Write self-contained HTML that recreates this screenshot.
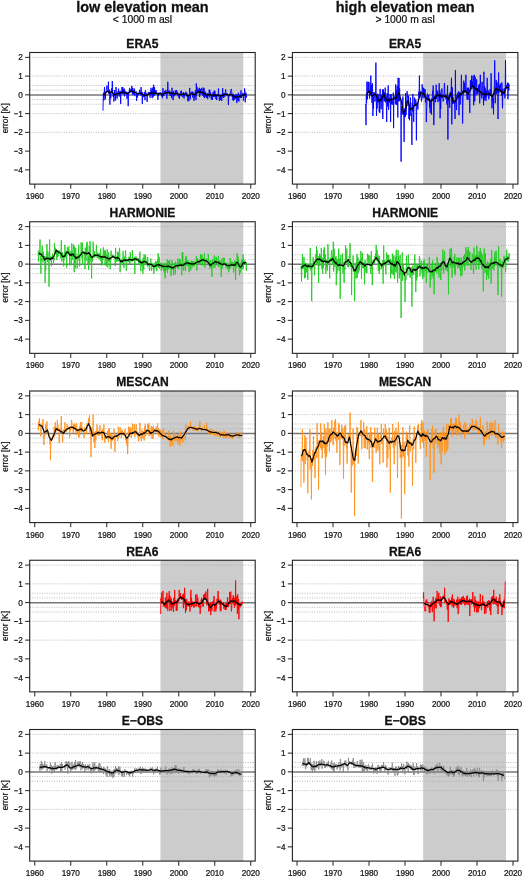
<!DOCTYPE html>
<html><head><meta charset="utf-8"><style>html,body{margin:0;padding:0;background:#fff;overflow:hidden;}svg{display:block;filter:blur(0.35px);}</style></head>
<body><svg width="525" height="881" viewBox="0 0 525 881" font-family='"Liberation Sans", sans-serif'>
<rect width="525" height="881" fill="#fff"/>
<style>text{fill:#111;stroke:#111;stroke-width:0.22px;}text.b{stroke-width:0.28px;}</style>
<text x="142.45" y="12.2" font-size="14.45" font-weight="bold" class="b" text-anchor="middle">low elevation mean</text>
<text x="142.45" y="23.3" font-size="10.3" text-anchor="middle">&lt; 1000 m asl</text>
<text x="405.15" y="12.2" font-size="14.45" font-weight="bold" class="b" text-anchor="middle">high elevation mean</text>
<text x="405.15" y="23.3" font-size="10.3" text-anchor="middle">&gt; 1000 m asl</text>
<rect x="160.45" y="52.50" width="82.80" height="131.60" fill="#cccccc"/>
<line x1="29.70" x2="255.20" y1="57.37" y2="57.37" stroke="#aaa" stroke-width="0.8" stroke-dasharray="1,1.45"/>
<line x1="29.70" x2="255.20" y1="76.12" y2="76.12" stroke="#aaa" stroke-width="0.8" stroke-dasharray="1,1.45"/>
<line x1="29.70" x2="255.20" y1="85.49" y2="85.49" stroke="#aaa" stroke-width="0.8" stroke-dasharray="1,1.45"/>
<line x1="29.70" x2="255.20" y1="90.18" y2="90.18" stroke="#aaa" stroke-width="0.8" stroke-dasharray="1,1.45"/>
<line x1="29.70" x2="255.20" y1="99.55" y2="99.55" stroke="#aaa" stroke-width="0.8" stroke-dasharray="1,1.45"/>
<line x1="29.70" x2="255.20" y1="104.24" y2="104.24" stroke="#aaa" stroke-width="0.8" stroke-dasharray="1,1.45"/>
<line x1="29.70" x2="255.20" y1="113.61" y2="113.61" stroke="#aaa" stroke-width="0.8" stroke-dasharray="1,1.45"/>
<line x1="29.70" x2="255.20" y1="132.36" y2="132.36" stroke="#aaa" stroke-width="0.8" stroke-dasharray="1,1.45"/>
<line x1="29.70" x2="255.20" y1="95.07" y2="95.07" stroke="#777" stroke-width="1.4"/>
<polyline points="103.00,110.71 103.30,94.17 103.60,92.65 103.90,100.48 104.20,95.95 104.50,87.10 104.80,95.47 105.10,94.25 105.40,99.36 105.70,91.26 106.00,91.20 106.30,92.04 106.60,90.56 106.90,85.67 107.20,91.27 107.50,91.90 107.80,91.87 108.10,91.63 108.40,81.76 108.70,93.30 109.00,92.38 109.30,93.88 109.60,89.67 109.90,104.62 110.20,92.93 110.50,92.35 110.80,98.27 111.10,91.35 111.40,91.83 111.70,88.42 112.00,92.62 112.30,81.00 112.60,93.93 112.90,93.97 113.20,96.68 113.50,93.82 113.80,101.57 114.10,100.20 114.40,90.00 114.70,95.65 115.00,92.80 115.30,94.82 115.60,100.53 115.90,87.10 116.20,87.70 116.50,94.15 116.80,94.66 117.10,98.56 117.40,94.39 117.70,94.53 118.00,91.33 118.30,93.60 118.60,88.63 118.90,94.30 119.20,96.52 119.50,91.94 119.80,94.44 120.10,90.81 120.40,95.04 120.70,103.86 121.00,92.74 121.30,93.80 121.60,93.72 121.90,87.17 122.20,89.22 122.50,93.60 122.80,87.13 123.10,94.22 123.40,89.55 123.70,93.18 124.00,94.52 124.30,88.62 124.60,96.40 124.90,91.92 125.20,93.15 125.50,91.43 125.80,90.94 126.10,92.85 126.40,93.80 126.70,92.41 127.00,98.95 127.30,95.04 127.60,92.30 127.90,92.25 128.20,106.14 128.50,93.90 128.80,92.24 129.10,93.33 129.40,89.89 129.70,87.86 130.00,92.85 130.30,91.27 130.60,89.92 130.90,89.93 131.20,89.11 131.50,91.34 131.80,85.90 132.10,92.32 132.40,94.02 132.70,87.86 133.00,94.82 133.30,90.11 133.60,91.36 133.90,93.82 134.20,88.48 134.50,90.06 134.80,96.14 135.10,92.03 135.40,92.61 135.70,92.14 136.00,91.27 136.30,92.00 136.60,100.81 136.90,94.25 137.20,93.86 137.50,97.37 137.80,94.28 138.10,93.15 138.40,93.86 138.70,95.05 139.00,92.08 139.30,92.25 139.60,89.79 139.90,94.10 140.20,91.73 140.50,94.24 140.80,95.52 141.10,87.10 141.40,94.68 141.70,93.89 142.00,91.89 142.30,103.86 142.60,92.52 142.90,96.83 143.20,97.21 143.50,94.80 143.80,96.63 144.10,96.74 144.40,92.04 144.70,94.33 145.00,100.14 145.30,90.49 145.60,90.14 145.90,95.51 146.20,94.46 146.50,93.58 146.80,93.19 147.10,101.80 147.40,95.26 147.70,94.56 148.00,94.34 148.30,91.96 148.60,93.73 148.90,92.90 149.20,94.14 149.50,92.73 149.80,92.11 150.10,97.81 150.40,91.78 150.70,93.53 151.00,87.82 151.30,92.82 151.60,95.06 151.90,89.62 152.20,98.14 152.50,90.35 152.80,87.49 153.10,97.21 153.40,94.83 153.70,84.81 154.00,95.28 154.30,95.60 154.60,87.17 154.90,95.21 155.20,93.22 155.50,90.66 155.80,93.77 156.10,90.27 156.40,93.02 156.70,93.62 157.00,92.62 157.30,93.21 157.60,94.82 157.90,99.79 158.20,94.38 158.50,96.00 158.80,92.82 159.10,92.51 159.40,92.61 159.70,93.58 160.00,93.55 160.30,92.87 160.60,92.40 160.90,93.58 161.20,94.23 161.50,96.43 161.80,93.46 162.10,95.02 162.40,98.21 162.70,93.18 163.00,88.19 163.30,96.24 163.60,93.21 163.90,95.75 164.20,93.84 164.50,93.29 164.80,90.83 165.10,93.72 165.40,93.14 165.70,91.38 166.00,89.93 166.30,92.52 166.60,95.28 166.90,98.78 167.20,92.94 167.50,93.55 167.80,81.76 168.10,91.98 168.40,91.43 168.70,91.02 169.00,92.95 169.30,90.54 169.60,93.83 169.90,91.31 170.20,96.06 170.50,93.60 170.80,93.95 171.10,91.93 171.40,93.03 171.70,98.15 172.00,87.84 172.30,94.11 172.60,92.94 172.90,97.90 173.20,100.05 173.50,91.14 173.80,95.76 174.10,93.73 174.40,94.88 174.70,96.17 175.00,93.44 175.30,90.34 175.60,93.42 175.90,94.64 176.20,94.02 176.50,90.06 176.80,90.86 177.10,94.39 177.40,91.83 177.70,92.76 178.00,96.13 178.30,95.58 178.60,94.39 178.90,97.76 179.20,94.02 179.50,98.74 179.80,94.56 180.10,95.29 180.40,92.77 180.70,91.47 181.00,92.66 181.30,90.65 181.60,95.53 181.90,95.12 182.20,96.97 182.50,97.05 182.80,96.03 183.10,92.66 183.40,95.13 183.70,92.05 184.00,98.52 184.30,94.04 184.60,95.64 184.90,95.17 185.20,94.45 185.50,94.31 185.80,91.79 186.10,92.04 186.40,95.38 186.70,96.40 187.00,93.11 187.30,95.66 187.60,95.37 187.90,101.22 188.20,96.22 188.50,97.33 188.80,101.11 189.10,98.62 189.40,93.65 189.70,87.90 190.00,93.99 190.30,99.29 190.60,94.89 190.90,94.65 191.20,91.77 191.50,92.59 191.80,93.04 192.10,93.09 192.40,91.48 192.70,97.50 193.00,94.45 193.30,93.91 193.60,92.42 193.90,100.81 194.20,99.55 194.50,94.94 194.80,96.75 195.10,92.58 195.40,90.30 195.70,94.75 196.00,100.08 196.30,83.29 196.60,95.30 196.90,86.72 197.20,93.02 197.50,90.56 197.80,92.91 198.10,88.68 198.40,92.70 198.70,91.52 199.00,92.98 199.30,87.79 199.60,97.04 199.90,93.70 200.20,91.19 200.50,89.09 200.80,94.47 201.10,93.70 201.40,88.39 201.70,87.93 202.00,93.20 202.30,91.64 202.60,95.37 202.90,94.14 203.20,87.55 203.50,96.62 203.80,95.39 204.10,88.28 204.40,97.99 204.70,92.43 205.00,93.81 205.30,91.74 205.60,96.24 205.90,93.98 206.20,97.72 206.50,94.12 206.80,97.69 207.10,92.88 207.40,94.68 207.70,99.15 208.00,95.54 208.30,94.67 208.60,95.18 208.90,95.88 209.20,89.58 209.50,97.31 209.80,90.10 210.10,94.48 210.40,92.89 210.70,92.76 211.00,97.22 211.30,99.61 211.60,94.69 211.90,94.50 212.20,95.96 212.50,99.85 212.80,94.60 213.10,92.15 213.40,96.94 213.70,94.74 214.00,92.16 214.30,90.68 214.60,96.85 214.90,90.84 215.20,96.26 215.50,94.35 215.80,98.89 216.10,94.89 216.40,94.41 216.70,100.05 217.00,95.97 217.30,94.68 217.60,95.00 217.90,94.47 218.20,93.90 218.50,88.51 218.80,96.92 219.10,97.22 219.40,100.90 219.70,96.37 220.00,94.61 220.30,95.06 220.60,100.05 220.90,96.18 221.20,94.74 221.50,99.67 221.80,100.97 222.10,96.61 222.40,93.04 222.70,88.20 223.00,97.05 223.30,94.78 223.60,97.83 223.90,93.09 224.20,93.86 224.50,96.50 224.80,97.07 225.10,93.03 225.40,91.67 225.70,89.39 226.00,94.02 226.30,95.22 226.60,95.14 226.90,94.02 227.20,93.01 227.50,94.89 227.80,94.94 228.10,96.59 228.40,104.92 228.70,95.91 229.00,95.24 229.30,96.13 229.60,96.29 229.90,94.80 230.20,95.76 230.50,90.90 230.80,90.39 231.10,89.23 231.40,89.07 231.70,91.50 232.00,96.85 232.30,97.01 232.60,96.07 232.90,100.19 233.20,93.71 233.50,100.92 233.80,95.12 234.10,100.02 234.40,95.16 234.70,98.43 235.00,96.90 235.30,94.66 235.60,97.44 235.90,99.14 236.20,94.57 236.50,96.84 236.80,103.03 237.10,94.14 237.40,95.67 237.70,98.24 238.00,100.76 238.30,92.68 238.60,96.04 238.90,101.57 239.20,97.26 239.50,97.05 239.80,94.44 240.10,95.67 240.40,98.06 240.70,95.50 241.00,90.44 241.30,97.94 241.60,95.08 241.90,95.49 242.20,95.90 242.50,93.29 242.80,95.97 243.10,93.18 243.40,100.58 243.70,98.46 244.00,94.72 244.30,95.01 244.60,88.40 244.90,92.19 245.20,102.33 245.50,97.70 245.80,92.43 246.10,93.95 246.40,97.63 246.70,96.20" fill="none" stroke="#0000ff" stroke-width="0.9" stroke-linejoin="miter" stroke-miterlimit="2"/><polyline points="103.90,95.08 104.20,94.67 104.50,94.35 104.80,93.98 105.10,93.57 105.40,93.31 105.70,93.18 106.00,92.56 106.30,92.19 106.60,91.84 106.90,91.61 107.20,91.57 107.50,91.31 107.80,91.26 108.10,91.59 108.40,91.67 108.70,91.79 109.00,92.57 109.30,92.57 109.60,92.57 109.90,92.35 110.20,92.41 110.50,92.19 110.80,92.18 111.10,92.19 111.40,92.23 111.70,92.33 112.00,91.89 112.30,92.38 112.60,92.65 112.90,92.91 113.20,93.43 113.50,94.04 113.80,95.03 114.10,94.86 114.40,94.67 114.70,94.53 115.00,94.45 115.30,94.49 115.60,94.49 115.90,94.64 116.20,94.09 116.50,94.30 116.80,93.85 117.10,93.93 117.40,94.02 117.70,93.47 118.00,93.52 118.30,93.69 118.60,93.76 118.90,93.52 119.20,93.16 119.50,93.13 119.80,93.08 120.10,92.83 120.40,92.55 120.70,92.86 121.00,92.41 121.30,92.27 121.60,92.12 121.90,92.04 122.20,92.26 122.50,91.83 122.80,92.18 123.10,92.13 123.40,92.10 123.70,91.96 124.00,92.20 124.30,92.44 124.60,92.44 124.90,92.73 125.20,93.00 125.50,93.32 125.80,93.25 126.10,93.09 126.40,93.60 126.70,93.43 127.00,93.44 127.30,93.44 127.60,93.33 127.90,93.17 128.20,93.16 128.50,92.99 128.80,92.83 129.10,92.25 129.40,91.86 129.70,91.78 130.00,91.35 130.30,91.06 130.60,91.06 130.90,91.05 131.20,91.16 131.50,91.20 131.80,91.38 132.10,91.45 132.40,91.29 132.70,91.30 133.00,91.68 133.30,91.87 133.60,91.95 133.90,92.33 134.20,92.27 134.50,92.15 134.80,92.27 135.10,92.24 135.40,92.46 135.70,92.82 136.00,92.83 136.30,93.09 136.60,93.30 136.90,93.29 137.20,93.33 137.50,93.35 137.80,93.24 138.10,93.45 138.40,93.46 138.70,93.52 139.00,93.62 139.30,93.58 139.60,93.43 139.90,93.43 140.20,93.38 140.50,93.43 140.80,93.30 141.10,93.62 141.40,93.93 141.70,94.25 142.00,94.42 142.30,94.74 142.60,94.62 142.90,94.56 143.20,95.02 143.50,94.78 143.80,94.94 144.10,95.18 144.40,95.22 144.70,95.33 145.00,95.15 145.30,95.49 145.60,95.58 145.90,95.44 146.20,95.24 146.50,95.18 146.80,95.10 147.10,94.63 147.40,94.83 147.70,94.60 148.00,94.37 148.30,94.57 148.60,94.45 148.90,94.45 149.20,93.58 149.50,93.42 149.80,93.44 150.10,93.14 150.40,93.50 150.70,93.28 151.00,92.94 151.30,93.11 151.60,93.23 151.90,93.38 152.20,93.21 152.50,93.44 152.80,93.04 153.10,93.49 153.40,93.50 153.70,93.22 154.00,93.46 154.30,92.97 154.60,93.12 154.90,93.49 155.20,93.20 155.50,93.09 155.80,93.08 156.10,93.35 156.40,93.25 156.70,93.78 157.00,93.60 157.30,93.52 157.60,93.60 157.90,93.54 158.20,93.79 158.50,93.82 158.80,93.78 159.10,93.87 159.40,93.95 159.70,94.07 160.00,93.69 160.30,93.74 160.60,93.88 160.90,93.92 161.20,93.68 161.50,93.95 161.80,93.97 162.10,94.17 162.40,94.30 162.70,94.31 163.00,94.06 163.30,93.96 163.60,93.70 163.90,93.52 164.20,93.17 164.50,92.80 164.80,92.90 165.10,93.53 165.40,93.30 165.70,93.27 166.00,93.01 166.30,92.82 166.60,92.62 166.90,92.53 167.20,92.49 167.50,92.42 167.80,92.65 168.10,92.80 168.40,93.08 168.70,93.01 169.00,92.74 169.30,92.70 169.60,92.69 169.90,93.06 170.20,92.83 170.50,93.01 170.80,93.15 171.10,93.47 171.40,93.31 171.70,93.16 172.00,93.46 172.30,93.34 172.60,93.44 172.90,93.60 173.20,93.72 173.50,93.60 173.80,93.35 174.10,93.82 174.40,93.88 174.70,93.76 175.00,93.28 175.30,93.65 175.60,93.65 175.90,93.44 176.20,93.56 176.50,93.59 176.80,93.48 177.10,93.44 177.40,93.66 177.70,93.98 178.00,93.96 178.30,94.01 178.60,94.14 178.90,94.15 179.20,94.00 179.50,93.97 179.80,94.19 180.10,94.18 180.40,94.32 180.70,94.53 181.00,94.77 181.30,94.68 181.60,94.43 181.90,94.26 182.20,94.01 182.50,94.08 182.80,94.33 183.10,94.48 183.40,94.71 183.70,94.64 184.00,94.44 184.30,94.13 184.60,94.03 184.90,94.05 185.20,94.08 185.50,94.11 185.80,94.32 186.10,94.93 186.40,95.07 186.70,95.18 187.00,95.56 187.30,95.82 187.60,95.76 187.90,95.50 188.20,95.60 188.50,95.62 188.80,95.52 189.10,95.60 189.40,95.36 189.70,95.18 190.00,94.67 190.30,94.47 190.60,94.10 190.90,93.87 191.20,93.60 191.50,93.61 191.80,93.88 192.10,93.84 192.40,94.07 192.70,94.07 193.00,94.19 193.30,94.24 193.60,94.08 193.90,94.17 194.20,94.59 194.50,94.87 194.80,94.72 195.10,94.23 195.40,94.17 195.70,94.04 196.00,94.00 196.30,93.32 196.60,93.17 196.90,92.84 197.20,92.85 197.50,92.69 197.80,92.82 198.10,92.40 198.40,92.06 198.70,91.65 199.00,92.08 199.30,92.08 199.60,91.96 199.90,91.70 200.20,92.02 200.50,91.99 200.80,92.25 201.10,92.34 201.40,92.33 201.70,92.32 202.00,92.43 202.30,92.27 202.60,92.82 202.90,92.71 203.20,92.73 203.50,92.94 203.80,93.41 204.10,93.46 204.40,93.84 204.70,93.77 205.00,94.00 205.30,94.33 205.60,94.22 205.90,94.47 206.20,94.94 206.50,94.76 206.80,94.94 207.10,95.09 207.40,94.97 207.70,95.11 208.00,94.89 208.30,94.70 208.60,94.64 208.90,94.35 209.20,94.63 209.50,94.95 209.80,94.69 210.10,94.65 210.40,94.76 210.70,95.08 211.00,95.03 211.30,95.24 211.60,95.25 211.90,95.50 212.20,95.33 212.50,95.17 212.80,95.40 213.10,95.00 213.40,94.78 213.70,94.76 214.00,95.03 214.30,94.96 214.60,94.62 214.90,94.95 215.20,95.18 215.50,95.04 215.80,95.06 216.10,95.20 216.40,95.39 216.70,94.88 217.00,95.25 217.30,95.31 217.60,95.71 217.90,95.55 218.20,95.52 218.50,95.56 218.80,95.23 219.10,95.24 219.40,95.24 219.70,95.52 220.00,95.92 220.30,96.08 220.60,96.35 220.90,95.81 221.20,95.80 221.50,95.42 221.80,95.50 222.10,95.40 222.40,95.32 222.70,95.41 223.00,95.44 223.30,95.32 223.60,95.04 223.90,94.33 224.20,94.20 224.50,94.35 224.80,94.80 225.10,94.63 225.40,94.54 225.70,94.37 226.00,94.49 226.30,94.66 226.60,94.56 226.90,94.50 227.20,94.64 227.50,94.68 227.80,95.11 228.10,95.17 228.40,95.21 228.70,95.26 229.00,95.04 229.30,94.82 229.60,94.47 229.90,94.26 230.20,94.29 230.50,94.43 230.80,94.45 231.10,94.76 231.40,94.62 231.70,94.92 232.00,94.94 232.30,95.21 232.60,95.18 232.90,95.68 233.20,96.16 233.50,96.51 233.80,96.88 234.10,97.03 234.40,96.89 234.70,96.94 235.00,97.12 235.30,97.14 235.60,96.82 235.90,97.01 236.20,97.07 236.50,96.94 236.80,96.82 237.10,96.78 237.40,96.96 237.70,96.95 238.00,96.68 238.30,96.76 238.60,96.85 238.90,96.41 239.20,96.22 239.50,96.41 239.80,96.28 240.10,96.04 240.40,96.33 240.70,96.14 241.00,96.02 241.30,95.67 241.60,95.80 241.90,95.98 242.20,95.87 242.50,95.64 242.80,95.17 243.10,95.24 243.40,94.97 243.70,95.08 244.00,94.92 244.30,94.74 244.60,94.92 244.90,94.85 245.20,94.92 245.50,94.58 245.80,94.33" fill="none" stroke="#000" stroke-width="1.15" stroke-linejoin="round" stroke-linecap="round"/>
<rect x="29.70" y="52.50" width="225.50" height="131.60" fill="none" stroke="#222" stroke-width="1.1"/>
<line x1="25.10" x2="29.70" y1="57.37" y2="57.37" stroke="#222" stroke-width="1"/>
<text x="22.80" y="60.27" font-size="8.2" text-anchor="end">2</text>
<line x1="25.10" x2="29.70" y1="76.12" y2="76.12" stroke="#222" stroke-width="1"/>
<text x="22.80" y="79.02" font-size="8.2" text-anchor="end">1</text>
<line x1="25.10" x2="29.70" y1="94.87" y2="94.87" stroke="#222" stroke-width="1"/>
<text x="22.80" y="97.77" font-size="8.2" text-anchor="end">0</text>
<line x1="25.10" x2="29.70" y1="113.61" y2="113.61" stroke="#222" stroke-width="1"/>
<text x="22.80" y="116.51" font-size="8.2" text-anchor="end">1</text>
<line x1="14.10" x2="17.90" y1="113.81" y2="113.81" stroke="#111" stroke-width="1"/>
<line x1="25.10" x2="29.70" y1="132.36" y2="132.36" stroke="#222" stroke-width="1"/>
<text x="22.80" y="135.26" font-size="8.2" text-anchor="end">2</text>
<line x1="14.10" x2="17.90" y1="132.56" y2="132.56" stroke="#111" stroke-width="1"/>
<line x1="25.10" x2="29.70" y1="151.11" y2="151.11" stroke="#222" stroke-width="1"/>
<text x="22.80" y="154.01" font-size="8.2" text-anchor="end">3</text>
<line x1="14.10" x2="17.90" y1="151.31" y2="151.31" stroke="#111" stroke-width="1"/>
<line x1="25.10" x2="29.70" y1="169.85" y2="169.85" stroke="#222" stroke-width="1"/>
<text x="22.80" y="172.75" font-size="8.2" text-anchor="end">4</text>
<line x1="14.10" x2="17.90" y1="170.05" y2="170.05" stroke="#111" stroke-width="1"/>
<line x1="34.75" x2="34.75" y1="184.10" y2="188.70" stroke="#222" stroke-width="1"/>
<text x="34.75" y="199.10" font-size="8.2" text-anchor="middle">1960</text>
<line x1="70.75" x2="70.75" y1="184.10" y2="188.70" stroke="#222" stroke-width="1"/>
<text x="70.75" y="199.10" font-size="8.2" text-anchor="middle">1970</text>
<line x1="106.75" x2="106.75" y1="184.10" y2="188.70" stroke="#222" stroke-width="1"/>
<text x="106.75" y="199.10" font-size="8.2" text-anchor="middle">1980</text>
<line x1="142.75" x2="142.75" y1="184.10" y2="188.70" stroke="#222" stroke-width="1"/>
<text x="142.75" y="199.10" font-size="8.2" text-anchor="middle">1990</text>
<line x1="178.75" x2="178.75" y1="184.10" y2="188.70" stroke="#222" stroke-width="1"/>
<text x="178.75" y="199.10" font-size="8.2" text-anchor="middle">2000</text>
<line x1="214.75" x2="214.75" y1="184.10" y2="188.70" stroke="#222" stroke-width="1"/>
<text x="214.75" y="199.10" font-size="8.2" text-anchor="middle">2010</text>
<line x1="250.75" x2="250.75" y1="184.10" y2="188.70" stroke="#222" stroke-width="1"/>
<text x="250.75" y="199.10" font-size="8.2" text-anchor="middle">2020</text>
<text transform="translate(8.20,118.30) rotate(-90)" font-size="8.3" text-anchor="middle">error [K]</text>
<text x="142.45" y="47.90" font-size="12.1" font-weight="bold" class="b" text-anchor="middle">ERA5</text>
<rect x="423.15" y="52.50" width="82.80" height="131.60" fill="#cccccc"/>
<line x1="292.40" x2="517.90" y1="57.37" y2="57.37" stroke="#aaa" stroke-width="0.8" stroke-dasharray="1,1.45"/>
<line x1="292.40" x2="517.90" y1="76.12" y2="76.12" stroke="#aaa" stroke-width="0.8" stroke-dasharray="1,1.45"/>
<line x1="292.40" x2="517.90" y1="85.49" y2="85.49" stroke="#aaa" stroke-width="0.8" stroke-dasharray="1,1.45"/>
<line x1="292.40" x2="517.90" y1="90.18" y2="90.18" stroke="#aaa" stroke-width="0.8" stroke-dasharray="1,1.45"/>
<line x1="292.40" x2="517.90" y1="99.55" y2="99.55" stroke="#aaa" stroke-width="0.8" stroke-dasharray="1,1.45"/>
<line x1="292.40" x2="517.90" y1="104.24" y2="104.24" stroke="#aaa" stroke-width="0.8" stroke-dasharray="1,1.45"/>
<line x1="292.40" x2="517.90" y1="113.61" y2="113.61" stroke="#aaa" stroke-width="0.8" stroke-dasharray="1,1.45"/>
<line x1="292.40" x2="517.90" y1="132.36" y2="132.36" stroke="#aaa" stroke-width="0.8" stroke-dasharray="1,1.45"/>
<line x1="292.40" x2="517.90" y1="95.07" y2="95.07" stroke="#777" stroke-width="1.4"/>
<polyline points="365.70,103.90 366.00,125.10 366.30,95.47 366.60,103.15 366.90,81.67 367.20,92.54 367.50,99.30 367.80,87.93 368.10,81.70 368.40,88.64 368.70,92.53 369.00,82.26 369.30,93.16 369.60,98.48 369.90,93.18 370.20,92.73 370.50,94.07 370.80,75.57 371.10,95.94 371.40,85.28 371.70,95.63 372.00,103.04 372.30,83.10 372.60,91.86 372.90,115.95 373.20,97.13 373.50,108.74 373.80,92.01 374.10,93.96 374.40,96.95 374.70,92.90 375.00,101.61 375.30,93.18 375.60,90.19 375.90,62.62 376.20,94.49 376.50,115.95 376.80,95.53 377.10,108.46 377.40,93.68 377.70,95.96 378.00,98.52 378.30,102.66 378.60,97.08 378.90,94.28 379.20,111.69 379.50,98.81 379.80,112.90 380.10,88.90 380.40,99.44 380.70,98.41 381.00,108.59 381.30,109.22 381.60,95.01 381.90,101.85 382.20,96.97 382.50,89.45 382.80,119.00 383.10,96.39 383.40,89.51 383.70,98.39 384.00,96.46 384.30,101.42 384.60,92.46 384.90,101.17 385.20,87.65 385.50,96.08 385.80,102.54 386.10,96.23 386.40,105.40 386.70,122.05 387.00,94.36 387.30,93.03 387.60,106.30 387.90,99.85 388.20,85.48 388.50,109.90 388.80,107.59 389.10,97.78 389.40,102.15 389.70,102.73 390.00,94.15 390.30,94.67 390.60,122.05 390.90,102.34 391.20,94.18 391.50,104.30 391.80,98.36 392.10,100.39 392.40,100.58 392.70,104.78 393.00,103.54 393.30,92.63 393.60,128.14 393.90,95.91 394.20,95.88 394.50,99.40 394.80,99.09 395.10,97.45 395.40,104.39 395.70,84.29 396.00,99.69 396.30,90.46 396.60,104.74 396.90,95.57 397.20,85.86 397.50,99.83 397.80,117.48 398.10,77.86 398.40,94.27 398.70,101.49 399.00,77.97 399.30,101.09 399.60,88.35 399.90,99.88 400.20,97.18 400.50,98.19 400.80,99.14 401.10,161.67 401.40,106.39 401.70,108.41 402.00,114.56 402.30,106.82 402.60,103.30 402.90,96.53 403.20,114.55 403.50,111.26 403.80,116.32 404.10,141.86 404.40,108.49 404.70,117.36 405.00,110.25 405.30,116.89 405.60,93.10 405.90,114.29 406.20,114.99 406.50,100.47 406.80,100.05 407.10,91.19 407.40,97.24 407.70,96.45 408.00,106.03 408.30,104.44 408.60,95.59 408.90,119.00 409.20,108.30 409.50,120.31 409.80,108.83 410.10,116.03 410.40,97.47 410.70,109.97 411.00,108.73 411.30,114.23 411.60,113.42 411.90,144.90 412.20,102.83 412.50,111.42 412.80,93.98 413.10,105.48 413.40,107.53 413.70,121.91 414.00,108.13 414.30,105.88 414.60,97.54 414.90,105.67 415.20,105.02 415.50,105.23 415.80,99.26 416.10,105.47 416.40,140.33 416.70,108.02 417.00,102.84 417.30,106.67 417.60,104.73 417.90,109.44 418.20,102.16 418.50,97.66 418.80,91.78 419.10,95.71 419.40,75.57 419.70,97.58 420.00,92.86 420.30,95.44 420.60,91.24 420.90,96.76 421.20,96.79 421.50,101.60 421.80,97.38 422.10,84.36 422.40,87.76 422.70,90.94 423.00,98.34 423.30,87.70 423.60,91.68 423.90,96.42 424.20,88.68 424.50,97.65 424.80,94.48 425.10,89.34 425.40,102.44 425.70,97.16 426.00,95.72 426.30,122.05 426.60,111.94 426.90,103.00 427.20,95.39 427.50,93.61 427.80,97.84 428.10,99.17 428.40,99.50 428.70,94.86 429.00,99.42 429.30,98.20 429.60,107.44 429.90,103.63 430.20,112.90 430.50,101.20 430.80,99.57 431.10,102.58 431.40,114.56 431.70,98.53 432.00,99.22 432.30,99.13 432.60,91.15 432.90,92.68 433.20,85.48 433.50,98.27 433.80,125.10 434.10,112.77 434.40,98.91 434.70,96.01 435.00,98.79 435.30,95.26 435.60,102.19 435.90,96.31 436.20,84.77 436.50,98.61 436.80,96.49 437.10,90.53 437.40,95.06 437.70,91.63 438.00,102.15 438.30,96.29 438.60,95.14 438.90,95.35 439.20,83.27 439.50,100.90 439.80,90.25 440.10,118.24 440.40,93.04 440.70,108.98 441.00,98.98 441.30,95.51 441.60,96.51 441.90,88.50 442.20,97.92 442.50,95.23 442.80,97.18 443.10,101.40 443.40,101.01 443.70,98.72 444.00,95.90 444.30,83.25 444.60,83.19 444.90,96.95 445.20,95.81 445.50,95.13 445.80,98.91 446.10,96.02 446.40,98.93 446.70,102.32 447.00,104.60 447.30,90.80 447.60,85.37 447.90,139.57 448.20,97.72 448.50,100.79 448.80,95.61 449.10,96.74 449.40,94.53 449.70,107.80 450.00,92.77 450.30,92.13 450.60,97.14 450.90,93.81 451.20,87.02 451.50,77.86 451.80,124.33 452.10,94.75 452.40,87.40 452.70,103.91 453.00,96.84 453.30,100.23 453.60,101.30 453.90,103.55 454.20,103.00 454.50,100.38 454.80,108.32 455.10,119.00 455.40,70.24 455.70,100.02 456.00,99.21 456.30,104.16 456.60,110.13 456.90,94.88 457.20,98.29 457.50,92.81 457.80,94.37 458.10,94.61 458.40,91.42 458.70,93.04 459.00,115.19 459.30,94.07 459.60,98.53 459.90,91.98 460.20,104.51 460.50,97.48 460.80,94.03 461.10,92.83 461.40,74.81 461.70,88.31 462.00,94.78 462.30,96.59 462.60,123.57 462.90,106.01 463.20,90.42 463.50,94.12 463.80,80.66 464.10,90.99 464.40,83.05 464.70,88.44 465.00,92.52 465.30,91.59 465.60,89.24 465.90,74.81 466.20,87.52 466.50,91.08 466.80,96.38 467.10,99.65 467.40,87.72 467.70,94.42 468.00,99.85 468.30,92.51 468.60,87.68 468.90,94.23 469.20,94.21 469.50,103.80 469.80,112.90 470.10,94.03 470.40,80.07 470.70,90.32 471.00,81.82 471.30,86.65 471.60,75.60 471.90,89.08 472.20,81.41 472.50,87.05 472.80,86.69 473.10,75.49 473.40,88.75 473.70,105.29 474.00,96.27 474.30,74.86 474.60,101.32 474.90,101.38 475.20,76.72 475.50,85.86 475.80,86.97 476.10,95.17 476.40,82.97 476.70,79.38 477.00,93.63 477.30,92.99 477.60,88.18 477.90,94.36 478.20,90.70 478.50,91.68 478.80,84.93 479.10,91.40 479.40,83.90 479.70,103.33 480.00,95.62 480.30,74.81 480.60,84.91 480.90,85.89 481.20,93.67 481.50,96.48 481.80,98.41 482.10,81.82 482.40,92.75 482.70,93.72 483.00,95.45 483.30,98.76 483.60,105.29 483.90,71.76 484.20,100.44 484.50,86.20 484.80,86.95 485.10,98.74 485.40,88.58 485.70,95.74 486.00,100.97 486.30,91.10 486.60,96.75 486.90,91.92 487.20,77.86 487.50,92.89 487.80,93.37 488.10,93.12 488.40,90.56 488.70,99.29 489.00,96.29 489.30,96.34 489.60,93.75 489.90,90.63 490.20,88.91 490.50,94.77 490.80,94.83 491.10,73.29 491.40,91.14 491.70,95.22 492.00,108.27 492.30,95.27 492.60,98.75 492.90,102.57 493.20,98.08 493.50,114.43 493.80,92.97 494.10,94.19 494.40,83.04 494.70,60.33 495.00,81.34 495.30,103.22 495.60,88.97 495.90,89.58 496.20,79.96 496.50,93.82 496.80,94.08 497.10,82.41 497.40,87.88 497.70,93.66 498.00,119.00 498.30,92.06 498.60,72.52 498.90,93.00 499.20,91.50 499.50,85.49 499.80,90.92 500.10,89.76 500.40,83.55 500.70,88.29 501.00,91.88 501.30,90.37 501.60,95.75 501.90,82.43 502.20,92.94 502.50,108.33 502.80,88.82 503.10,94.22 503.40,93.00 503.70,91.11 504.00,90.35 504.30,88.10 504.60,88.49 504.90,98.35 505.20,90.37 505.50,60.33 505.80,88.65 506.10,85.11 506.40,88.52 506.70,88.57 507.00,84.92 507.30,85.25 507.60,82.59 507.90,99.19 508.20,91.58 508.50,83.19 508.80,90.42 509.10,86.31 509.40,84.56" fill="none" stroke="#0000ff" stroke-width="0.9" stroke-linejoin="miter" stroke-miterlimit="2"/><polyline points="366.60,94.32 366.90,94.06 367.20,93.14 367.50,92.98 367.80,92.50 368.10,92.59 368.40,92.23 368.70,91.44 369.00,91.43 369.30,91.66 369.60,91.06 369.90,91.76 370.20,93.26 370.50,93.08 370.80,93.21 371.10,94.26 371.40,94.71 371.70,95.58 372.00,95.79 372.30,95.94 372.60,95.81 372.90,95.28 373.20,95.40 373.50,95.69 373.80,95.12 374.10,94.22 374.40,94.61 374.70,94.54 375.00,94.03 375.30,94.44 375.60,94.11 375.90,94.87 376.20,95.59 376.50,96.32 376.80,96.94 377.10,96.85 377.40,98.35 377.70,99.30 378.00,100.68 378.30,100.84 378.60,100.56 378.90,100.37 379.20,100.08 379.50,100.80 379.80,100.58 380.10,100.70 380.40,100.34 380.70,99.86 381.00,99.68 381.30,98.76 381.60,98.06 381.90,97.38 382.20,97.64 382.50,97.51 382.80,96.84 383.10,96.02 383.40,94.29 383.70,94.16 384.00,94.68 384.30,95.07 384.60,96.48 384.90,97.37 385.20,97.64 385.50,98.24 385.80,99.11 386.10,99.25 386.40,99.05 386.70,99.89 387.00,100.10 387.30,100.59 387.60,100.86 387.90,100.82 388.20,100.64 388.50,99.93 388.80,99.99 389.10,100.46 389.40,100.54 389.70,100.42 390.00,100.33 390.30,100.19 390.60,99.58 390.90,99.36 391.20,99.65 391.50,98.98 391.80,98.80 392.10,98.88 392.40,99.08 392.70,99.10 393.00,98.99 393.30,99.27 393.60,99.34 393.90,98.52 394.20,98.55 394.50,98.05 394.80,98.22 395.10,97.95 395.40,97.82 395.70,98.05 396.00,98.11 396.30,97.72 396.60,97.04 396.90,96.88 397.20,95.37 397.50,94.81 397.80,94.65 398.10,94.16 398.40,93.98 398.70,92.88 399.00,93.10 399.30,94.51 399.60,95.55 399.90,96.59 400.20,98.07 400.50,99.06 400.80,99.24 401.10,100.37 401.40,101.66 401.70,103.60 402.00,105.23 402.30,106.82 402.60,108.21 402.90,110.16 403.20,111.92 403.50,113.15 403.80,111.70 404.10,111.16 404.40,111.33 404.70,111.00 405.00,111.25 405.30,110.03 405.60,109.54 405.90,108.02 406.20,106.98 406.50,105.99 406.80,103.85 407.10,102.71 407.40,101.26 407.70,101.78 408.00,100.35 408.30,101.39 408.60,102.05 408.90,103.42 409.20,105.15 409.50,106.75 409.80,108.25 410.10,108.82 410.40,108.89 410.70,109.69 411.00,108.87 411.30,108.67 411.60,107.93 411.90,108.85 412.20,108.56 412.50,109.33 412.80,108.39 413.10,107.93 413.40,107.11 413.70,106.37 414.00,105.54 414.30,105.51 414.60,104.74 414.90,105.46 415.20,105.36 415.50,105.35 415.80,104.32 416.10,104.42 416.40,104.24 416.70,104.34 417.00,103.62 417.30,103.24 417.60,102.72 417.90,102.91 418.20,101.61 418.50,100.75 418.80,99.28 419.10,98.53 419.40,97.53 419.70,96.92 420.00,95.73 420.30,94.11 420.60,92.94 420.90,92.19 421.20,92.69 421.50,92.87 421.80,92.92 422.10,93.46 422.40,93.28 422.70,93.84 423.00,93.77 423.30,93.37 423.60,93.48 423.90,93.53 424.20,94.29 424.50,94.81 424.80,96.16 425.10,96.51 425.40,97.05 425.70,97.24 426.00,97.41 426.30,98.15 426.60,98.37 426.90,98.50 427.20,99.16 427.50,98.88 427.80,99.50 428.10,99.99 428.40,100.19 428.70,99.55 429.00,99.36 429.30,99.84 429.60,101.16 429.90,101.23 430.20,101.30 430.50,101.36 430.80,101.24 431.10,100.95 431.40,100.89 431.70,100.40 432.00,99.88 432.30,100.56 432.60,100.28 432.90,99.95 433.20,99.64 433.50,98.38 433.80,98.56 434.10,98.34 434.40,97.41 434.70,97.82 435.00,98.01 435.30,97.69 435.60,97.43 435.90,96.97 436.20,96.24 436.50,96.00 436.80,95.92 437.10,95.72 437.40,94.97 437.70,94.89 438.00,94.50 438.30,95.25 438.60,94.88 438.90,95.62 439.20,96.11 439.50,96.11 439.80,96.39 440.10,95.51 440.40,95.55 440.70,95.50 441.00,95.53 441.30,96.56 441.60,96.49 441.90,97.09 442.20,97.07 442.50,96.52 442.80,95.73 443.10,95.63 443.40,95.67 443.70,95.60 444.00,96.25 444.30,96.14 444.60,96.35 444.90,96.63 445.20,96.76 445.50,96.03 445.80,95.09 446.10,95.29 446.40,96.38 446.70,96.98 447.00,97.21 447.30,97.64 447.60,98.02 447.90,99.04 448.20,99.36 448.50,99.23 448.80,98.29 449.10,97.01 449.40,96.12 449.70,96.11 450.00,95.52 450.30,94.55 450.60,92.87 450.90,93.64 451.20,94.55 451.50,95.78 451.80,96.22 452.10,97.71 452.40,99.17 452.70,100.14 453.00,101.85 453.30,102.01 453.60,101.80 453.90,101.08 454.20,101.00 454.50,101.76 454.80,101.98 455.10,101.79 455.40,101.60 455.70,101.00 456.00,100.37 456.30,99.79 456.60,99.17 456.90,98.16 457.20,97.84 457.50,97.26 457.80,97.09 458.10,96.56 458.40,96.49 458.70,95.60 459.00,95.43 459.30,94.95 459.60,94.06 459.90,93.55 460.20,93.63 460.50,94.00 460.80,94.25 461.10,94.87 461.40,94.65 461.70,94.37 462.00,93.65 462.30,92.79 462.60,91.87 462.90,91.49 463.20,91.43 463.50,92.05 463.80,92.08 464.10,92.10 464.40,91.55 464.70,91.22 465.00,90.62 465.30,91.18 465.60,90.78 465.90,91.62 466.20,92.18 466.50,92.78 466.80,92.77 467.10,92.92 467.40,93.14 467.70,93.96 468.00,93.62 468.30,93.92 468.60,93.15 468.90,92.70 469.20,91.53 469.50,91.41 469.80,90.20 470.10,89.49 470.40,88.75 470.70,88.66 471.00,88.15 471.30,86.93 471.60,85.91 471.90,85.65 472.20,85.66 472.50,85.19 472.80,85.70 473.10,87.02 473.40,86.52 473.70,87.24 474.00,87.18 474.30,88.08 474.60,87.86 474.90,87.97 475.20,89.08 475.50,89.30 475.80,89.20 476.10,89.00 476.40,89.88 476.70,89.26 477.00,88.45 477.30,89.53 477.60,89.56 477.90,90.71 478.20,90.85 478.50,91.22 478.80,91.09 479.10,90.69 479.40,90.81 479.70,91.43 480.00,91.82 480.30,91.44 480.60,91.69 480.90,92.45 481.20,92.94 481.50,93.68 481.80,93.61 482.10,93.07 482.40,93.78 482.70,93.79 483.00,93.82 483.30,94.12 483.60,93.63 483.90,93.45 484.20,94.62 484.50,94.50 484.80,94.67 485.10,94.43 485.40,94.24 485.70,93.50 486.00,93.78 486.30,93.35 486.60,93.63 486.90,94.40 487.20,94.26 487.50,94.74 487.80,94.62 488.10,93.97 488.40,93.81 488.70,93.66 489.00,93.81 489.30,93.73 489.60,93.58 489.90,93.78 490.20,94.79 490.50,95.14 490.80,95.17 491.10,95.65 491.40,95.88 491.70,95.77 492.00,96.13 492.30,96.71 492.60,96.29 492.90,95.25 493.20,94.02 493.50,94.45 493.80,93.81 494.10,92.41 494.40,91.22 494.70,90.67 495.00,89.86 495.30,88.56 495.60,88.10 495.90,88.28 496.20,88.22 496.50,88.99 496.80,89.57 497.10,90.41 497.40,89.77 497.70,89.59 498.00,89.70 498.30,90.32 498.60,89.71 498.90,89.37 499.20,89.96 499.50,90.13 499.80,90.30 500.10,90.41 500.40,90.51 500.70,91.41 501.00,91.19 501.30,91.39 501.60,91.88 501.90,91.92 502.20,91.99 502.50,92.34 502.80,92.48 503.10,93.06 503.40,93.29 503.70,93.32 504.00,93.55 504.30,92.75 504.60,91.34 504.90,90.91 505.20,89.94 505.50,89.07 505.80,88.16 506.10,87.65 506.40,87.61 506.70,87.98 507.00,87.70 507.30,87.61 507.60,87.29 507.90,87.28 508.20,87.47 508.50,87.38" fill="none" stroke="#000" stroke-width="1.15" stroke-linejoin="round" stroke-linecap="round"/>
<rect x="292.40" y="52.50" width="225.50" height="131.60" fill="none" stroke="#222" stroke-width="1.1"/>
<line x1="287.80" x2="292.40" y1="57.37" y2="57.37" stroke="#222" stroke-width="1"/>
<text x="285.50" y="60.27" font-size="8.2" text-anchor="end">2</text>
<line x1="287.80" x2="292.40" y1="76.12" y2="76.12" stroke="#222" stroke-width="1"/>
<text x="285.50" y="79.02" font-size="8.2" text-anchor="end">1</text>
<line x1="287.80" x2="292.40" y1="94.87" y2="94.87" stroke="#222" stroke-width="1"/>
<text x="285.50" y="97.77" font-size="8.2" text-anchor="end">0</text>
<line x1="287.80" x2="292.40" y1="113.61" y2="113.61" stroke="#222" stroke-width="1"/>
<text x="285.50" y="116.51" font-size="8.2" text-anchor="end">1</text>
<line x1="276.80" x2="280.60" y1="113.81" y2="113.81" stroke="#111" stroke-width="1"/>
<line x1="287.80" x2="292.40" y1="132.36" y2="132.36" stroke="#222" stroke-width="1"/>
<text x="285.50" y="135.26" font-size="8.2" text-anchor="end">2</text>
<line x1="276.80" x2="280.60" y1="132.56" y2="132.56" stroke="#111" stroke-width="1"/>
<line x1="287.80" x2="292.40" y1="151.11" y2="151.11" stroke="#222" stroke-width="1"/>
<text x="285.50" y="154.01" font-size="8.2" text-anchor="end">3</text>
<line x1="276.80" x2="280.60" y1="151.31" y2="151.31" stroke="#111" stroke-width="1"/>
<line x1="287.80" x2="292.40" y1="169.85" y2="169.85" stroke="#222" stroke-width="1"/>
<text x="285.50" y="172.75" font-size="8.2" text-anchor="end">4</text>
<line x1="276.80" x2="280.60" y1="170.05" y2="170.05" stroke="#111" stroke-width="1"/>
<line x1="297.00" x2="297.00" y1="184.10" y2="188.70" stroke="#222" stroke-width="1"/>
<text x="297.00" y="199.10" font-size="8.2" text-anchor="middle">1960</text>
<line x1="333.00" x2="333.00" y1="184.10" y2="188.70" stroke="#222" stroke-width="1"/>
<text x="333.00" y="199.10" font-size="8.2" text-anchor="middle">1970</text>
<line x1="369.00" x2="369.00" y1="184.10" y2="188.70" stroke="#222" stroke-width="1"/>
<text x="369.00" y="199.10" font-size="8.2" text-anchor="middle">1980</text>
<line x1="405.00" x2="405.00" y1="184.10" y2="188.70" stroke="#222" stroke-width="1"/>
<text x="405.00" y="199.10" font-size="8.2" text-anchor="middle">1990</text>
<line x1="441.00" x2="441.00" y1="184.10" y2="188.70" stroke="#222" stroke-width="1"/>
<text x="441.00" y="199.10" font-size="8.2" text-anchor="middle">2000</text>
<line x1="477.00" x2="477.00" y1="184.10" y2="188.70" stroke="#222" stroke-width="1"/>
<text x="477.00" y="199.10" font-size="8.2" text-anchor="middle">2010</text>
<line x1="513.00" x2="513.00" y1="184.10" y2="188.70" stroke="#222" stroke-width="1"/>
<text x="513.00" y="199.10" font-size="8.2" text-anchor="middle">2020</text>
<text transform="translate(270.90,118.30) rotate(-90)" font-size="8.3" text-anchor="middle">error [K]</text>
<text x="405.15" y="47.90" font-size="12.1" font-weight="bold" class="b" text-anchor="middle">ERA5</text>
<rect x="160.45" y="221.75" width="82.80" height="131.60" fill="#cccccc"/>
<line x1="29.70" x2="255.20" y1="226.62" y2="226.62" stroke="#aaa" stroke-width="0.8" stroke-dasharray="1,1.45"/>
<line x1="29.70" x2="255.20" y1="245.37" y2="245.37" stroke="#aaa" stroke-width="0.8" stroke-dasharray="1,1.45"/>
<line x1="29.70" x2="255.20" y1="254.74" y2="254.74" stroke="#aaa" stroke-width="0.8" stroke-dasharray="1,1.45"/>
<line x1="29.70" x2="255.20" y1="259.43" y2="259.43" stroke="#aaa" stroke-width="0.8" stroke-dasharray="1,1.45"/>
<line x1="29.70" x2="255.20" y1="268.80" y2="268.80" stroke="#aaa" stroke-width="0.8" stroke-dasharray="1,1.45"/>
<line x1="29.70" x2="255.20" y1="273.49" y2="273.49" stroke="#aaa" stroke-width="0.8" stroke-dasharray="1,1.45"/>
<line x1="29.70" x2="255.20" y1="282.86" y2="282.86" stroke="#aaa" stroke-width="0.8" stroke-dasharray="1,1.45"/>
<line x1="29.70" x2="255.20" y1="301.61" y2="301.61" stroke="#aaa" stroke-width="0.8" stroke-dasharray="1,1.45"/>
<line x1="29.70" x2="255.20" y1="264.32" y2="264.32" stroke="#777" stroke-width="1.4"/>
<polyline points="38.20,249.99 38.50,261.57 38.80,255.98 39.10,251.91 39.40,253.40 39.70,251.97 40.00,239.48 40.30,255.67 40.60,260.65 40.90,273.76 41.20,258.87 41.50,260.70 41.80,254.20 42.10,245.68 42.40,246.06 42.70,258.58 43.00,262.49 43.30,251.63 43.60,258.85 43.90,256.03 44.20,259.51 44.50,260.96 44.80,255.83 45.10,282.90 45.40,260.40 45.70,270.35 46.00,256.95 46.30,259.28 46.60,255.49 46.90,244.05 47.20,258.78 47.50,262.00 47.80,251.43 48.10,252.34 48.40,258.56 48.70,261.18 49.00,286.71 49.30,263.62 49.60,239.48 49.90,258.79 50.20,256.41 50.50,259.34 50.80,259.14 51.10,257.90 51.40,266.14 51.70,256.79 52.00,258.96 52.30,257.61 52.60,253.72 52.90,258.91 53.20,257.11 53.50,263.58 53.80,257.87 54.10,259.94 54.40,243.29 54.70,248.07 55.00,249.72 55.30,247.76 55.60,253.79 55.90,248.88 56.20,254.23 56.50,249.78 56.80,260.05 57.10,250.02 57.40,256.75 57.70,250.57 58.00,256.55 58.30,251.50 58.60,253.26 58.90,250.34 59.20,250.71 59.50,250.39 59.80,251.83 60.10,253.92 60.40,254.03 60.70,258.40 61.00,251.63 61.30,240.24 61.60,250.21 61.90,261.57 62.20,254.64 62.50,252.51 62.80,257.88 63.10,254.46 63.40,257.91 63.70,266.31 64.00,258.11 64.30,258.54 64.60,254.41 64.90,244.81 65.20,252.66 65.50,257.59 65.80,254.18 66.10,254.57 66.40,252.70 66.70,267.67 67.00,253.37 67.30,247.32 67.60,247.86 67.90,252.63 68.20,254.19 68.50,254.43 68.80,246.33 69.10,253.44 69.40,254.66 69.70,265.39 70.00,253.19 70.30,250.85 70.60,255.15 70.90,253.54 71.20,265.25 71.50,258.73 71.80,243.29 72.10,252.53 72.40,257.50 72.70,259.71 73.00,251.39 73.30,249.91 73.60,244.55 73.90,254.21 74.20,272.24 74.50,246.73 74.80,262.93 75.10,249.72 75.40,268.24 75.70,247.86 76.00,257.28 76.30,257.81 76.60,256.12 76.90,259.51 77.20,268.43 77.50,260.58 77.80,258.56 78.10,253.67 78.40,257.46 78.70,244.81 79.00,260.72 79.30,257.15 79.60,266.54 79.90,261.39 80.20,256.16 80.50,253.24 80.80,254.80 81.10,242.52 81.40,248.60 81.70,252.41 82.00,258.29 82.30,242.66 82.60,264.62 82.90,256.31 83.20,251.17 83.50,253.84 83.80,251.94 84.10,252.74 84.40,252.61 84.70,256.27 85.00,269.19 85.30,247.70 85.60,256.06 85.90,258.60 86.20,260.83 86.50,243.29 86.80,254.22 87.10,241.80 87.40,250.55 87.70,251.69 88.00,264.02 88.30,256.51 88.60,269.95 88.90,254.60 89.20,245.87 89.50,251.50 89.80,263.81 90.10,241.00 90.40,254.69 90.70,260.43 91.00,259.73 91.30,256.94 91.60,278.33 91.90,255.69 92.20,257.95 92.50,261.27 92.80,258.79 93.10,241.76 93.40,247.12 93.70,256.39 94.00,253.70 94.30,250.91 94.60,257.62 94.90,255.65 95.20,255.45 95.50,256.72 95.80,255.96 96.10,253.83 96.40,244.81 96.70,251.66 97.00,255.96 97.30,258.18 97.60,252.45 97.90,256.24 98.20,257.99 98.50,253.85 98.80,256.79 99.10,259.04 99.40,253.19 99.70,254.30 100.00,256.78 100.30,260.62 100.60,248.62 100.90,254.99 101.20,259.62 101.50,265.38 101.80,256.89 102.10,265.24 102.40,256.55 102.70,260.09 103.00,259.36 103.30,247.37 103.60,257.67 103.90,255.92 104.20,251.99 104.50,257.73 104.80,250.14 105.10,265.25 105.40,250.67 105.70,257.46 106.00,254.40 106.30,266.14 106.60,260.91 106.90,258.39 107.20,249.30 107.50,258.61 107.80,267.34 108.10,257.95 108.40,254.00 108.70,252.43 109.00,262.01 109.30,256.65 109.60,261.47 109.90,258.14 110.20,269.19 110.50,262.44 110.80,259.79 111.10,250.65 111.40,254.47 111.70,256.40 112.00,254.59 112.30,257.72 112.60,257.87 112.90,257.09 113.20,255.54 113.50,257.16 113.80,255.57 114.10,257.54 114.40,257.79 114.70,256.44 115.00,259.43 115.30,266.14 115.60,247.86 115.90,259.08 116.20,258.15 116.50,261.66 116.80,256.65 117.10,255.96 117.40,261.35 117.70,251.68 118.00,254.47 118.30,252.73 118.60,257.30 118.90,261.47 119.20,252.68 119.50,247.86 119.80,252.78 120.10,272.24 120.40,260.03 120.70,263.22 121.00,264.47 121.30,264.68 121.60,262.76 121.90,258.78 122.20,261.88 122.50,263.23 122.80,259.60 123.10,250.95 123.40,260.89 123.70,266.78 124.00,267.75 124.30,259.27 124.60,256.69 124.90,258.93 125.20,260.42 125.50,250.14 125.80,255.78 126.10,265.79 126.40,270.71 126.70,267.47 127.00,259.34 127.30,258.85 127.60,259.87 127.90,260.73 128.20,262.08 128.50,260.76 128.80,258.84 129.10,256.58 129.40,264.55 129.70,257.07 130.00,263.51 130.30,252.26 130.60,257.38 130.90,260.55 131.20,259.80 131.50,260.60 131.80,258.62 132.10,261.80 132.40,250.14 132.70,259.84 133.00,259.40 133.30,259.24 133.60,257.94 133.90,259.69 134.20,260.37 134.50,256.75 134.80,273.76 135.10,258.16 135.40,258.96 135.70,260.30 136.00,256.37 136.30,260.56 136.60,260.88 136.90,258.85 137.20,259.25 137.50,258.50 137.80,259.79 138.10,258.24 138.40,262.56 138.70,259.11 139.00,265.11 139.30,258.41 139.60,259.61 139.90,251.67 140.20,261.15 140.50,259.96 140.80,271.20 141.10,263.70 141.40,262.72 141.70,265.19 142.00,260.48 142.30,260.14 142.60,268.70 142.90,273.76 143.20,257.61 143.50,264.24 143.80,269.54 144.10,254.46 144.40,258.05 144.70,263.73 145.00,263.13 145.30,262.45 145.60,254.76 145.90,260.47 146.20,263.35 146.50,263.93 146.80,262.16 147.10,260.21 147.40,266.71 147.70,257.00 148.00,262.92 148.30,263.83 148.60,265.79 148.90,264.65 149.20,266.20 149.50,270.81 149.80,264.55 150.10,265.24 150.40,261.67 150.70,260.09 151.00,258.60 151.30,270.71 151.60,270.87 151.90,264.56 152.20,263.85 152.50,263.70 152.80,264.81 153.10,267.06 153.40,267.20 153.70,272.90 154.00,273.67 154.30,263.33 154.60,268.34 154.90,266.79 155.20,267.12 155.50,262.13 155.80,260.90 156.10,266.71 156.40,261.89 156.70,271.12 157.00,266.01 157.30,265.14 157.60,259.23 157.90,266.78 158.20,253.19 158.50,265.37 158.80,267.87 159.10,256.75 159.40,262.16 159.70,268.65 160.00,263.75 160.30,266.60 160.60,266.21 160.90,262.52 161.20,270.71 161.50,269.63 161.80,265.26 162.10,266.20 162.40,268.13 162.70,267.41 163.00,264.86 163.30,264.16 163.60,271.07 163.90,265.24 164.20,262.97 164.50,272.75 164.80,266.14 165.10,278.33 165.40,265.99 165.70,270.86 166.00,266.66 166.30,269.51 166.60,264.43 166.90,267.90 167.20,259.23 167.50,272.94 167.80,263.50 168.10,266.08 168.40,269.19 168.70,260.71 169.00,265.79 169.30,267.73 169.60,260.25 169.90,268.63 170.20,265.58 170.50,266.91 170.80,270.49 171.10,276.05 171.40,265.76 171.70,267.78 172.00,260.05 172.30,264.56 172.60,266.41 172.90,269.68 173.20,266.11 173.50,275.15 173.80,270.68 174.10,266.75 174.40,263.10 174.70,266.00 175.00,267.06 175.30,274.43 175.60,261.36 175.90,264.05 176.20,264.14 176.50,264.04 176.80,265.29 177.10,265.68 177.40,267.59 177.70,265.85 178.00,258.52 178.30,269.23 178.60,265.55 178.90,265.45 179.20,265.43 179.50,259.22 179.80,266.45 180.10,259.44 180.40,266.06 180.70,264.18 181.00,265.11 181.30,263.50 181.60,273.77 181.90,275.29 182.20,252.43 182.50,262.09 182.80,252.43 183.10,264.89 183.40,265.05 183.70,270.53 184.00,265.75 184.30,264.14 184.60,262.88 184.90,266.20 185.20,260.79 185.50,271.06 185.80,256.53 186.10,263.90 186.40,256.36 186.70,265.63 187.00,262.01 187.30,263.64 187.60,262.52 187.90,260.17 188.20,266.33 188.50,261.63 188.80,262.84 189.10,272.24 189.40,264.83 189.70,262.79 190.00,264.22 190.30,261.43 190.60,262.16 190.90,270.41 191.20,261.66 191.50,260.68 191.80,264.82 192.10,267.61 192.40,261.27 192.70,265.04 193.00,266.13 193.30,260.82 193.60,265.25 193.90,261.64 194.20,266.34 194.50,265.03 194.80,262.39 195.10,264.65 195.40,265.09 195.70,262.87 196.00,261.65 196.30,256.39 196.60,259.15 196.90,270.71 197.20,262.17 197.50,258.05 197.80,263.24 198.10,263.65 198.40,261.05 198.70,260.88 199.00,259.49 199.30,259.38 199.60,264.73 199.90,262.04 200.20,263.80 200.50,253.95 200.80,261.73 201.10,262.98 201.40,260.73 201.70,254.79 202.00,255.30 202.30,255.42 202.60,266.01 202.90,259.21 203.20,259.86 203.50,259.84 203.80,257.98 204.10,261.35 204.40,253.19 204.70,261.57 205.00,267.55 205.30,258.84 205.60,259.89 205.90,262.57 206.20,260.50 206.50,260.83 206.80,258.55 207.10,261.59 207.40,261.34 207.70,262.39 208.00,263.21 208.30,253.95 208.60,262.61 208.90,263.30 209.20,265.20 209.50,260.88 209.80,268.72 210.10,265.25 210.40,265.37 210.70,260.01 211.00,266.84 211.30,263.96 211.60,264.92 211.90,276.81 212.20,264.71 212.50,259.25 212.80,259.45 213.10,267.51 213.40,265.37 213.70,262.07 214.00,261.42 214.30,255.48 214.60,262.62 214.90,267.95 215.20,263.11 215.50,263.66 215.80,262.14 216.10,256.76 216.40,263.91 216.70,257.53 217.00,260.24 217.30,262.57 217.60,263.64 217.90,266.08 218.20,265.70 218.50,255.80 218.80,267.23 219.10,261.50 219.40,260.47 219.70,262.30 220.00,263.24 220.30,260.77 220.60,266.45 220.90,266.13 221.20,276.81 221.50,269.81 221.80,258.40 222.10,268.66 222.40,265.15 222.70,265.04 223.00,264.46 223.30,257.72 223.60,265.81 223.90,264.13 224.20,257.76 224.50,261.59 224.80,263.75 225.10,263.67 225.40,264.12 225.70,267.37 226.00,265.27 226.30,264.17 226.60,265.00 226.90,262.30 227.20,269.23 227.50,267.81 227.80,266.00 228.10,264.65 228.40,266.52 228.70,272.24 229.00,264.57 229.30,264.74 229.60,269.32 229.90,267.44 230.20,257.87 230.50,266.64 230.80,268.01 231.10,266.21 231.40,264.81 231.70,261.53 232.00,262.30 232.30,263.43 232.60,265.28 232.90,261.90 233.20,263.43 233.50,272.49 233.80,270.48 234.10,263.81 234.40,265.70 234.70,260.59 235.00,260.31 235.30,268.99 235.60,279.86 235.90,264.76 236.20,262.83 236.50,262.61 236.80,267.27 237.10,253.19 237.40,262.30 237.70,259.02 238.00,256.45 238.30,266.87 238.60,259.16 238.90,264.06 239.20,268.86 239.50,275.29 239.80,271.14 240.10,272.27 240.40,269.84 240.70,272.54 241.00,262.47 241.30,269.45 241.60,259.99 241.90,263.78 242.20,259.08 242.50,262.85 242.80,269.05 243.10,254.71 243.40,267.81 243.70,263.98 244.00,260.60 244.30,263.60 244.60,261.11 244.90,260.31 245.20,263.68 245.50,263.06 245.80,262.59 246.10,263.79 246.40,270.71 246.70,262.26" fill="none" stroke="#22cc22" stroke-width="0.9" stroke-linejoin="miter" stroke-miterlimit="2"/><polyline points="39.10,252.98 39.40,253.53 39.70,254.18 40.00,254.35 40.30,254.19 40.60,253.73 40.90,253.95 41.20,254.64 41.50,254.58 41.80,255.11 42.10,255.98 42.40,256.31 42.70,256.42 43.00,256.56 43.30,256.70 43.60,256.86 43.90,258.06 44.20,258.99 44.50,260.03 44.80,259.62 45.10,258.79 45.40,259.07 45.70,259.14 46.00,258.75 46.30,258.23 46.60,258.01 46.90,258.25 47.20,258.69 47.50,258.78 47.80,258.17 48.10,258.36 48.40,258.26 48.70,258.55 49.00,259.05 49.30,259.07 49.60,258.58 49.90,259.02 50.20,259.55 50.50,259.64 50.80,259.06 51.10,258.36 51.40,257.83 51.70,258.03 52.00,257.95 52.30,258.20 52.60,258.55 52.90,257.92 53.20,257.10 53.50,256.50 53.80,256.06 54.10,255.21 54.40,254.74 54.70,254.21 55.00,253.23 55.30,252.40 55.60,251.53 55.90,250.57 56.20,250.76 56.50,250.34 56.80,250.95 57.10,251.21 57.40,251.56 57.70,251.44 58.00,251.66 58.30,251.67 58.60,251.95 58.90,252.59 59.20,252.76 59.50,252.83 59.80,252.89 60.10,252.80 60.40,253.07 60.70,253.09 61.00,253.62 61.30,253.94 61.60,254.53 61.90,255.57 62.20,256.01 62.50,256.50 62.80,256.43 63.10,256.72 63.40,256.31 63.70,256.61 64.00,256.50 64.30,256.41 64.60,256.36 64.90,255.33 65.20,255.20 65.50,254.48 65.80,253.25 66.10,252.81 66.40,252.42 66.70,252.39 67.00,251.90 67.30,252.03 67.60,251.92 67.90,252.67 68.20,252.62 68.50,252.52 68.80,253.34 69.10,253.34 69.40,254.43 69.70,255.11 70.00,254.61 70.30,254.56 70.60,254.80 70.90,255.44 71.20,255.35 71.50,255.09 71.80,253.84 72.10,253.93 72.40,254.74 72.70,254.25 73.00,254.86 73.30,253.93 73.60,254.55 73.90,255.94 74.20,256.28 74.50,256.37 74.80,256.23 75.10,256.83 75.40,257.19 75.70,258.32 76.00,258.46 76.30,257.73 76.60,258.28 76.90,257.28 77.20,257.88 77.50,257.15 77.80,257.16 78.10,257.37 78.40,257.23 78.70,257.02 79.00,256.71 79.30,256.58 79.60,255.82 79.90,255.43 80.20,255.69 80.50,254.76 80.80,254.72 81.10,254.42 81.40,254.02 81.70,253.20 82.00,252.57 82.30,252.32 82.60,252.24 82.90,252.34 83.20,252.06 83.50,252.01 83.80,252.24 84.10,252.26 84.40,253.37 84.70,253.74 85.00,253.60 85.30,253.02 85.60,252.81 85.90,252.80 86.20,253.52 86.50,253.78 86.80,253.35 87.10,253.86 87.40,253.67 87.70,253.29 88.00,253.47 88.30,252.75 88.60,252.58 88.90,252.70 89.20,253.51 89.50,253.75 89.80,254.52 90.10,254.36 90.40,254.76 90.70,255.79 91.00,256.30 91.30,257.00 91.60,257.00 91.90,256.85 92.20,257.30 92.50,257.41 92.80,256.93 93.10,256.42 93.40,256.12 93.70,255.89 94.00,255.79 94.30,255.47 94.60,255.15 94.90,254.69 95.20,254.85 95.50,255.52 95.80,255.22 96.10,255.31 96.40,255.66 96.70,255.30 97.00,255.23 97.30,255.27 97.60,255.01 97.90,254.83 98.20,255.25 98.50,255.72 98.80,255.73 99.10,255.85 99.40,256.11 99.70,256.22 100.00,256.40 100.30,256.84 100.60,256.95 100.90,257.11 101.20,257.10 101.50,256.56 101.80,256.77 102.10,256.73 102.40,256.22 102.70,256.81 103.00,257.15 103.30,257.50 103.60,257.42 103.90,257.46 104.20,256.80 104.50,256.79 104.80,256.85 105.10,256.80 105.40,256.94 105.70,257.01 106.00,257.73 106.30,258.10 106.60,257.87 106.90,257.77 107.20,257.57 107.50,257.94 107.80,258.19 108.10,258.42 108.40,258.80 108.70,258.91 109.00,259.02 109.30,259.14 109.60,258.94 109.90,258.33 110.20,258.20 110.50,258.37 110.80,258.23 111.10,257.83 111.40,257.69 111.70,257.36 112.00,257.15 112.30,256.81 112.60,256.46 112.90,256.17 113.20,256.59 113.50,257.18 113.80,257.00 114.10,257.10 114.40,257.32 114.70,257.72 115.00,257.84 115.30,257.98 115.60,258.34 115.90,258.17 116.20,258.04 116.50,257.78 116.80,257.89 117.10,258.08 117.40,257.28 117.70,258.09 118.00,257.72 118.30,258.12 118.60,258.05 118.90,258.49 119.20,259.05 119.50,259.32 119.80,260.07 120.10,260.43 120.40,261.11 120.70,261.60 121.00,261.59 121.30,261.35 121.60,260.74 121.90,261.51 122.20,261.65 122.50,261.55 122.80,261.11 123.10,260.74 123.40,260.44 123.70,260.20 124.00,259.97 124.30,260.15 124.60,259.75 124.90,260.22 125.20,260.78 125.50,260.69 125.80,260.29 126.10,259.87 126.40,260.06 126.70,260.31 127.00,260.30 127.30,260.05 127.60,260.34 127.90,260.39 128.20,260.21 128.50,259.83 128.80,259.25 129.10,259.39 129.40,259.50 129.70,259.59 130.00,259.50 130.30,259.52 130.60,259.70 130.90,259.80 131.20,260.03 131.50,259.78 131.80,259.92 132.10,259.80 132.40,260.40 132.70,260.24 133.00,259.97 133.30,259.78 133.60,259.60 133.90,259.62 134.20,259.21 134.50,258.96 134.80,258.92 135.10,258.77 135.40,258.63 135.70,258.78 136.00,258.91 136.30,258.88 136.60,259.33 136.90,259.46 137.20,259.93 137.50,259.93 137.80,259.91 138.10,260.13 138.40,260.19 138.70,260.17 139.00,260.98 139.30,261.29 139.60,261.60 139.90,261.97 140.20,262.14 140.50,262.03 140.80,262.66 141.10,262.05 141.40,262.06 141.70,262.41 142.00,263.09 142.30,262.75 142.60,262.60 142.90,262.12 143.20,262.07 143.50,262.04 143.80,261.39 144.10,261.40 144.40,261.61 144.70,261.33 145.00,261.84 145.30,262.03 145.60,262.21 145.90,261.86 146.20,262.40 146.50,262.74 146.80,262.85 147.10,262.93 147.40,263.15 147.70,264.13 148.00,264.38 148.30,264.49 148.60,264.34 148.90,264.21 149.20,264.10 149.50,263.89 149.80,264.32 150.10,264.44 150.40,264.47 150.70,264.37 151.00,264.40 151.30,264.48 151.60,264.27 151.90,264.80 152.20,265.33 152.50,265.45 152.80,265.97 153.10,266.48 153.40,266.71 153.70,266.18 154.00,265.97 154.30,266.16 154.60,266.06 154.90,266.46 155.20,266.41 155.50,266.29 155.80,265.46 156.10,265.06 156.40,265.16 156.70,265.01 157.00,265.12 157.30,264.52 157.60,264.55 157.90,264.98 158.20,264.77 158.50,265.03 158.80,264.70 159.10,264.47 159.40,264.66 159.70,265.29 160.00,265.17 160.30,265.24 160.60,265.37 160.90,265.30 161.20,265.75 161.50,265.88 161.80,266.10 162.10,266.24 162.40,266.07 162.70,266.51 163.00,266.76 163.30,266.22 163.60,266.01 163.90,266.37 164.20,266.42 164.50,266.51 164.80,266.34 165.10,266.54 165.40,266.27 165.70,266.41 166.00,266.34 166.30,266.56 166.60,266.36 166.90,266.06 167.20,266.49 167.50,266.63 167.80,266.03 168.10,266.21 168.40,266.05 168.70,266.29 169.00,266.51 169.30,266.96 169.60,266.44 169.90,266.65 170.20,266.85 170.50,266.53 170.80,266.87 171.10,267.10 171.40,267.01 171.70,267.93 172.00,268.07 172.30,268.09 172.60,267.80 172.90,267.47 173.20,267.38 173.50,267.86 173.80,267.41 174.10,266.97 174.40,266.86 174.70,266.62 175.00,266.25 175.30,266.28 175.60,265.89 175.90,265.66 176.20,265.67 176.50,266.08 176.80,266.08 177.10,266.00 177.40,265.47 177.70,265.38 178.00,265.58 178.30,265.36 178.60,265.56 178.90,265.55 179.20,265.41 179.50,265.07 179.80,265.47 180.10,265.60 180.40,265.21 180.70,264.95 181.00,264.75 181.30,264.68 181.60,265.00 181.90,265.21 182.20,265.58 182.50,265.43 182.80,265.32 183.10,265.34 183.40,265.12 183.70,264.89 184.00,264.12 184.30,264.17 184.60,263.85 184.90,264.05 185.20,263.89 185.50,263.81 185.80,263.32 186.10,262.98 186.40,263.11 186.70,263.03 187.00,262.83 187.30,262.99 187.60,262.61 187.90,262.99 188.20,263.01 188.50,263.33 188.80,263.11 189.10,263.63 189.40,263.51 189.70,263.40 190.00,263.68 190.30,263.76 190.60,263.74 190.90,263.87 191.20,264.04 191.50,263.79 191.80,263.94 192.10,263.78 192.40,264.08 192.70,264.26 193.00,263.77 193.30,263.95 193.60,264.23 193.90,264.13 194.20,263.79 194.50,263.53 194.80,263.21 195.10,263.32 195.40,263.38 195.70,262.84 196.00,262.85 196.30,262.61 196.60,262.30 196.90,262.16 197.20,261.80 197.50,261.41 197.80,261.48 198.10,261.46 198.40,261.86 198.70,262.00 199.00,261.63 199.30,261.66 199.60,261.82 199.90,261.30 200.20,260.77 200.50,260.41 200.80,260.70 201.10,260.66 201.40,260.66 201.70,260.32 202.00,260.02 202.30,259.82 202.60,259.61 202.90,259.55 203.20,259.88 203.50,259.80 203.80,260.14 204.10,260.61 204.40,260.92 204.70,260.57 205.00,260.47 205.30,260.50 205.60,260.50 205.90,260.67 206.20,260.94 206.50,261.35 206.80,261.53 207.10,261.36 207.40,261.81 207.70,261.89 208.00,262.26 208.30,262.61 208.60,263.06 208.90,263.34 209.20,263.90 209.50,264.32 209.80,264.78 210.10,265.14 210.40,265.55 210.70,265.18 211.00,264.63 211.30,264.50 211.60,264.56 211.90,263.98 212.20,263.62 212.50,263.11 212.80,263.21 213.10,263.22 213.40,263.09 213.70,262.91 214.00,262.71 214.30,262.06 214.60,262.16 214.90,261.83 215.20,261.37 215.50,261.38 215.80,261.63 216.10,262.05 216.40,262.61 216.70,262.26 217.00,262.26 217.30,262.19 217.60,262.02 217.90,262.06 218.20,262.49 218.50,262.33 218.80,262.91 219.10,263.30 219.40,263.21 219.70,263.62 220.00,263.18 220.30,263.39 220.60,264.00 220.90,263.90 221.20,264.12 221.50,264.01 221.80,264.30 222.10,264.44 222.40,264.59 222.70,264.38 223.00,264.13 223.30,264.23 223.60,263.81 223.90,264.31 224.20,264.05 224.50,263.95 224.80,263.91 225.10,263.73 225.40,264.39 225.70,264.45 226.00,264.61 226.30,264.86 226.60,265.20 226.90,265.40 227.20,265.48 227.50,265.54 227.80,265.67 228.10,265.81 228.40,265.44 228.70,265.55 229.00,265.92 229.30,265.76 229.60,265.60 229.90,265.36 230.20,265.26 230.50,265.05 230.80,264.95 231.10,264.75 231.40,264.65 231.70,264.83 232.00,265.00 232.30,265.36 232.60,265.30 232.90,264.85 233.20,264.51 233.50,264.80 233.80,265.23 234.10,265.42 234.40,265.30 234.70,265.05 235.00,265.31 235.30,264.82 235.60,264.11 235.90,263.31 236.20,262.73 236.50,262.66 236.80,262.39 237.10,262.41 237.40,262.57 237.70,262.65 238.00,263.23 238.30,263.96 238.60,264.56 238.90,265.05 239.20,265.59 239.50,266.25 239.80,266.56 240.10,267.31 240.40,266.70 240.70,266.63 241.00,266.68 241.30,266.16 241.60,266.11 241.90,265.50 242.20,264.64 242.50,264.10 242.80,263.21 243.10,262.88 243.40,262.50 243.70,262.81 244.00,262.84 244.30,263.21 244.60,263.24 244.90,262.85 245.20,262.81 245.50,262.45 245.80,262.33" fill="none" stroke="#000" stroke-width="1.15" stroke-linejoin="round" stroke-linecap="round"/>
<rect x="29.70" y="221.75" width="225.50" height="131.60" fill="none" stroke="#222" stroke-width="1.1"/>
<line x1="25.10" x2="29.70" y1="226.62" y2="226.62" stroke="#222" stroke-width="1"/>
<text x="22.80" y="229.52" font-size="8.2" text-anchor="end">2</text>
<line x1="25.10" x2="29.70" y1="245.37" y2="245.37" stroke="#222" stroke-width="1"/>
<text x="22.80" y="248.27" font-size="8.2" text-anchor="end">1</text>
<line x1="25.10" x2="29.70" y1="264.12" y2="264.12" stroke="#222" stroke-width="1"/>
<text x="22.80" y="267.02" font-size="8.2" text-anchor="end">0</text>
<line x1="25.10" x2="29.70" y1="282.86" y2="282.86" stroke="#222" stroke-width="1"/>
<text x="22.80" y="285.76" font-size="8.2" text-anchor="end">1</text>
<line x1="14.10" x2="17.90" y1="283.06" y2="283.06" stroke="#111" stroke-width="1"/>
<line x1="25.10" x2="29.70" y1="301.61" y2="301.61" stroke="#222" stroke-width="1"/>
<text x="22.80" y="304.51" font-size="8.2" text-anchor="end">2</text>
<line x1="14.10" x2="17.90" y1="301.81" y2="301.81" stroke="#111" stroke-width="1"/>
<line x1="25.10" x2="29.70" y1="320.36" y2="320.36" stroke="#222" stroke-width="1"/>
<text x="22.80" y="323.26" font-size="8.2" text-anchor="end">3</text>
<line x1="14.10" x2="17.90" y1="320.56" y2="320.56" stroke="#111" stroke-width="1"/>
<line x1="25.10" x2="29.70" y1="339.10" y2="339.10" stroke="#222" stroke-width="1"/>
<text x="22.80" y="342.00" font-size="8.2" text-anchor="end">4</text>
<line x1="14.10" x2="17.90" y1="339.30" y2="339.30" stroke="#111" stroke-width="1"/>
<line x1="34.75" x2="34.75" y1="353.35" y2="357.95" stroke="#222" stroke-width="1"/>
<text x="34.75" y="368.35" font-size="8.2" text-anchor="middle">1960</text>
<line x1="70.75" x2="70.75" y1="353.35" y2="357.95" stroke="#222" stroke-width="1"/>
<text x="70.75" y="368.35" font-size="8.2" text-anchor="middle">1970</text>
<line x1="106.75" x2="106.75" y1="353.35" y2="357.95" stroke="#222" stroke-width="1"/>
<text x="106.75" y="368.35" font-size="8.2" text-anchor="middle">1980</text>
<line x1="142.75" x2="142.75" y1="353.35" y2="357.95" stroke="#222" stroke-width="1"/>
<text x="142.75" y="368.35" font-size="8.2" text-anchor="middle">1990</text>
<line x1="178.75" x2="178.75" y1="353.35" y2="357.95" stroke="#222" stroke-width="1"/>
<text x="178.75" y="368.35" font-size="8.2" text-anchor="middle">2000</text>
<line x1="214.75" x2="214.75" y1="353.35" y2="357.95" stroke="#222" stroke-width="1"/>
<text x="214.75" y="368.35" font-size="8.2" text-anchor="middle">2010</text>
<line x1="250.75" x2="250.75" y1="353.35" y2="357.95" stroke="#222" stroke-width="1"/>
<text x="250.75" y="368.35" font-size="8.2" text-anchor="middle">2020</text>
<text transform="translate(8.20,287.55) rotate(-90)" font-size="8.3" text-anchor="middle">error [K]</text>
<text x="142.45" y="217.15" font-size="12.1" font-weight="bold" class="b" text-anchor="middle">HARMONIE</text>
<rect x="423.15" y="221.75" width="82.80" height="131.60" fill="#cccccc"/>
<line x1="292.40" x2="517.90" y1="226.62" y2="226.62" stroke="#aaa" stroke-width="0.8" stroke-dasharray="1,1.45"/>
<line x1="292.40" x2="517.90" y1="245.37" y2="245.37" stroke="#aaa" stroke-width="0.8" stroke-dasharray="1,1.45"/>
<line x1="292.40" x2="517.90" y1="254.74" y2="254.74" stroke="#aaa" stroke-width="0.8" stroke-dasharray="1,1.45"/>
<line x1="292.40" x2="517.90" y1="259.43" y2="259.43" stroke="#aaa" stroke-width="0.8" stroke-dasharray="1,1.45"/>
<line x1="292.40" x2="517.90" y1="268.80" y2="268.80" stroke="#aaa" stroke-width="0.8" stroke-dasharray="1,1.45"/>
<line x1="292.40" x2="517.90" y1="273.49" y2="273.49" stroke="#aaa" stroke-width="0.8" stroke-dasharray="1,1.45"/>
<line x1="292.40" x2="517.90" y1="282.86" y2="282.86" stroke="#aaa" stroke-width="0.8" stroke-dasharray="1,1.45"/>
<line x1="292.40" x2="517.90" y1="301.61" y2="301.61" stroke="#aaa" stroke-width="0.8" stroke-dasharray="1,1.45"/>
<line x1="292.40" x2="517.90" y1="264.32" y2="264.32" stroke="#777" stroke-width="1.4"/>
<polyline points="300.90,267.31 301.20,266.20 301.50,281.38 301.80,268.35 302.10,268.02 302.40,253.95 302.70,269.15 303.00,265.96 303.30,268.35 303.60,264.57 303.90,257.08 304.20,259.49 304.50,278.33 304.80,263.62 305.10,262.78 305.40,277.43 305.70,269.28 306.00,266.37 306.30,263.37 306.60,272.45 306.90,264.70 307.20,265.16 307.50,265.36 307.80,279.86 308.10,263.99 308.40,265.17 308.70,265.46 309.00,266.88 309.30,268.28 309.60,267.15 309.90,267.51 310.20,247.86 310.50,252.60 310.80,270.45 311.10,267.12 311.40,266.40 311.70,301.19 312.00,263.72 312.30,267.57 312.60,267.54 312.90,266.05 313.20,257.23 313.50,267.13 313.80,263.14 314.10,261.68 314.40,275.29 314.70,274.99 315.00,261.25 315.30,259.34 315.60,262.89 315.90,254.29 316.20,259.43 316.50,246.33 316.80,263.61 317.10,250.09 317.40,265.45 317.70,258.79 318.00,257.87 318.30,258.11 318.60,282.90 318.90,255.89 319.20,265.34 319.50,253.65 319.80,265.96 320.10,256.46 320.40,255.56 320.70,261.71 321.00,258.37 321.30,247.86 321.60,261.91 321.90,268.75 322.20,257.63 322.50,269.44 322.80,273.76 323.10,262.56 323.40,267.81 323.70,249.79 324.00,260.80 324.30,247.10 324.60,260.62 324.90,259.70 325.20,262.49 325.50,254.16 325.80,273.76 326.10,262.15 326.40,266.66 326.70,267.42 327.00,259.53 327.30,270.59 327.60,262.97 327.90,244.05 328.20,253.08 328.50,262.94 328.80,261.22 329.10,262.15 329.40,262.81 329.70,278.33 330.00,261.70 330.30,259.25 330.60,257.78 330.90,261.91 331.20,260.49 331.50,250.58 331.80,250.14 332.10,261.43 332.40,264.75 332.70,256.33 333.00,262.53 333.30,241.76 333.60,271.61 333.90,264.19 334.20,248.81 334.50,260.46 334.80,261.37 335.10,267.08 335.40,257.30 335.70,261.47 336.00,256.23 336.30,285.19 336.60,258.85 336.90,273.64 337.20,272.55 337.50,261.02 337.80,259.48 338.10,264.56 338.40,260.46 338.70,248.62 339.00,270.48 339.30,266.84 339.60,261.63 339.90,258.60 340.20,298.90 340.50,266.56 340.80,254.89 341.10,265.18 341.40,265.32 341.70,265.42 342.00,266.38 342.30,263.42 342.60,253.19 342.90,273.44 343.20,270.03 343.50,263.41 343.80,262.10 344.10,282.90 344.40,267.04 344.70,266.85 345.00,269.55 345.30,259.15 345.60,245.57 345.90,263.59 346.20,256.14 346.50,262.43 346.80,248.64 347.10,262.01 347.40,259.28 347.70,266.86 348.00,263.79 348.30,262.52 348.60,267.25 348.90,266.61 349.20,256.04 349.50,257.47 349.80,254.44 350.10,243.29 350.40,266.69 350.70,262.20 351.00,265.23 351.30,265.40 351.60,295.10 351.90,264.04 352.20,266.30 352.50,267.81 352.80,266.93 353.10,255.48 353.40,271.76 353.70,262.60 354.00,269.62 354.30,269.52 354.60,301.19 354.90,273.09 355.20,271.17 355.50,263.12 355.80,273.90 356.10,278.49 356.40,261.96 356.70,265.85 357.00,253.95 357.30,277.98 357.60,257.18 357.90,256.85 358.20,258.74 358.50,273.05 358.80,265.75 359.10,264.78 359.40,270.17 359.70,261.50 360.00,259.87 360.30,264.08 360.60,264.10 360.90,250.90 361.20,264.41 361.50,279.10 361.80,258.24 362.10,260.07 362.40,252.94 362.70,268.04 363.00,267.00 363.30,265.13 363.60,268.19 363.90,266.48 364.20,261.66 364.50,284.43 364.80,263.38 365.10,259.91 365.40,265.04 365.70,267.13 366.00,272.76 366.30,267.22 366.60,266.36 366.90,273.07 367.20,259.17 367.50,253.81 367.80,253.95 368.10,261.55 368.40,255.41 368.70,263.63 369.00,264.14 369.30,264.98 369.60,264.70 369.90,255.48 370.20,264.76 370.50,271.88 370.80,273.70 371.10,259.58 371.40,251.08 371.70,269.09 372.00,267.17 372.30,285.19 372.60,268.11 372.90,261.08 373.20,259.88 373.50,265.01 373.80,262.07 374.10,259.75 374.40,262.61 374.70,263.35 375.00,256.23 375.30,259.36 375.60,253.62 375.90,256.81 376.20,244.81 376.50,258.48 376.80,260.58 377.10,249.98 377.40,261.32 377.70,257.51 378.00,260.84 378.30,270.65 378.60,264.28 378.90,255.55 379.20,273.76 379.50,256.47 379.80,270.51 380.10,262.64 380.40,263.31 380.70,264.56 381.00,263.04 381.30,263.65 381.60,268.97 381.90,266.13 382.20,263.52 382.50,267.14 382.80,259.94 383.10,283.67 383.40,265.78 383.70,245.57 384.00,265.99 384.30,260.45 384.60,262.39 384.90,260.13 385.20,263.43 385.50,262.92 385.80,274.54 386.10,263.44 386.40,262.10 386.70,252.43 387.00,261.34 387.30,263.14 387.60,262.26 387.90,254.76 388.20,262.92 388.50,256.98 388.80,255.13 389.10,260.39 389.40,260.52 389.70,264.79 390.00,264.59 390.30,258.82 390.60,278.33 390.90,264.65 391.20,260.45 391.50,273.08 391.80,269.46 392.10,274.03 392.40,253.73 392.70,263.36 393.00,260.72 393.30,275.05 393.60,260.28 393.90,255.35 394.20,275.17 394.50,279.10 394.80,261.01 395.10,272.12 395.40,256.71 395.70,266.57 396.00,262.97 396.30,249.73 396.60,270.83 396.90,272.43 397.20,261.16 397.50,282.90 397.80,258.28 398.10,250.14 398.40,264.48 398.70,256.22 399.00,261.09 399.30,278.48 399.60,260.25 399.90,259.75 400.20,254.89 400.50,274.50 400.80,272.89 401.10,317.95 401.40,273.15 401.70,270.38 402.00,264.69 402.30,252.43 402.60,280.96 402.90,276.24 403.20,264.98 403.50,269.86 403.80,268.10 404.10,271.80 404.40,271.78 404.70,275.95 405.00,301.95 405.30,283.17 405.60,275.39 405.90,279.78 406.20,273.82 406.50,255.84 406.80,271.41 407.10,271.85 407.40,267.78 407.70,272.74 408.00,275.29 408.30,254.60 408.60,263.86 408.90,265.47 409.20,266.10 409.50,268.27 409.80,272.07 410.10,277.84 410.40,268.79 410.70,275.56 411.00,270.67 411.30,267.04 411.60,268.29 411.90,306.52 412.20,276.40 412.50,272.92 412.80,265.55 413.10,267.30 413.40,270.40 413.70,274.98 414.00,272.06 414.30,263.89 414.60,256.90 414.90,254.71 415.20,269.59 415.50,271.45 415.80,292.05 416.10,264.28 416.40,277.21 416.70,280.46 417.00,266.40 417.30,277.38 417.60,263.80 417.90,265.57 418.20,265.66 418.50,267.51 418.80,265.39 419.10,267.80 419.40,256.24 419.70,258.12 420.00,276.38 420.30,272.24 420.60,263.35 420.90,266.85 421.20,260.36 421.50,270.10 421.80,266.72 422.10,273.54 422.40,266.96 422.70,279.10 423.00,273.65 423.30,261.01 423.60,262.49 423.90,276.73 424.20,259.51 424.50,269.86 424.80,271.14 425.10,267.18 425.40,266.60 425.70,270.52 426.00,266.77 426.30,282.90 426.60,264.24 426.90,268.55 427.20,264.72 427.50,267.81 427.80,267.01 428.10,272.63 428.40,271.15 428.70,270.55 429.00,267.75 429.30,257.00 429.60,271.07 429.90,265.88 430.20,287.48 430.50,271.10 430.80,280.05 431.10,273.23 431.40,270.37 431.70,272.87 432.00,263.97 432.30,275.77 432.60,260.45 432.90,274.60 433.20,278.39 433.50,272.51 433.80,271.40 434.10,294.33 434.40,269.70 434.70,268.25 435.00,263.46 435.30,271.83 435.60,271.02 435.90,267.61 436.20,269.41 436.50,271.03 436.80,273.45 437.10,257.00 437.40,266.19 437.70,269.57 438.00,264.08 438.30,271.09 438.60,262.57 438.90,277.60 439.20,265.31 439.50,264.83 439.80,264.88 440.10,265.01 440.40,274.32 440.70,279.86 441.00,279.86 441.30,262.05 441.60,267.99 441.90,270.16 442.20,260.17 442.50,260.97 442.80,249.48 443.10,255.01 443.40,264.88 443.70,273.43 444.00,260.76 444.30,258.08 444.60,250.90 444.90,261.05 445.20,262.58 445.50,267.62 445.80,270.27 446.10,264.48 446.40,268.07 446.70,265.50 447.00,264.85 447.30,271.44 447.60,263.28 447.90,265.06 448.20,263.43 448.50,294.33 448.80,259.32 449.10,259.30 449.40,257.62 449.70,259.35 450.00,248.69 450.30,267.35 450.60,255.37 450.90,264.20 451.20,257.85 451.50,247.86 451.80,261.96 452.10,277.57 452.40,261.11 452.70,263.40 453.00,261.09 453.30,261.09 453.60,262.47 453.90,267.55 454.20,256.52 454.50,272.78 454.80,253.87 455.10,275.29 455.40,269.18 455.70,263.08 456.00,263.35 456.30,262.59 456.60,264.12 456.90,257.39 457.20,265.86 457.50,267.08 457.80,268.12 458.10,263.89 458.40,263.99 458.70,257.46 459.00,261.67 459.30,268.37 459.60,260.54 459.90,258.41 460.20,270.28 460.50,267.94 460.80,276.46 461.10,257.31 461.40,267.35 461.70,261.01 462.00,275.29 462.30,264.68 462.60,263.00 462.90,265.10 463.20,262.91 463.50,256.28 463.80,261.26 464.10,267.01 464.40,254.26 464.70,270.59 465.00,266.39 465.30,257.57 465.60,257.11 465.90,247.10 466.20,260.65 466.50,261.18 466.80,265.31 467.10,254.53 467.40,249.76 467.70,260.85 468.00,266.11 468.30,246.99 468.60,255.91 468.90,254.22 469.20,252.36 469.50,259.58 469.80,251.67 470.10,261.40 470.40,262.32 470.70,262.56 471.00,269.78 471.30,260.71 471.60,264.32 471.90,264.22 472.20,253.63 472.50,254.64 472.80,259.60 473.10,261.98 473.40,273.76 473.70,272.75 474.00,247.66 474.30,262.46 474.60,257.14 474.90,259.82 475.20,261.01 475.50,255.54 475.80,256.85 476.10,269.67 476.40,258.37 476.70,245.57 477.00,247.74 477.30,253.19 477.60,261.52 477.90,257.19 478.20,255.10 478.50,260.12 478.80,269.28 479.10,251.26 479.40,259.63 479.70,260.05 480.00,262.96 480.30,247.86 480.60,259.63 480.90,264.82 481.20,252.03 481.50,264.67 481.80,269.11 482.10,261.00 482.40,262.05 482.70,254.50 483.00,266.69 483.30,291.29 483.60,273.37 483.90,266.20 484.20,248.62 484.50,267.23 484.80,262.57 485.10,272.79 485.40,253.47 485.70,268.56 486.00,264.73 486.30,265.27 486.60,279.72 486.90,270.54 487.20,275.29 487.50,261.16 487.80,264.20 488.10,268.28 488.40,268.18 488.70,278.75 489.00,262.31 489.30,263.53 489.60,268.65 489.90,270.15 490.20,265.40 490.50,258.94 490.80,264.67 491.10,283.67 491.40,262.00 491.70,250.14 492.00,262.94 492.30,262.09 492.60,268.76 492.90,262.12 493.20,266.27 493.50,261.07 493.80,270.51 494.10,262.13 494.40,256.97 494.70,266.50 495.00,251.67 495.30,262.73 495.60,262.37 495.90,262.57 496.20,250.71 496.50,262.67 496.80,262.66 497.10,266.32 497.40,266.06 497.70,264.98 498.00,295.10 498.30,264.35 498.60,246.33 498.90,262.06 499.20,262.82 499.50,266.86 499.80,265.30 500.10,258.96 500.40,266.10 500.70,267.66 501.00,266.80 501.30,264.57 501.60,296.62 501.90,270.29 502.20,260.76 502.50,265.74 502.80,265.35 503.10,267.75 503.40,264.59 503.70,262.99 504.00,255.82 504.30,263.86 504.60,265.10 504.90,256.86 505.20,259.19 505.50,272.24 505.80,268.75 506.10,259.43 506.40,258.71 506.70,249.74 507.00,253.43 507.30,260.35 507.60,261.20 507.90,256.10 508.20,261.18 508.50,261.30 508.80,261.45 509.10,253.22 509.40,258.52" fill="none" stroke="#22cc22" stroke-width="0.9" stroke-linejoin="miter" stroke-miterlimit="2"/><polyline points="301.80,267.79 302.10,267.03 302.40,266.44 302.70,266.15 303.00,265.85 303.30,265.58 303.60,265.87 303.90,265.86 304.20,265.68 304.50,265.06 304.80,265.16 305.10,264.97 305.40,264.82 305.70,264.97 306.00,265.73 306.30,266.07 306.60,266.24 306.90,266.39 307.20,266.66 307.50,266.10 307.80,265.98 308.10,266.05 308.40,266.61 308.70,265.44 309.00,265.84 309.30,266.00 309.60,266.11 309.90,266.29 310.20,266.30 310.50,266.52 310.80,266.75 311.10,266.85 311.40,266.36 311.70,266.60 312.00,266.60 312.30,265.71 312.60,266.09 312.90,266.09 313.20,265.49 313.50,264.84 313.80,264.20 314.10,263.45 314.40,262.77 314.70,262.14 315.00,261.76 315.30,261.31 315.60,261.28 315.90,261.07 316.20,260.87 316.50,260.52 316.80,259.63 317.10,259.24 317.40,259.54 317.70,258.88 318.00,259.50 318.30,259.31 318.60,259.06 318.90,258.99 319.20,259.54 319.50,258.93 319.80,259.11 320.10,259.75 320.40,259.67 320.70,260.12 321.00,260.39 321.30,260.22 321.60,261.23 321.90,260.36 322.20,260.73 322.50,261.27 322.80,261.30 323.10,261.49 323.40,262.06 323.70,261.72 324.00,261.13 324.30,261.51 324.60,261.21 324.90,261.45 325.20,261.17 325.50,261.27 325.80,262.03 326.10,262.07 326.40,261.46 326.70,261.59 327.00,261.67 327.30,261.63 327.60,262.15 327.90,262.62 328.20,262.58 328.50,262.11 328.80,261.51 329.10,261.66 329.40,261.06 329.70,260.33 330.00,260.13 330.30,260.69 330.60,260.70 330.90,260.28 331.20,260.13 331.50,259.52 331.80,259.69 332.10,259.54 332.40,258.55 332.70,258.55 333.00,258.98 333.30,259.80 333.60,260.60 333.90,261.17 334.20,261.19 334.50,261.41 334.80,261.86 335.10,262.56 335.40,263.44 335.70,262.72 336.00,262.40 336.30,263.38 336.60,263.43 336.90,264.14 337.20,264.46 337.50,264.97 337.80,264.92 338.10,265.02 338.40,265.42 338.70,265.87 339.00,264.72 339.30,264.28 339.60,264.57 339.90,264.97 340.20,265.12 340.50,265.25 340.80,265.00 341.10,265.14 341.40,265.29 341.70,265.37 342.00,265.57 342.30,265.15 342.60,265.18 342.90,265.92 343.20,266.20 343.50,265.77 343.80,265.11 344.10,264.87 344.40,264.37 344.70,263.97 345.00,262.41 345.30,261.90 345.60,261.64 345.90,261.93 346.20,261.94 346.50,261.60 346.80,261.51 347.10,261.17 347.40,260.77 347.70,260.64 348.00,259.78 348.30,259.94 348.60,259.81 348.90,261.03 349.20,261.61 349.50,262.30 349.80,262.29 350.10,262.50 350.40,262.86 350.70,262.96 351.00,263.08 351.30,264.11 351.60,265.17 351.90,265.83 352.20,266.33 352.50,266.71 352.80,267.30 353.10,268.08 353.40,268.78 353.70,269.22 354.00,270.19 354.30,270.71 354.60,270.21 354.90,270.11 355.20,270.41 355.50,270.89 355.80,270.06 356.10,268.85 356.40,267.77 356.70,267.70 357.00,266.85 357.30,266.07 357.60,266.12 357.90,265.22 358.20,264.22 358.50,264.41 358.80,264.28 359.10,263.44 359.40,262.41 359.70,262.49 360.00,262.22 360.30,262.59 360.60,261.72 360.90,262.18 361.20,262.58 361.50,262.51 361.80,263.14 362.10,263.74 362.40,263.82 362.70,263.91 363.00,264.29 363.30,263.97 363.60,263.91 363.90,264.32 364.20,265.00 364.50,265.80 364.80,265.67 365.10,266.04 365.40,265.70 365.70,264.84 366.00,264.64 366.30,264.62 366.60,264.20 366.90,264.17 367.20,264.40 367.50,264.36 367.80,264.18 368.10,264.52 368.40,264.35 368.70,264.67 369.00,264.69 369.30,264.70 369.60,264.51 369.90,264.88 370.20,265.21 370.50,265.18 370.80,265.46 371.10,265.29 371.40,265.02 371.70,265.10 372.00,264.16 372.30,263.94 372.60,263.17 372.90,262.36 373.20,262.00 373.50,262.38 373.80,261.31 374.10,260.58 374.40,260.55 374.70,259.82 375.00,259.61 375.30,258.77 375.60,258.28 375.90,257.69 376.20,257.65 376.50,258.45 376.80,258.77 377.10,258.94 377.40,259.08 377.70,259.38 378.00,260.30 378.30,260.73 378.60,261.06 378.90,261.34 379.20,262.18 379.50,262.44 379.80,263.28 380.10,263.77 380.40,263.53 380.70,263.94 381.00,264.47 381.30,265.46 381.60,266.00 381.90,264.88 382.20,264.86 382.50,264.50 382.80,264.23 383.10,263.94 383.40,263.87 383.70,263.44 384.00,263.88 384.30,263.80 384.60,263.40 384.90,263.41 385.20,262.76 385.50,262.63 385.80,263.03 386.10,262.38 386.40,262.55 386.70,262.23 387.00,261.92 387.30,261.72 387.60,261.56 387.90,260.95 388.20,261.01 388.50,260.80 388.80,261.06 389.10,261.25 389.40,261.07 389.70,261.73 390.00,262.62 390.30,263.29 390.60,263.08 390.90,263.57 391.20,263.56 391.50,264.40 391.80,264.02 392.10,263.32 392.40,264.16 392.70,264.52 393.00,264.33 393.30,265.34 393.60,264.63 393.90,264.78 394.20,264.43 394.50,264.54 394.80,265.38 395.10,266.51 395.40,265.38 395.70,264.86 396.00,264.68 396.30,264.05 396.60,263.01 396.90,262.34 397.20,261.28 397.50,262.42 397.80,262.47 398.10,262.63 398.40,263.21 398.70,263.60 399.00,263.69 399.30,263.99 399.60,264.87 399.90,265.96 400.20,266.20 400.50,266.63 400.80,268.82 401.10,270.44 401.40,269.76 401.70,270.04 402.00,270.30 402.30,271.15 402.60,270.87 402.90,271.06 403.20,271.74 403.50,272.54 403.80,273.08 404.10,274.29 404.40,275.11 404.70,273.19 405.00,272.54 405.30,272.64 405.60,272.22 405.90,272.25 406.20,272.46 406.50,271.18 406.80,270.42 407.10,269.82 407.40,268.72 407.70,268.15 408.00,267.47 408.30,267.43 408.60,267.86 408.90,267.83 409.20,268.24 409.50,268.62 409.80,268.72 410.10,268.00 410.40,269.65 410.70,270.53 411.00,270.86 411.30,271.32 411.60,271.91 411.90,272.61 412.20,271.81 412.50,271.11 412.80,269.63 413.10,269.45 413.40,269.40 413.70,269.46 414.00,270.05 414.30,269.23 414.60,269.42 414.90,270.26 415.20,270.13 415.50,270.49 415.80,269.72 416.10,269.25 416.40,269.27 416.70,269.81 417.00,269.26 417.30,268.99 417.60,268.54 417.90,267.39 418.20,268.15 418.50,267.97 418.80,267.01 419.10,267.11 419.40,266.10 419.70,266.50 420.00,266.55 420.30,267.02 420.60,267.02 420.90,267.70 421.20,268.10 421.50,267.74 421.80,268.03 422.10,268.07 422.40,267.29 422.70,267.70 423.00,267.96 423.30,268.38 423.60,268.20 423.90,268.47 424.20,268.09 424.50,268.05 424.80,267.37 425.10,267.08 425.40,267.33 425.70,267.68 426.00,267.10 426.30,267.91 426.60,268.00 426.90,267.97 427.20,268.02 427.50,268.59 427.80,268.68 428.10,268.67 428.40,269.30 428.70,269.76 429.00,270.51 429.30,271.08 429.60,271.31 429.90,271.76 430.20,271.34 430.50,271.76 430.80,271.30 431.10,271.72 431.40,271.78 431.70,271.73 432.00,271.96 432.30,271.65 432.60,271.50 432.90,270.73 433.20,270.09 433.50,270.16 433.80,270.03 434.10,270.25 434.40,269.86 434.70,270.51 435.00,270.36 435.30,269.44 435.60,268.96 435.90,268.77 436.20,268.21 436.50,268.19 436.80,267.73 437.10,268.48 437.40,267.93 437.70,267.38 438.00,267.22 438.30,267.05 438.60,267.35 438.90,266.57 439.20,266.29 439.50,266.09 439.80,266.05 440.10,266.45 440.40,265.73 440.70,265.61 441.00,263.89 441.30,263.29 441.60,263.35 441.90,263.70 442.20,263.24 442.50,262.00 442.80,262.47 443.10,262.27 443.40,261.95 443.70,261.54 444.00,261.66 444.30,262.31 444.60,263.07 444.90,264.32 445.20,265.18 445.50,265.85 445.80,265.52 446.10,266.13 446.40,266.88 446.70,266.90 447.00,266.79 447.30,266.03 447.60,264.93 447.90,263.85 448.20,262.52 448.50,262.10 448.80,261.09 449.10,260.63 449.40,259.28 449.70,258.67 450.00,258.23 450.30,258.47 450.60,258.84 450.90,259.58 451.20,260.13 451.50,260.74 451.80,261.28 452.10,262.77 452.40,262.06 452.70,262.93 453.00,262.14 453.30,261.98 453.60,262.28 453.90,262.31 454.20,262.65 454.50,262.76 454.80,262.82 455.10,262.62 455.40,262.91 455.70,263.15 456.00,263.15 456.30,263.57 456.60,263.00 456.90,263.19 457.20,263.42 457.50,263.33 457.80,263.12 458.10,262.75 458.40,263.20 458.70,263.51 459.00,264.74 459.30,264.26 459.60,264.32 459.90,263.93 460.20,263.53 460.50,263.63 460.80,264.05 461.10,264.35 461.40,264.06 461.70,263.69 462.00,263.77 462.30,263.49 462.60,262.58 462.90,262.16 463.20,262.68 463.50,262.05 463.80,261.78 464.10,261.78 464.40,261.50 464.70,261.36 465.00,261.34 465.30,260.80 465.60,260.37 465.90,260.29 466.20,260.17 466.50,259.64 466.80,258.64 467.10,257.77 467.40,257.31 467.70,257.57 468.00,258.78 468.30,258.93 468.60,259.08 468.90,258.99 469.20,260.00 469.50,260.73 469.80,261.01 470.10,260.96 470.40,261.45 470.70,261.36 471.00,261.64 471.30,262.19 471.60,262.28 471.90,262.15 472.20,261.31 472.50,261.36 472.80,261.09 473.10,260.55 473.40,260.66 473.70,260.07 474.00,259.47 474.30,260.34 474.60,260.46 474.90,260.49 475.20,259.54 475.50,258.97 475.80,258.20 476.10,258.67 476.40,258.08 476.70,258.09 477.00,258.47 477.30,257.63 477.60,258.06 477.90,258.46 478.20,258.19 478.50,258.22 478.80,258.12 479.10,259.13 479.40,258.96 479.70,259.15 480.00,260.19 480.30,260.84 480.60,261.24 480.90,260.62 481.20,261.85 481.50,262.35 481.80,263.44 482.10,263.69 482.40,264.20 482.70,264.65 483.00,264.55 483.30,265.92 483.60,265.38 483.90,265.54 484.20,266.00 484.50,265.98 484.80,267.35 485.10,267.44 485.40,267.64 485.70,266.80 486.00,266.60 486.30,266.63 486.60,266.63 486.90,267.57 487.20,266.87 487.50,267.48 487.80,267.48 488.10,267.81 488.40,267.80 488.70,266.51 489.00,266.13 489.30,265.83 489.60,265.87 489.90,265.23 490.20,264.89 490.50,264.48 490.80,263.83 491.10,263.78 491.40,263.91 491.70,263.41 492.00,263.39 492.30,263.15 492.60,262.98 492.90,263.04 493.20,262.88 493.50,262.91 493.80,263.43 494.10,263.41 494.40,262.71 494.70,262.33 495.00,262.33 495.30,262.29 495.60,262.53 495.90,262.12 496.20,262.14 496.50,262.58 496.80,262.64 497.10,262.71 497.40,262.79 497.70,263.13 498.00,263.34 498.30,263.87 498.60,264.08 498.90,264.38 499.20,264.39 499.50,264.30 499.80,264.36 500.10,264.85 500.40,264.73 500.70,264.82 501.00,265.17 501.30,265.67 501.60,265.78 501.90,265.94 502.20,266.12 502.50,266.35 502.80,265.68 503.10,264.61 503.40,263.85 503.70,262.92 504.00,262.45 504.30,262.02 504.60,261.27 504.90,260.20 505.20,259.47 505.50,259.32 505.80,259.27 506.10,259.30 506.40,259.10 506.70,258.79 507.00,258.96 507.30,258.65 507.60,258.67 507.90,258.07 508.20,258.01 508.50,257.97" fill="none" stroke="#000" stroke-width="1.15" stroke-linejoin="round" stroke-linecap="round"/>
<rect x="292.40" y="221.75" width="225.50" height="131.60" fill="none" stroke="#222" stroke-width="1.1"/>
<line x1="287.80" x2="292.40" y1="226.62" y2="226.62" stroke="#222" stroke-width="1"/>
<text x="285.50" y="229.52" font-size="8.2" text-anchor="end">2</text>
<line x1="287.80" x2="292.40" y1="245.37" y2="245.37" stroke="#222" stroke-width="1"/>
<text x="285.50" y="248.27" font-size="8.2" text-anchor="end">1</text>
<line x1="287.80" x2="292.40" y1="264.12" y2="264.12" stroke="#222" stroke-width="1"/>
<text x="285.50" y="267.02" font-size="8.2" text-anchor="end">0</text>
<line x1="287.80" x2="292.40" y1="282.86" y2="282.86" stroke="#222" stroke-width="1"/>
<text x="285.50" y="285.76" font-size="8.2" text-anchor="end">1</text>
<line x1="276.80" x2="280.60" y1="283.06" y2="283.06" stroke="#111" stroke-width="1"/>
<line x1="287.80" x2="292.40" y1="301.61" y2="301.61" stroke="#222" stroke-width="1"/>
<text x="285.50" y="304.51" font-size="8.2" text-anchor="end">2</text>
<line x1="276.80" x2="280.60" y1="301.81" y2="301.81" stroke="#111" stroke-width="1"/>
<line x1="287.80" x2="292.40" y1="320.36" y2="320.36" stroke="#222" stroke-width="1"/>
<text x="285.50" y="323.26" font-size="8.2" text-anchor="end">3</text>
<line x1="276.80" x2="280.60" y1="320.56" y2="320.56" stroke="#111" stroke-width="1"/>
<line x1="287.80" x2="292.40" y1="339.10" y2="339.10" stroke="#222" stroke-width="1"/>
<text x="285.50" y="342.00" font-size="8.2" text-anchor="end">4</text>
<line x1="276.80" x2="280.60" y1="339.30" y2="339.30" stroke="#111" stroke-width="1"/>
<line x1="297.00" x2="297.00" y1="353.35" y2="357.95" stroke="#222" stroke-width="1"/>
<text x="297.00" y="368.35" font-size="8.2" text-anchor="middle">1960</text>
<line x1="333.00" x2="333.00" y1="353.35" y2="357.95" stroke="#222" stroke-width="1"/>
<text x="333.00" y="368.35" font-size="8.2" text-anchor="middle">1970</text>
<line x1="369.00" x2="369.00" y1="353.35" y2="357.95" stroke="#222" stroke-width="1"/>
<text x="369.00" y="368.35" font-size="8.2" text-anchor="middle">1980</text>
<line x1="405.00" x2="405.00" y1="353.35" y2="357.95" stroke="#222" stroke-width="1"/>
<text x="405.00" y="368.35" font-size="8.2" text-anchor="middle">1990</text>
<line x1="441.00" x2="441.00" y1="353.35" y2="357.95" stroke="#222" stroke-width="1"/>
<text x="441.00" y="368.35" font-size="8.2" text-anchor="middle">2000</text>
<line x1="477.00" x2="477.00" y1="353.35" y2="357.95" stroke="#222" stroke-width="1"/>
<text x="477.00" y="368.35" font-size="8.2" text-anchor="middle">2010</text>
<line x1="513.00" x2="513.00" y1="353.35" y2="357.95" stroke="#222" stroke-width="1"/>
<text x="513.00" y="368.35" font-size="8.2" text-anchor="middle">2020</text>
<text transform="translate(270.90,287.55) rotate(-90)" font-size="8.3" text-anchor="middle">error [K]</text>
<text x="405.15" y="217.15" font-size="12.1" font-weight="bold" class="b" text-anchor="middle">HARMONIE</text>
<rect x="160.45" y="391.00" width="82.80" height="131.60" fill="#cccccc"/>
<line x1="29.70" x2="255.20" y1="395.87" y2="395.87" stroke="#aaa" stroke-width="0.8" stroke-dasharray="1,1.45"/>
<line x1="29.70" x2="255.20" y1="414.62" y2="414.62" stroke="#aaa" stroke-width="0.8" stroke-dasharray="1,1.45"/>
<line x1="29.70" x2="255.20" y1="423.99" y2="423.99" stroke="#aaa" stroke-width="0.8" stroke-dasharray="1,1.45"/>
<line x1="29.70" x2="255.20" y1="428.68" y2="428.68" stroke="#aaa" stroke-width="0.8" stroke-dasharray="1,1.45"/>
<line x1="29.70" x2="255.20" y1="438.05" y2="438.05" stroke="#aaa" stroke-width="0.8" stroke-dasharray="1,1.45"/>
<line x1="29.70" x2="255.20" y1="442.74" y2="442.74" stroke="#aaa" stroke-width="0.8" stroke-dasharray="1,1.45"/>
<line x1="29.70" x2="255.20" y1="452.11" y2="452.11" stroke="#aaa" stroke-width="0.8" stroke-dasharray="1,1.45"/>
<line x1="29.70" x2="255.20" y1="470.86" y2="470.86" stroke="#aaa" stroke-width="0.8" stroke-dasharray="1,1.45"/>
<line x1="29.70" x2="255.20" y1="433.57" y2="433.57" stroke="#777" stroke-width="1.4"/>
<polyline points="38.20,425.46 38.50,430.48 38.80,421.17 39.10,423.95 39.40,418.29 39.70,426.53 40.00,425.12 40.30,425.01 40.60,426.19 40.90,436.57 41.20,429.03 41.50,428.07 41.80,426.73 42.10,422.98 42.40,428.68 42.70,423.37 43.00,419.05 43.30,428.46 43.60,430.67 43.90,444.95 44.20,433.61 44.50,437.35 44.80,434.21 45.10,434.20 45.40,433.14 45.70,424.21 46.00,432.85 46.30,429.67 46.60,428.34 46.90,421.33 47.20,429.56 47.50,429.64 47.80,434.06 48.10,431.46 48.40,435.05 48.70,436.55 49.00,436.83 49.30,435.63 49.60,436.83 49.90,443.88 50.20,440.50 50.50,460.19 50.80,440.32 51.10,440.12 51.40,439.41 51.70,438.92 52.00,437.40 52.30,439.87 52.60,435.60 52.90,437.46 53.20,437.91 53.50,433.87 53.80,436.97 54.10,426.67 54.40,429.27 54.70,435.61 55.00,435.66 55.30,422.16 55.60,430.70 55.90,432.24 56.20,428.40 56.50,430.41 56.80,430.69 57.10,426.52 57.40,419.81 57.70,430.93 58.00,425.05 58.30,428.86 58.60,430.61 58.90,429.31 59.20,443.43 59.50,430.78 59.80,430.75 60.10,429.53 60.40,431.72 60.70,430.58 61.00,423.85 61.30,416.00 61.60,432.21 61.90,430.37 62.20,435.43 62.50,440.14 62.80,442.67 63.10,432.07 63.40,429.82 63.70,434.26 64.00,429.23 64.30,431.46 64.60,428.53 64.90,422.10 65.20,428.80 65.50,431.81 65.80,429.65 66.10,431.59 66.40,428.50 66.70,431.51 67.00,424.09 67.30,424.38 67.60,427.54 67.90,429.85 68.20,426.63 68.50,428.08 68.80,428.08 69.10,429.35 69.40,429.04 69.70,437.33 70.00,428.52 70.30,427.47 70.60,431.20 70.90,426.68 71.20,426.12 71.50,419.82 71.80,421.33 72.10,425.41 72.40,428.32 72.70,427.81 73.00,430.83 73.30,432.68 73.60,424.47 73.90,426.24 74.20,423.62 74.50,427.82 74.80,429.60 75.10,424.50 75.40,430.29 75.70,428.27 76.00,435.27 76.30,424.34 76.60,423.10 76.90,428.72 77.20,432.76 77.50,428.84 77.80,429.36 78.10,430.37 78.40,431.72 78.70,437.41 79.00,432.39 79.30,427.52 79.60,436.51 79.90,425.82 80.20,431.63 80.50,422.14 80.80,431.57 81.10,428.63 81.40,431.88 81.70,422.10 82.00,430.72 82.30,429.56 82.60,427.83 82.90,431.10 83.20,430.62 83.50,431.14 83.80,431.77 84.10,438.10 84.40,431.22 84.70,427.34 85.00,430.55 85.30,427.97 85.60,430.32 85.90,429.19 86.20,430.26 86.50,433.89 86.80,426.75 87.10,423.62 87.40,428.86 87.70,422.89 88.00,423.03 88.30,422.61 88.60,418.27 88.90,425.19 89.20,422.77 89.50,415.24 89.80,432.43 90.10,425.84 90.40,429.85 90.70,433.22 91.00,457.14 91.30,431.77 91.60,427.36 91.90,435.02 92.20,434.75 92.50,430.41 92.80,435.81 93.10,414.48 93.40,432.33 93.70,432.02 94.00,442.29 94.30,433.10 94.60,432.13 94.90,448.00 95.20,433.47 95.50,431.21 95.80,440.52 96.10,430.97 96.40,430.63 96.70,433.81 97.00,424.38 97.30,433.93 97.60,435.15 97.90,432.35 98.20,432.10 98.50,435.78 98.80,430.25 99.10,431.66 99.40,435.87 99.70,429.45 100.00,425.14 100.30,433.60 100.60,432.58 100.90,432.38 101.20,435.02 101.50,434.30 101.80,438.08 102.10,430.17 102.40,440.38 102.70,428.92 103.00,429.17 103.30,431.21 103.60,432.44 103.90,424.38 104.20,432.95 104.50,436.39 104.80,442.95 105.10,435.10 105.40,439.09 105.70,436.60 106.00,436.98 106.30,437.03 106.60,437.18 106.90,436.67 107.20,435.22 107.50,430.89 107.80,438.10 108.10,438.02 108.40,441.96 108.70,429.38 109.00,436.81 109.30,428.19 109.60,433.67 109.90,437.76 110.20,438.88 110.50,433.06 110.80,442.21 111.10,448.76 111.40,440.22 111.70,434.62 112.00,441.10 112.30,435.59 112.60,438.53 112.90,440.11 113.20,436.41 113.50,438.59 113.80,439.55 114.10,428.95 114.40,437.19 114.70,438.98 115.00,451.81 115.30,436.56 115.60,436.81 115.90,435.97 116.20,435.75 116.50,436.05 116.80,436.84 117.10,438.14 117.40,435.70 117.70,441.12 118.00,436.89 118.30,426.72 118.60,427.43 118.90,437.11 119.20,435.35 119.50,433.63 119.80,431.09 120.10,427.19 120.40,433.76 120.70,432.38 121.00,431.33 121.30,438.08 121.60,429.71 121.90,433.99 122.20,434.11 122.50,430.35 122.80,435.33 123.10,434.36 123.40,435.65 123.70,432.47 124.00,434.62 124.30,433.32 124.60,434.84 124.90,428.95 125.20,431.40 125.50,440.06 125.80,432.90 126.10,437.28 126.40,442.67 126.70,438.37 127.00,445.68 127.30,438.19 127.60,454.10 127.90,444.88 128.20,434.78 128.50,426.67 128.80,429.36 129.10,435.13 129.40,428.07 129.70,436.90 130.00,426.98 130.30,434.69 130.60,433.42 130.90,428.27 131.20,436.08 131.50,437.97 131.80,433.10 132.10,431.71 132.40,423.62 132.70,431.68 133.00,433.40 133.30,432.00 133.60,432.66 133.90,432.04 134.20,424.10 134.50,432.63 134.80,437.15 135.10,431.85 135.40,430.24 135.70,432.25 136.00,427.32 136.30,424.38 136.60,434.77 136.90,430.76 137.20,431.56 137.50,433.24 137.80,436.79 138.10,433.01 138.40,439.62 138.70,441.40 139.00,432.79 139.30,434.09 139.60,437.31 139.90,422.86 140.20,435.48 140.50,433.86 140.80,434.51 141.10,439.76 141.40,441.14 141.70,430.32 142.00,429.51 142.30,432.42 142.60,434.90 142.90,438.30 143.20,431.07 143.50,431.56 143.80,432.75 144.10,440.60 144.40,435.18 144.70,426.67 145.00,431.80 145.30,423.62 145.60,436.25 145.90,433.09 146.20,432.65 146.50,431.34 146.80,429.85 147.10,430.40 147.40,430.10 147.70,423.93 148.00,430.29 148.30,425.14 148.60,434.10 148.90,423.25 149.20,436.14 149.50,431.83 149.80,432.13 150.10,432.21 150.40,429.71 150.70,434.94 151.00,434.84 151.30,425.90 151.60,435.53 151.90,438.36 152.20,438.97 152.50,427.11 152.80,430.42 153.10,438.86 153.40,425.60 153.70,432.43 154.00,431.98 154.30,429.53 154.60,430.37 154.90,429.04 155.20,432.06 155.50,429.49 155.80,429.13 156.10,426.57 156.40,429.30 156.70,431.94 157.00,430.82 157.30,433.42 157.60,423.08 157.90,434.58 158.20,428.19 158.50,431.93 158.80,436.76 159.10,432.89 159.40,429.38 159.70,432.04 160.00,435.69 160.30,429.90 160.60,431.80 160.90,435.91 161.20,437.33 161.50,435.37 161.80,436.99 162.10,430.05 162.40,438.18 162.70,433.88 163.00,439.32 163.30,436.71 163.60,428.19 163.90,436.77 164.20,435.72 164.50,433.70 164.80,432.94 165.10,432.43 165.40,437.26 165.70,438.28 166.00,438.78 166.30,438.35 166.60,438.10 166.90,436.36 167.20,439.29 167.50,438.84 167.80,439.09 168.10,436.35 168.40,440.49 168.70,439.35 169.00,430.48 169.30,440.74 169.60,437.13 169.90,440.23 170.20,446.84 170.50,435.12 170.80,438.43 171.10,444.95 171.40,437.55 171.70,437.94 172.00,440.33 172.30,438.43 172.60,443.89 172.90,445.94 173.20,437.08 173.50,430.48 173.80,437.87 174.10,436.76 174.40,439.91 174.70,437.59 175.00,441.36 175.30,433.09 175.60,438.01 175.90,437.05 176.20,437.17 176.50,440.76 176.80,435.95 177.10,437.58 177.40,437.10 177.70,434.91 178.00,444.19 178.30,435.03 178.60,438.20 178.90,437.72 179.20,441.21 179.50,432.89 179.80,441.68 180.10,445.73 180.40,431.24 180.70,437.95 181.00,436.84 181.30,436.82 181.60,435.80 181.90,440.38 182.20,437.47 182.50,438.82 182.80,442.67 183.10,436.82 183.40,438.10 183.70,432.27 184.00,434.31 184.30,431.90 184.60,432.93 184.90,435.55 185.20,440.38 185.50,433.35 185.80,424.38 186.10,432.41 186.40,429.47 186.70,431.65 187.00,430.06 187.30,428.31 187.60,430.28 187.90,426.21 188.20,429.72 188.50,425.77 188.80,427.77 189.10,427.22 189.40,430.08 189.70,426.32 190.00,426.51 190.30,428.20 190.60,421.33 190.90,426.61 191.20,426.92 191.50,428.69 191.80,427.39 192.10,427.67 192.40,426.97 192.70,428.75 193.00,426.75 193.30,431.10 193.60,427.55 193.90,429.82 194.20,426.03 194.50,428.51 194.80,428.33 195.10,430.48 195.40,428.13 195.70,429.67 196.00,427.05 196.30,430.52 196.60,429.14 196.90,429.34 197.20,431.33 197.50,429.29 197.80,430.22 198.10,427.57 198.40,430.63 198.70,428.94 199.00,428.60 199.30,424.72 199.60,428.40 199.90,421.33 200.20,427.57 200.50,429.40 200.80,428.54 201.10,428.22 201.40,432.08 201.70,431.49 202.00,427.55 202.30,427.25 202.60,429.59 202.90,429.93 203.20,430.44 203.50,428.60 203.80,428.90 204.10,429.77 204.40,425.14 204.70,429.54 205.00,429.27 205.30,430.24 205.60,431.24 205.90,428.21 206.20,430.16 206.50,427.76 206.80,422.86 207.10,429.04 207.40,431.66 207.70,429.38 208.00,430.70 208.30,430.48 208.60,430.86 208.90,433.50 209.20,431.79 209.50,430.00 209.80,432.25 210.10,431.89 210.40,435.05 210.70,432.03 211.00,428.50 211.30,432.17 211.60,433.05 211.90,433.97 212.20,431.45 212.50,434.02 212.80,434.71 213.10,429.62 213.40,434.59 213.70,432.04 214.00,432.43 214.30,431.54 214.60,432.93 214.90,436.57 215.20,433.11 215.50,431.71 215.80,434.17 216.10,432.08 216.40,432.47 216.70,431.20 217.00,433.22 217.30,436.34 217.60,431.01 217.90,432.73 218.20,434.26 218.50,433.51 218.80,433.67 219.10,436.88 219.40,431.62 219.70,433.98 220.00,431.07 220.30,433.58 220.60,437.47 220.90,433.14 221.20,435.09 221.50,434.95 221.80,434.53 222.10,435.71 222.40,435.86 222.70,432.38 223.00,435.42 223.30,435.76 223.60,438.39 223.90,433.97 224.20,430.48 224.50,436.56 224.80,434.00 225.10,435.66 225.40,432.79 225.70,438.44 226.00,434.78 226.30,437.71 226.60,433.74 226.90,434.70 227.20,437.33 227.50,433.59 227.80,434.93 228.10,434.55 228.40,435.09 228.70,433.77 229.00,438.07 229.30,434.02 229.60,434.66 229.90,435.06 230.20,433.81 230.50,435.34 230.80,437.26 231.10,438.27 231.40,435.89 231.70,434.28 232.00,437.26 232.30,439.12 232.60,435.60 232.90,434.95 233.20,437.33 233.50,435.09 233.80,434.10 234.10,436.36 234.40,435.11 234.70,435.91 235.00,435.63 235.30,436.11 235.60,435.94 235.90,434.85 236.20,434.47 236.50,434.74 236.80,433.48 237.10,435.46 237.40,434.73 237.70,437.55 238.00,432.11 238.30,436.25 238.60,434.13 238.90,434.91 239.20,434.20 239.50,438.10 239.80,435.82 240.10,435.86 240.40,435.71 240.70,435.75 241.00,432.76 241.30,432.22 241.60,436.37 241.90,434.75 242.20,435.45 242.50,434.84" fill="none" stroke="#ff9420" stroke-width="0.9" stroke-linejoin="miter" stroke-miterlimit="2"/><polyline points="39.10,424.70 39.40,424.93 39.70,425.03 40.00,425.12 40.30,425.13 40.60,425.39 40.90,425.60 41.20,426.01 41.50,426.14 41.80,426.32 42.10,426.15 42.40,426.88 42.70,427.90 43.00,429.00 43.30,429.71 43.60,430.45 43.90,430.75 44.20,431.85 44.50,432.37 44.80,432.25 45.10,431.88 45.40,431.66 45.70,431.37 46.00,431.74 46.30,431.35 46.60,430.60 46.90,430.39 47.20,430.12 47.50,429.79 47.80,431.22 48.10,432.61 48.40,433.93 48.70,434.98 49.00,436.19 49.30,436.90 49.60,437.45 49.90,437.80 50.20,438.33 50.50,439.22 50.80,439.54 51.10,440.06 51.40,440.49 51.70,439.74 52.00,438.82 52.30,438.34 52.60,437.64 52.90,437.10 53.20,436.65 53.50,435.49 53.80,434.82 54.10,434.31 54.40,433.36 54.70,432.74 55.00,431.98 55.30,430.87 55.60,430.05 55.90,429.16 56.20,428.66 56.50,428.96 56.80,428.91 57.10,428.73 57.40,429.78 57.70,429.88 58.00,429.83 58.30,429.95 58.60,430.08 58.90,430.13 59.20,429.97 59.50,430.47 59.80,430.55 60.10,430.88 60.40,431.28 60.70,431.85 61.00,432.16 61.30,431.83 61.60,431.73 61.90,431.90 62.20,432.01 62.50,432.23 62.80,432.35 63.10,433.39 63.40,433.24 63.70,433.18 64.00,432.88 64.30,432.42 64.60,431.52 64.90,431.17 65.20,430.55 65.50,430.60 65.80,430.09 66.10,430.03 66.40,429.62 66.70,429.54 67.00,429.06 67.30,429.10 67.60,428.94 67.90,428.67 68.20,428.47 68.50,428.38 68.80,428.33 69.10,428.46 69.40,428.06 69.70,427.54 70.00,427.35 70.30,427.20 70.60,427.12 70.90,426.99 71.20,427.01 71.50,427.34 71.80,427.36 72.10,427.28 72.40,427.37 72.70,427.17 73.00,427.33 73.30,427.18 73.60,427.88 73.90,428.02 74.20,428.75 74.50,428.60 74.80,428.42 75.10,428.42 75.40,428.47 75.70,428.92 76.00,429.34 76.30,429.72 76.60,430.00 76.90,430.22 77.20,430.47 77.50,430.11 77.80,430.46 78.10,429.76 78.40,430.13 78.70,429.98 79.00,430.03 79.30,429.71 79.60,429.68 79.90,429.44 80.20,429.16 80.50,429.18 80.80,428.88 81.10,429.06 81.40,429.46 81.70,429.32 82.00,429.87 82.30,430.01 82.60,430.77 82.90,430.75 83.20,431.14 83.50,430.88 83.80,430.69 84.10,430.42 84.40,430.34 84.70,430.65 85.00,430.37 85.30,429.99 85.60,429.93 85.90,429.18 86.20,428.48 86.50,427.76 86.80,427.04 87.10,426.50 87.40,425.91 87.70,425.45 88.00,425.23 88.30,424.47 88.60,423.64 88.90,424.42 89.20,425.14 89.50,425.79 89.80,426.41 90.10,427.38 90.40,428.25 90.70,429.01 91.00,429.82 91.30,431.44 91.60,432.46 91.90,433.27 92.20,435.20 92.50,436.24 92.80,435.49 93.10,435.36 93.40,434.95 93.70,434.77 94.00,434.78 94.30,434.32 94.60,434.20 94.90,434.00 95.20,433.79 95.50,433.89 95.80,434.08 96.10,433.44 96.40,433.33 96.70,433.47 97.00,433.12 97.30,432.88 97.60,433.03 97.90,432.27 98.20,432.53 98.50,432.82 98.80,432.82 99.10,432.78 99.40,432.90 99.70,432.88 100.00,433.26 100.30,433.18 100.60,432.73 100.90,432.68 101.20,432.50 101.50,432.19 101.80,432.36 102.10,432.15 102.40,432.07 102.70,432.22 103.00,432.77 103.30,432.62 103.60,432.73 103.90,432.42 104.20,433.17 104.50,434.05 104.80,434.88 105.10,435.65 105.40,436.20 105.70,436.41 106.00,437.37 106.30,437.81 106.60,437.98 106.90,437.00 107.20,436.98 107.50,436.86 107.80,436.61 108.10,436.62 108.40,436.71 108.70,436.42 109.00,436.82 109.30,436.96 109.60,437.61 109.90,437.29 110.20,437.56 110.50,437.27 110.80,437.96 111.10,438.32 111.40,438.38 111.70,438.92 112.00,438.94 112.30,438.57 112.60,438.60 112.90,438.21 113.20,437.59 113.50,437.21 113.80,437.21 114.10,436.76 114.40,436.60 114.70,436.27 115.00,436.02 115.30,436.22 115.60,436.12 115.90,436.27 116.20,436.30 116.50,435.67 116.80,435.46 117.10,435.95 117.40,435.87 117.70,435.67 118.00,435.36 118.30,434.84 118.60,434.70 118.90,434.40 119.20,433.95 119.50,434.06 119.80,433.69 120.10,433.48 120.40,433.91 120.70,433.57 121.00,433.44 121.30,433.36 121.60,433.45 121.90,433.48 122.20,433.85 122.50,433.72 122.80,433.74 123.10,433.68 123.40,433.31 123.70,433.78 124.00,433.89 124.30,434.23 124.60,434.69 124.90,434.97 125.20,435.74 125.50,435.98 125.80,436.64 126.10,437.44 126.40,437.73 126.70,438.03 127.00,438.08 127.30,438.12 127.60,437.13 127.90,437.17 128.20,436.36 128.50,436.14 128.80,435.72 129.10,434.55 129.40,434.33 129.70,434.03 130.00,433.20 130.30,432.99 130.60,433.16 130.90,433.32 131.20,433.21 131.50,433.44 131.80,433.16 132.10,433.43 132.40,432.73 132.70,432.63 133.00,433.12 133.30,432.84 133.60,432.38 133.90,432.33 134.20,432.06 134.50,431.85 134.80,432.01 135.10,431.81 135.40,431.73 135.70,431.70 136.00,431.91 136.30,432.44 136.60,432.76 136.90,433.10 137.20,433.23 137.50,433.52 137.80,433.88 138.10,434.55 138.40,434.62 138.70,434.61 139.00,434.89 139.30,435.44 139.60,435.37 139.90,434.95 140.20,434.72 140.50,434.47 140.80,434.07 141.10,434.44 141.40,434.29 141.70,433.99 142.00,433.76 142.30,434.14 142.60,434.13 142.90,433.97 143.20,433.40 143.50,432.79 143.80,433.10 144.10,433.28 144.40,433.27 144.70,433.02 145.00,432.47 145.30,432.39 145.60,432.24 145.90,431.63 146.20,430.92 146.50,430.66 146.80,430.60 147.10,430.13 147.40,430.98 147.70,430.77 148.00,430.76 148.30,430.78 148.60,430.70 148.90,431.03 149.20,431.32 149.50,431.64 149.80,432.37 150.10,432.89 150.40,433.32 150.70,432.91 151.00,433.34 151.30,433.04 151.60,432.65 151.90,432.67 152.20,432.65 152.50,432.64 152.80,432.37 153.10,432.01 153.40,431.84 153.70,431.48 154.00,430.93 154.30,430.19 154.60,430.36 154.90,430.49 155.20,430.51 155.50,430.94 155.80,430.30 156.10,430.41 156.40,430.65 156.70,430.69 157.00,431.09 157.30,431.05 157.60,430.93 157.90,430.97 158.20,431.37 158.50,431.51 158.80,431.69 159.10,432.17 159.40,432.30 159.70,433.18 160.00,433.43 160.30,433.27 160.60,433.75 160.90,433.67 161.20,434.18 161.50,434.67 161.80,435.11 162.10,435.16 162.40,435.52 162.70,435.64 163.00,435.47 163.30,435.45 163.60,435.58 163.90,435.68 164.20,436.23 164.50,436.27 164.80,436.41 165.10,436.28 165.40,436.49 165.70,436.50 166.00,436.69 166.30,436.77 166.60,437.22 166.90,437.66 167.20,437.78 167.50,438.05 167.80,438.06 168.10,438.25 168.40,438.89 168.70,439.02 169.00,439.25 169.30,439.38 169.60,439.19 169.90,439.03 170.20,439.20 170.50,439.02 170.80,439.26 171.10,440.00 171.40,439.75 171.70,439.39 172.00,439.22 172.30,438.57 172.60,438.82 172.90,438.73 173.20,438.55 173.50,438.22 173.80,438.26 174.10,438.08 174.40,438.03 174.70,437.86 175.00,437.26 175.30,437.30 175.60,437.63 175.90,437.45 176.20,437.26 176.50,436.96 176.80,436.99 177.10,436.77 177.40,437.27 177.70,436.95 178.00,437.24 178.30,437.76 178.60,437.50 178.90,437.62 179.20,437.58 179.50,437.56 179.80,437.62 180.10,437.63 180.40,437.78 180.70,437.82 181.00,437.84 181.30,437.63 181.60,438.05 181.90,437.60 182.20,437.06 182.50,436.93 182.80,436.33 183.10,435.99 183.40,435.56 183.70,435.21 184.00,434.90 184.30,434.44 184.60,433.75 184.90,433.27 185.20,432.74 185.50,432.07 185.80,431.87 186.10,431.27 186.40,431.02 186.70,430.43 187.00,429.79 187.30,429.22 187.60,428.81 187.90,428.56 188.20,428.26 188.50,428.23 188.80,428.02 189.10,427.80 189.40,427.68 189.70,427.52 190.00,427.51 190.30,427.29 190.60,427.25 190.90,427.36 191.20,427.42 191.50,427.56 191.80,427.69 192.10,427.94 192.40,427.84 192.70,427.91 193.00,428.03 193.30,428.13 193.60,428.11 193.90,428.26 194.20,428.24 194.50,428.47 194.80,428.51 195.10,428.69 195.40,428.73 195.70,428.88 196.00,428.95 196.30,429.10 196.60,429.30 196.90,429.34 197.20,429.30 197.50,429.03 197.80,428.90 198.10,428.99 198.40,428.77 198.70,428.75 199.00,428.65 199.30,428.41 199.60,428.51 199.90,428.56 200.20,428.63 200.50,428.48 200.80,428.57 201.10,428.69 201.40,429.08 201.70,429.11 202.00,429.11 202.30,429.27 202.60,429.42 202.90,429.50 203.20,429.57 203.50,429.46 203.80,429.46 204.10,429.51 204.40,429.70 204.70,429.60 205.00,429.68 205.30,429.59 205.60,429.77 205.90,429.78 206.20,429.80 206.50,429.69 206.80,429.79 207.10,430.15 207.40,430.34 207.70,430.34 208.00,430.67 208.30,430.85 208.60,431.17 208.90,431.31 209.20,431.38 209.50,431.53 209.80,431.82 210.10,431.94 210.40,431.94 210.70,432.08 211.00,432.12 211.30,431.96 211.60,432.23 211.90,432.22 212.20,432.25 212.50,432.25 212.80,432.31 213.10,432.51 213.40,432.56 213.70,432.48 214.00,432.49 214.30,432.52 214.60,432.41 214.90,432.17 215.20,432.35 215.50,432.41 215.80,432.30 216.10,432.39 216.40,432.64 216.70,432.74 217.00,432.92 217.30,433.19 217.60,433.21 217.90,433.20 218.20,433.14 218.50,433.19 218.80,433.57 219.10,433.68 219.40,433.77 219.70,434.18 220.00,434.48 220.30,434.76 220.60,434.88 220.90,434.69 221.20,434.51 221.50,434.70 221.80,434.92 222.10,435.07 222.40,435.00 222.70,434.93 223.00,434.98 223.30,435.00 223.60,434.85 223.90,435.07 224.20,434.99 224.50,435.13 224.80,435.23 225.10,435.20 225.40,434.94 225.70,434.65 226.00,434.72 226.30,434.84 226.60,434.75 226.90,434.74 227.20,434.89 227.50,434.97 227.80,434.74 228.10,434.75 228.40,434.51 228.70,434.60 229.00,434.77 229.30,435.22 229.60,435.38 229.90,435.35 230.20,435.53 230.50,435.79 230.80,435.92 231.10,435.74 231.40,435.96 231.70,436.00 232.00,435.96 232.30,436.15 232.60,436.17 232.90,436.14 233.20,436.03 233.50,436.03 233.80,436.08 234.10,435.87 234.40,435.54 234.70,435.45 235.00,435.33 235.30,435.19 235.60,435.15 235.90,435.33 236.20,435.02 236.50,435.05 236.80,434.88 237.10,434.77 237.40,434.69 237.70,434.76 238.00,434.86 238.30,434.98 238.60,435.07 238.90,435.23 239.20,435.43 239.50,435.30 239.80,435.26 240.10,435.46 240.40,435.47 240.70,435.57 241.00,435.63 241.30,435.60 241.60,435.43" fill="none" stroke="#000" stroke-width="1.15" stroke-linejoin="round" stroke-linecap="round"/>
<rect x="29.70" y="391.00" width="225.50" height="131.60" fill="none" stroke="#222" stroke-width="1.1"/>
<line x1="25.10" x2="29.70" y1="395.87" y2="395.87" stroke="#222" stroke-width="1"/>
<text x="22.80" y="398.77" font-size="8.2" text-anchor="end">2</text>
<line x1="25.10" x2="29.70" y1="414.62" y2="414.62" stroke="#222" stroke-width="1"/>
<text x="22.80" y="417.52" font-size="8.2" text-anchor="end">1</text>
<line x1="25.10" x2="29.70" y1="433.37" y2="433.37" stroke="#222" stroke-width="1"/>
<text x="22.80" y="436.27" font-size="8.2" text-anchor="end">0</text>
<line x1="25.10" x2="29.70" y1="452.11" y2="452.11" stroke="#222" stroke-width="1"/>
<text x="22.80" y="455.01" font-size="8.2" text-anchor="end">1</text>
<line x1="14.10" x2="17.90" y1="452.31" y2="452.31" stroke="#111" stroke-width="1"/>
<line x1="25.10" x2="29.70" y1="470.86" y2="470.86" stroke="#222" stroke-width="1"/>
<text x="22.80" y="473.76" font-size="8.2" text-anchor="end">2</text>
<line x1="14.10" x2="17.90" y1="471.06" y2="471.06" stroke="#111" stroke-width="1"/>
<line x1="25.10" x2="29.70" y1="489.61" y2="489.61" stroke="#222" stroke-width="1"/>
<text x="22.80" y="492.51" font-size="8.2" text-anchor="end">3</text>
<line x1="14.10" x2="17.90" y1="489.81" y2="489.81" stroke="#111" stroke-width="1"/>
<line x1="25.10" x2="29.70" y1="508.35" y2="508.35" stroke="#222" stroke-width="1"/>
<text x="22.80" y="511.25" font-size="8.2" text-anchor="end">4</text>
<line x1="14.10" x2="17.90" y1="508.55" y2="508.55" stroke="#111" stroke-width="1"/>
<line x1="34.75" x2="34.75" y1="522.60" y2="527.20" stroke="#222" stroke-width="1"/>
<text x="34.75" y="537.60" font-size="8.2" text-anchor="middle">1960</text>
<line x1="70.75" x2="70.75" y1="522.60" y2="527.20" stroke="#222" stroke-width="1"/>
<text x="70.75" y="537.60" font-size="8.2" text-anchor="middle">1970</text>
<line x1="106.75" x2="106.75" y1="522.60" y2="527.20" stroke="#222" stroke-width="1"/>
<text x="106.75" y="537.60" font-size="8.2" text-anchor="middle">1980</text>
<line x1="142.75" x2="142.75" y1="522.60" y2="527.20" stroke="#222" stroke-width="1"/>
<text x="142.75" y="537.60" font-size="8.2" text-anchor="middle">1990</text>
<line x1="178.75" x2="178.75" y1="522.60" y2="527.20" stroke="#222" stroke-width="1"/>
<text x="178.75" y="537.60" font-size="8.2" text-anchor="middle">2000</text>
<line x1="214.75" x2="214.75" y1="522.60" y2="527.20" stroke="#222" stroke-width="1"/>
<text x="214.75" y="537.60" font-size="8.2" text-anchor="middle">2010</text>
<line x1="250.75" x2="250.75" y1="522.60" y2="527.20" stroke="#222" stroke-width="1"/>
<text x="250.75" y="537.60" font-size="8.2" text-anchor="middle">2020</text>
<text transform="translate(8.20,456.80) rotate(-90)" font-size="8.3" text-anchor="middle">error [K]</text>
<text x="142.45" y="386.40" font-size="12.1" font-weight="bold" class="b" text-anchor="middle">MESCAN</text>
<rect x="423.15" y="391.00" width="82.80" height="131.60" fill="#cccccc"/>
<line x1="292.40" x2="517.90" y1="395.87" y2="395.87" stroke="#aaa" stroke-width="0.8" stroke-dasharray="1,1.45"/>
<line x1="292.40" x2="517.90" y1="414.62" y2="414.62" stroke="#aaa" stroke-width="0.8" stroke-dasharray="1,1.45"/>
<line x1="292.40" x2="517.90" y1="423.99" y2="423.99" stroke="#aaa" stroke-width="0.8" stroke-dasharray="1,1.45"/>
<line x1="292.40" x2="517.90" y1="428.68" y2="428.68" stroke="#aaa" stroke-width="0.8" stroke-dasharray="1,1.45"/>
<line x1="292.40" x2="517.90" y1="438.05" y2="438.05" stroke="#aaa" stroke-width="0.8" stroke-dasharray="1,1.45"/>
<line x1="292.40" x2="517.90" y1="442.74" y2="442.74" stroke="#aaa" stroke-width="0.8" stroke-dasharray="1,1.45"/>
<line x1="292.40" x2="517.90" y1="452.11" y2="452.11" stroke="#aaa" stroke-width="0.8" stroke-dasharray="1,1.45"/>
<line x1="292.40" x2="517.90" y1="470.86" y2="470.86" stroke="#aaa" stroke-width="0.8" stroke-dasharray="1,1.45"/>
<line x1="292.40" x2="517.90" y1="433.57" y2="433.57" stroke="#777" stroke-width="1.4"/>
<polyline points="300.90,487.19 301.20,454.23 301.50,455.37 301.80,455.37 302.10,459.93 302.40,429.29 302.70,461.44 303.00,454.29 303.30,452.78 303.60,449.11 303.90,482.62 304.20,451.73 304.50,450.55 304.80,435.14 305.10,464.12 305.40,454.43 305.70,443.36 306.00,437.67 306.30,447.14 306.60,453.53 306.90,454.49 307.20,460.58 307.50,455.57 307.80,493.29 308.10,460.09 308.40,454.78 308.70,454.18 309.00,450.25 309.30,454.01 309.60,458.12 309.90,429.29 310.20,469.47 310.50,455.57 310.80,461.00 311.10,458.97 311.40,499.38 311.70,463.87 312.00,458.70 312.30,459.21 312.60,465.90 312.90,449.91 313.20,458.68 313.50,436.14 313.80,460.61 314.10,456.27 314.40,453.28 314.70,451.90 315.00,478.05 315.30,450.92 315.60,449.44 315.90,447.26 316.20,448.66 316.50,446.26 316.80,458.00 317.10,423.19 317.40,447.47 317.70,449.05 318.00,439.63 318.30,453.19 318.60,489.48 318.90,443.63 319.20,441.74 319.50,440.33 319.80,441.74 320.10,441.60 320.40,447.86 320.70,423.19 321.00,437.18 321.30,449.81 321.60,432.15 321.90,441.57 322.20,458.24 322.50,444.68 322.80,447.75 323.10,442.68 323.40,441.49 323.70,436.27 324.00,447.84 324.30,423.95 324.60,435.28 324.90,453.54 325.20,443.96 325.50,475.00 325.80,428.43 326.10,428.19 326.40,457.28 326.70,455.16 327.00,442.00 327.30,442.21 327.60,446.39 327.90,422.43 328.20,442.30 328.50,436.99 328.80,441.35 329.10,428.88 329.40,451.38 329.70,433.39 330.00,428.55 330.30,433.99 330.60,442.41 330.90,432.26 331.20,440.94 331.50,432.56 331.80,420.14 332.10,436.70 332.40,431.07 332.70,436.44 333.00,445.29 333.30,443.72 333.60,427.94 333.90,432.55 334.20,434.53 334.50,421.26 334.80,434.60 335.10,439.09 335.40,418.96 335.70,422.43 336.00,440.81 336.30,432.74 336.60,435.43 336.90,452.90 337.20,439.62 337.50,431.80 337.80,435.71 338.10,437.23 338.40,439.70 338.70,423.19 339.00,432.98 339.30,425.11 339.60,441.75 339.90,465.10 340.20,431.84 340.50,433.51 340.80,433.47 341.10,437.71 341.40,438.58 341.70,424.71 342.00,439.15 342.30,437.79 342.60,435.61 342.90,428.12 343.20,443.45 343.50,478.81 343.80,435.26 344.10,445.64 344.40,426.13 344.70,426.81 345.00,441.96 345.30,442.28 345.60,424.71 345.90,444.97 346.20,443.60 346.50,447.90 346.80,445.60 347.10,463.57 347.40,445.80 347.70,438.78 348.00,438.59 348.30,434.21 348.60,434.40 348.90,440.74 349.20,440.22 349.50,437.42 349.80,433.31 350.10,412.52 350.40,434.62 350.70,446.05 351.00,448.69 351.30,492.52 351.60,454.67 351.90,451.13 352.20,465.66 352.50,454.08 352.80,456.78 353.10,428.52 353.40,463.69 353.70,452.91 354.00,458.15 354.30,456.33 354.60,516.14 354.90,461.03 355.20,455.22 355.50,450.85 355.80,454.78 356.10,448.14 356.40,451.63 356.70,455.75 357.00,427.00 357.30,440.53 357.60,427.75 357.90,440.32 358.20,463.57 358.50,440.04 358.80,433.77 359.10,434.97 359.40,432.39 359.70,435.84 360.00,433.13 360.30,435.67 360.60,431.39 360.90,420.14 361.20,430.39 361.50,432.17 361.80,449.10 362.10,431.05 362.40,431.57 362.70,434.49 363.00,436.31 363.30,434.95 363.60,422.28 363.90,427.76 364.20,447.93 364.50,432.55 364.80,429.44 365.10,437.79 365.40,448.33 365.70,436.61 366.00,435.47 366.30,432.19 366.60,433.26 366.90,426.24 367.20,449.43 367.50,444.33 367.80,434.88 368.10,441.96 368.40,442.66 368.70,440.26 369.00,445.67 369.30,459.00 369.60,432.65 369.90,438.49 370.20,441.66 370.50,434.09 370.80,427.00 371.10,447.99 371.40,446.25 371.70,432.00 372.00,449.40 372.30,481.86 372.60,481.86 372.90,441.69 373.20,442.93 373.50,445.51 373.80,445.26 374.10,447.94 374.40,444.99 374.70,427.76 375.00,434.64 375.30,439.58 375.60,437.98 375.90,446.87 376.20,452.90 376.50,439.27 376.80,436.49 377.10,432.05 377.40,427.76 377.70,442.35 378.00,450.72 378.30,442.83 378.60,433.91 378.90,446.20 379.20,442.77 379.50,441.72 379.80,464.33 380.10,436.53 380.40,435.51 380.70,437.02 381.00,438.66 381.30,423.95 381.60,444.07 381.90,442.44 382.20,441.35 382.50,439.36 382.80,442.47 383.10,462.81 383.40,428.57 383.70,438.63 384.00,438.32 384.30,433.33 384.60,434.59 384.90,438.80 385.20,423.95 385.50,437.34 385.80,435.72 386.10,439.07 386.40,429.51 386.70,439.69 387.00,467.38 387.30,436.48 387.60,442.48 387.90,458.25 388.20,443.69 388.50,440.69 388.80,440.20 389.10,427.76 389.40,428.39 389.70,449.10 390.00,447.43 390.30,492.52 390.60,442.04 390.90,441.07 391.20,441.18 391.50,437.88 391.80,438.89 392.10,437.52 392.40,442.97 392.70,423.95 393.00,442.97 393.30,447.36 393.60,442.21 393.90,440.75 394.20,464.33 394.50,431.08 394.80,441.28 395.10,443.76 395.40,442.60 395.70,445.57 396.00,427.76 396.30,437.09 396.60,439.18 396.90,440.42 397.20,444.28 397.50,478.05 397.80,436.14 398.10,434.68 398.40,422.43 398.70,429.07 399.00,432.36 399.30,436.86 399.60,439.67 399.90,442.61 400.20,457.58 400.50,454.43 400.80,455.92 401.10,447.36 401.40,518.43 401.70,444.69 402.00,457.62 402.30,449.14 402.60,451.09 402.90,427.00 403.20,449.52 403.50,456.34 403.80,448.07 404.10,441.68 404.40,452.09 404.70,494.05 405.00,464.84 405.30,451.22 405.60,445.55 405.90,445.99 406.20,438.99 406.50,431.57 406.80,432.08 407.10,440.02 407.40,434.21 407.70,452.62 408.00,455.39 408.30,440.20 408.60,443.43 408.90,466.62 409.20,435.37 409.50,429.34 409.80,425.48 410.10,451.44 410.40,442.58 410.70,445.51 411.00,441.42 411.30,444.82 411.60,444.21 411.90,448.72 412.20,450.39 412.50,485.67 412.80,445.60 413.10,438.67 413.40,443.48 413.70,449.28 414.00,427.96 414.30,426.24 414.60,438.36 414.90,438.34 415.20,440.04 415.50,438.06 415.80,462.81 416.10,437.73 416.40,438.42 416.70,436.60 417.00,436.53 417.30,435.17 417.60,425.65 417.90,428.81 418.20,430.37 418.50,423.76 418.80,428.52 419.10,435.04 419.40,433.64 419.70,432.25 420.00,443.43 420.30,448.87 420.60,449.17 420.90,439.48 421.20,423.96 421.50,438.15 421.80,420.00 422.10,441.44 422.40,433.45 422.70,443.00 423.00,421.97 423.30,431.55 423.60,447.61 423.90,434.85 424.20,430.05 424.50,435.72 424.80,440.72 425.10,435.72 425.40,437.26 425.70,439.18 426.00,437.32 426.30,456.71 426.60,431.50 426.90,435.21 427.20,434.78 427.50,431.37 427.80,429.29 428.10,439.05 428.40,437.25 428.70,438.12 429.00,437.23 429.30,438.96 429.60,440.22 429.90,443.41 430.20,479.57 430.50,439.43 430.80,444.08 431.10,441.25 431.40,437.99 431.70,429.29 432.00,437.91 432.30,442.83 432.60,425.81 432.90,438.02 433.20,448.28 433.50,439.56 433.80,438.50 434.10,472.71 434.40,442.23 434.70,441.49 435.00,437.82 435.30,429.36 435.60,443.54 435.90,429.29 436.20,436.37 436.50,435.62 436.80,438.06 437.10,437.15 437.40,448.33 437.70,436.10 438.00,441.18 438.30,434.30 438.60,443.59 438.90,441.78 439.20,446.67 439.50,436.34 439.80,453.46 440.10,445.22 440.40,432.62 440.70,436.46 441.00,464.33 441.30,464.33 441.60,438.09 441.90,437.06 442.20,451.45 442.50,431.57 442.80,435.88 443.10,431.57 443.40,426.18 443.70,432.19 444.00,440.71 444.30,432.56 444.60,451.38 444.90,454.65 445.20,434.37 445.50,439.03 445.80,434.04 446.10,437.88 446.40,451.90 446.70,423.75 447.00,443.85 447.30,436.84 447.60,449.86 447.90,449.10 448.20,433.15 448.50,424.71 448.80,430.85 449.10,425.46 449.40,430.65 449.70,427.78 450.00,428.07 450.30,430.24 450.60,418.77 450.90,427.83 451.20,422.23 451.50,417.86 451.80,430.00 452.10,436.21 452.40,428.23 452.70,423.95 453.00,427.72 453.30,432.09 453.60,424.00 453.90,425.73 454.20,428.65 454.50,424.04 454.80,423.01 455.10,433.10 455.40,431.70 455.70,417.80 456.00,424.54 456.30,426.47 456.60,418.71 456.90,435.46 457.20,425.54 457.50,427.00 457.80,435.69 458.10,427.38 458.40,431.50 458.70,428.96 459.00,414.81 459.30,427.91 459.60,422.30 459.90,430.45 460.20,430.02 460.50,422.59 460.80,432.59 461.10,433.87 461.40,436.90 461.70,430.45 462.00,433.31 462.30,430.27 462.60,431.91 462.90,432.61 463.20,430.31 463.50,424.71 463.80,427.07 464.10,432.72 464.40,431.04 464.70,438.53 465.00,422.12 465.30,432.23 465.60,430.03 465.90,423.19 466.20,434.24 466.50,429.75 466.80,432.05 467.10,431.89 467.40,430.45 467.70,434.44 468.00,429.76 468.30,427.35 468.60,432.95 468.90,428.82 469.20,429.77 469.50,434.64 469.80,423.19 470.10,424.06 470.40,424.62 470.70,427.20 471.00,428.39 471.30,426.92 471.60,426.67 471.90,428.27 472.20,418.76 472.50,421.99 472.80,420.14 473.10,430.91 473.40,425.96 473.70,425.84 474.00,429.49 474.30,427.79 474.60,425.21 474.90,423.86 475.20,426.26 475.50,430.10 475.80,424.78 476.10,419.78 476.40,426.36 476.70,420.90 477.00,430.23 477.30,429.56 477.60,429.50 477.90,428.56 478.20,426.50 478.50,434.41 478.80,428.54 479.10,430.89 479.40,428.87 479.70,427.07 480.00,430.23 480.30,417.10 480.60,427.77 480.90,428.57 481.20,433.23 481.50,430.54 481.80,432.65 482.10,431.72 482.40,434.15 482.70,434.60 483.00,425.36 483.30,435.27 483.60,443.42 483.90,435.07 484.20,445.29 484.50,436.84 484.80,434.85 485.10,430.80 485.40,437.54 485.70,435.73 486.00,432.16 486.30,435.77 486.60,439.49 486.90,430.22 487.20,421.67 487.50,430.12 487.80,429.19 488.10,437.84 488.40,434.09 488.70,433.71 489.00,433.18 489.30,440.04 489.60,423.62 489.90,434.59 490.20,431.23 490.50,433.47 490.80,428.95 491.10,421.67 491.40,431.93 491.70,436.08 492.00,430.35 492.30,428.93 492.60,434.97 492.90,422.87 493.20,435.34 493.50,433.19 493.80,433.53 494.10,435.12 494.40,430.92 494.70,432.17 495.00,420.14 495.30,431.48 495.60,437.89 495.90,433.04 496.20,435.84 496.50,434.88 496.80,434.35 497.10,437.80 497.40,436.48 497.70,433.93 498.00,444.52 498.30,432.05 498.60,423.95 498.90,428.16 499.20,438.44 499.50,433.66 499.80,436.46 500.10,435.95 500.40,437.98 500.70,438.80 501.00,442.54 501.30,437.96 501.60,448.33 501.90,440.01 502.20,435.97 502.50,430.81 502.80,436.21 503.10,440.71 503.40,442.24 503.70,436.96 504.00,432.59 504.30,438.32 504.60,439.14 504.90,439.95 505.20,440.39" fill="none" stroke="#ff9420" stroke-width="0.9" stroke-linejoin="miter" stroke-miterlimit="2"/><polyline points="301.80,455.77 302.10,454.55 302.40,453.60 302.70,452.57 303.00,450.52 303.30,450.38 303.60,450.56 303.90,450.27 304.20,449.67 304.50,449.86 304.80,449.55 305.10,449.65 305.40,450.29 305.70,450.88 306.00,451.77 306.30,452.54 306.60,453.09 306.90,454.58 307.20,454.06 307.50,454.36 307.80,455.00 308.10,455.16 308.40,456.26 308.70,456.09 309.00,456.17 309.30,455.74 309.60,455.58 309.90,456.03 310.20,456.46 310.50,457.29 310.80,458.61 311.10,459.24 311.40,460.23 311.70,460.91 312.00,462.31 312.30,460.92 312.60,460.02 312.90,458.83 313.20,457.82 313.50,456.91 313.80,455.72 314.10,454.82 314.40,453.99 314.70,452.60 315.00,452.90 315.30,452.87 315.60,452.06 315.90,451.10 316.20,449.81 316.50,449.52 316.80,448.71 317.10,448.22 317.40,447.62 317.70,447.00 318.00,446.57 318.30,445.99 318.60,445.90 318.90,444.35 319.20,442.58 319.50,442.43 319.80,441.30 320.10,441.58 320.40,440.97 320.70,441.32 321.00,441.63 321.30,441.68 321.60,441.68 321.90,441.22 322.20,441.46 322.50,440.99 322.80,440.84 323.10,442.12 323.40,442.02 323.70,442.89 324.00,442.37 324.30,441.87 324.60,442.95 324.90,443.74 325.20,443.60 325.50,443.38 325.80,443.81 326.10,443.42 326.40,443.33 326.70,443.47 327.00,442.83 327.30,442.04 327.60,441.43 327.90,441.40 328.20,441.09 328.50,439.34 328.80,438.26 329.10,437.37 329.40,437.02 329.70,436.02 330.00,435.37 330.30,435.04 330.60,434.66 330.90,434.31 331.20,434.33 331.50,434.51 331.80,433.94 332.10,433.90 332.40,433.60 332.70,432.12 333.00,432.59 333.30,432.76 333.60,432.18 333.90,432.43 334.20,432.88 334.50,433.14 334.80,433.22 335.10,434.15 335.40,433.84 335.70,434.04 336.00,434.24 336.30,434.45 336.60,435.66 336.90,435.85 337.20,435.60 337.50,435.80 337.80,436.19 338.10,435.24 338.40,435.07 338.70,434.80 339.00,433.83 339.30,433.49 339.60,433.62 339.90,433.37 340.20,433.09 340.50,433.35 340.80,433.78 341.10,433.87 341.40,435.33 341.70,435.53 342.00,436.23 342.30,437.23 342.60,436.92 342.90,436.64 343.20,437.02 343.50,437.38 343.80,437.79 344.10,438.32 344.40,438.90 344.70,439.92 345.00,441.30 345.30,441.79 345.60,442.42 345.90,442.39 346.20,441.79 346.50,442.22 346.80,442.73 347.10,442.80 347.40,442.92 347.70,442.96 348.00,441.98 348.30,441.24 348.60,439.48 348.90,438.50 349.20,437.60 349.50,437.04 349.80,438.84 350.10,440.30 350.40,442.77 350.70,444.34 351.00,445.71 351.30,447.41 351.60,449.55 351.90,451.31 352.20,452.64 352.50,454.58 352.80,456.42 353.10,457.97 353.40,459.10 353.70,459.15 354.00,459.89 354.30,459.59 354.60,460.43 354.90,459.68 355.20,456.77 355.50,453.88 355.80,451.00 356.10,448.71 356.40,446.79 356.70,445.09 357.00,443.26 357.30,441.75 357.60,440.23 357.90,438.58 358.20,437.05 358.50,435.38 358.80,434.06 359.10,433.91 359.40,433.31 359.70,433.47 360.00,432.74 360.30,432.08 360.60,431.02 360.90,430.83 361.20,431.51 361.50,432.20 361.80,431.85 362.10,432.51 362.40,433.63 362.70,434.01 363.00,434.13 363.30,434.62 363.60,434.87 363.90,435.07 364.20,435.32 364.50,435.36 364.80,435.32 365.10,435.61 365.40,436.57 365.70,438.01 366.00,437.96 366.30,437.65 366.60,438.29 366.90,438.98 367.20,439.49 367.50,439.11 367.80,438.88 368.10,439.07 368.40,439.64 368.70,439.65 369.00,439.77 369.30,439.72 369.60,440.04 369.90,440.05 370.20,440.68 370.50,441.40 370.80,441.48 371.10,441.40 371.40,442.40 371.70,443.54 372.00,444.40 372.30,445.33 372.60,446.64 372.90,446.56 373.20,445.00 373.50,443.94 373.80,443.68 374.10,442.89 374.40,441.99 374.70,441.36 375.00,440.38 375.30,438.95 375.60,439.20 375.90,439.59 376.20,440.23 376.50,440.48 376.80,440.24 377.10,441.21 377.40,441.62 377.70,442.09 378.00,442.07 378.30,441.72 378.60,441.38 378.90,441.16 379.20,441.37 379.50,441.14 379.80,441.14 380.10,440.59 380.40,440.50 380.70,440.84 381.00,440.48 381.30,440.15 381.60,439.22 381.90,438.90 382.20,438.87 382.50,438.54 382.80,438.16 383.10,437.88 383.40,437.29 383.70,436.48 384.00,436.45 384.30,436.68 384.60,436.41 384.90,436.51 385.20,436.23 385.50,436.90 385.80,437.27 386.10,438.60 386.40,439.28 386.70,439.73 387.00,439.93 387.30,440.27 387.60,439.90 387.90,440.95 388.20,441.72 388.50,442.67 388.80,442.63 389.10,443.09 389.40,443.25 389.70,442.87 390.00,441.62 390.30,441.20 390.60,441.31 390.90,441.42 391.20,441.64 391.50,442.80 391.80,442.36 392.10,441.96 392.40,441.70 392.70,441.06 393.00,441.13 393.30,441.37 393.60,441.75 393.90,442.00 394.20,441.59 394.50,441.07 394.80,440.76 395.10,440.48 395.40,440.15 395.70,439.57 396.00,439.13 396.30,438.52 396.60,437.84 396.90,437.15 397.20,436.55 397.50,436.15 397.80,435.60 398.10,435.83 398.40,436.62 398.70,436.39 399.00,437.04 399.30,438.56 399.60,441.34 399.90,443.18 400.20,445.90 400.50,448.64 400.80,449.44 401.10,449.78 401.40,450.13 401.70,450.84 402.00,450.98 402.30,449.92 402.60,450.35 402.90,449.76 403.20,450.85 403.50,450.48 403.80,450.71 404.10,450.26 404.40,449.99 404.70,450.43 405.00,450.06 405.30,448.90 405.60,446.82 405.90,446.37 406.20,446.47 406.50,445.00 406.80,444.10 407.10,442.07 407.40,440.59 407.70,440.17 408.00,440.72 408.30,441.86 408.60,441.60 408.90,442.59 409.20,442.74 409.50,443.37 409.80,442.93 410.10,442.65 410.40,443.40 410.70,443.24 411.00,443.46 411.30,443.83 411.60,444.91 411.90,445.30 412.20,444.18 412.50,444.75 412.80,444.35 413.10,443.74 413.40,443.09 413.70,442.41 414.00,441.23 414.30,440.31 414.60,440.22 414.90,439.67 415.20,439.59 415.50,439.16 415.80,437.66 416.10,437.29 416.40,435.90 416.70,434.50 417.00,433.66 417.30,432.76 417.60,431.84 417.90,431.06 418.20,431.55 418.50,432.71 418.80,433.92 419.10,434.45 419.40,434.02 419.70,434.98 420.00,434.55 420.30,435.33 420.60,436.02 420.90,436.16 421.20,435.40 421.50,435.25 421.80,436.18 422.10,435.65 422.40,434.31 422.70,433.50 423.00,433.60 423.30,434.36 423.60,434.33 423.90,435.54 424.20,435.32 424.50,435.52 424.80,435.40 425.10,436.24 425.40,436.47 425.70,435.49 426.00,435.34 426.30,436.08 426.60,436.17 426.90,435.99 427.20,436.08 427.50,436.30 427.80,436.46 428.10,436.90 428.40,438.00 428.70,438.50 429.00,439.03 429.30,439.42 429.60,440.02 429.90,440.86 430.20,441.21 430.50,442.01 430.80,441.76 431.10,441.86 431.40,442.02 431.70,441.63 432.00,441.02 432.30,439.92 432.60,439.91 432.90,439.63 433.20,439.33 433.50,438.73 433.80,438.89 434.10,438.48 434.40,438.01 434.70,438.52 435.00,438.39 435.30,437.53 435.60,437.06 435.90,436.67 436.20,436.50 436.50,436.11 436.80,436.47 437.10,436.91 437.40,438.13 437.70,437.81 438.00,439.20 438.30,439.81 438.60,439.68 438.90,439.65 439.20,439.67 439.50,440.00 439.80,440.15 440.10,439.87 440.40,440.90 440.70,440.56 441.00,440.19 441.30,439.78 441.60,439.17 441.90,437.87 442.20,437.61 442.50,437.61 442.80,437.73 443.10,438.88 443.40,438.61 443.70,438.68 444.00,438.51 444.30,437.70 444.60,438.59 444.90,437.94 445.20,438.31 445.50,439.15 445.80,439.28 446.10,439.05 446.40,438.72 446.70,438.03 447.00,436.36 447.30,435.70 447.60,435.17 447.90,434.86 448.20,434.41 448.50,432.84 448.80,431.72 449.10,429.89 449.40,428.11 449.70,427.06 450.00,426.39 450.30,427.03 450.60,427.19 450.90,427.08 451.20,427.44 451.50,427.66 451.80,427.47 452.10,427.31 452.40,427.20 452.70,427.51 453.00,427.20 453.30,427.90 453.60,428.09 453.90,427.33 454.20,426.59 454.50,426.46 454.80,426.10 455.10,426.54 455.40,426.08 455.70,426.21 456.00,426.75 456.30,426.74 456.60,427.26 456.90,427.68 457.20,427.06 457.50,426.85 457.80,427.11 458.10,427.43 458.40,427.59 458.70,427.75 459.00,427.47 459.30,428.13 459.60,428.45 459.90,428.31 460.20,428.86 460.50,428.97 460.80,429.33 461.10,430.09 461.40,430.36 461.70,430.76 462.00,430.49 462.30,430.62 462.60,431.13 462.90,431.52 463.20,430.84 463.50,431.11 463.80,431.07 464.10,430.97 464.40,431.16 464.70,430.99 465.00,430.93 465.30,431.00 465.60,431.01 465.90,431.46 466.20,431.27 466.50,431.04 466.80,430.69 467.10,431.08 467.40,430.91 467.70,431.18 468.00,431.40 468.30,430.77 468.60,430.48 468.90,430.20 469.20,430.03 469.50,429.87 469.80,429.40 470.10,429.18 470.40,428.53 470.70,427.73 471.00,427.51 471.30,427.45 471.60,426.78 471.90,425.99 472.20,426.34 472.50,426.62 472.80,426.57 473.10,426.34 473.40,426.34 473.70,426.57 474.00,426.36 474.30,426.43 474.60,426.69 474.90,426.88 475.20,426.84 475.50,427.06 475.80,427.29 476.10,427.23 476.40,427.15 476.70,427.72 477.00,428.00 477.30,428.26 477.60,428.13 477.90,428.19 478.20,428.71 478.50,428.96 478.80,428.63 479.10,428.72 479.40,429.20 479.70,429.50 480.00,429.96 480.30,430.45 480.60,430.59 480.90,431.08 481.20,430.85 481.50,431.32 481.80,432.40 482.10,432.78 482.40,433.01 482.70,433.70 483.00,434.27 483.30,434.35 483.60,435.05 483.90,435.56 484.20,435.94 484.50,435.70 484.80,435.72 485.10,435.77 485.40,435.68 485.70,434.70 486.00,434.20 486.30,434.27 486.60,433.98 486.90,433.78 487.20,433.78 487.50,433.98 487.80,433.30 488.10,433.49 488.40,433.25 488.70,432.90 489.00,432.83 489.30,432.22 489.60,432.32 489.90,432.73 490.20,432.26 490.50,431.94 490.80,432.01 491.10,431.36 491.40,431.05 491.70,431.62 492.00,431.54 492.30,431.76 492.60,431.57 492.90,431.71 493.20,431.95 493.50,431.83 493.80,431.84 494.10,431.88 494.40,432.46 494.70,432.59 495.00,433.42 495.30,433.67 495.60,433.95 495.90,434.04 496.20,433.57 496.50,433.68 496.80,433.61 497.10,433.40 497.40,433.87 497.70,433.66 498.00,433.91 498.30,433.96 498.60,434.21 498.90,434.54 499.20,434.90 499.50,435.07 499.80,435.25 500.10,436.17 500.40,436.41 500.70,436.30 501.00,436.77 501.30,436.90 501.60,437.42 501.90,437.47 502.20,437.30 502.50,437.36 502.80,437.44 503.10,436.58 503.40,436.73 503.70,436.72 504.00,436.39 504.30,436.34" fill="none" stroke="#000" stroke-width="1.15" stroke-linejoin="round" stroke-linecap="round"/>
<rect x="292.40" y="391.00" width="225.50" height="131.60" fill="none" stroke="#222" stroke-width="1.1"/>
<line x1="287.80" x2="292.40" y1="395.87" y2="395.87" stroke="#222" stroke-width="1"/>
<text x="285.50" y="398.77" font-size="8.2" text-anchor="end">2</text>
<line x1="287.80" x2="292.40" y1="414.62" y2="414.62" stroke="#222" stroke-width="1"/>
<text x="285.50" y="417.52" font-size="8.2" text-anchor="end">1</text>
<line x1="287.80" x2="292.40" y1="433.37" y2="433.37" stroke="#222" stroke-width="1"/>
<text x="285.50" y="436.27" font-size="8.2" text-anchor="end">0</text>
<line x1="287.80" x2="292.40" y1="452.11" y2="452.11" stroke="#222" stroke-width="1"/>
<text x="285.50" y="455.01" font-size="8.2" text-anchor="end">1</text>
<line x1="276.80" x2="280.60" y1="452.31" y2="452.31" stroke="#111" stroke-width="1"/>
<line x1="287.80" x2="292.40" y1="470.86" y2="470.86" stroke="#222" stroke-width="1"/>
<text x="285.50" y="473.76" font-size="8.2" text-anchor="end">2</text>
<line x1="276.80" x2="280.60" y1="471.06" y2="471.06" stroke="#111" stroke-width="1"/>
<line x1="287.80" x2="292.40" y1="489.61" y2="489.61" stroke="#222" stroke-width="1"/>
<text x="285.50" y="492.51" font-size="8.2" text-anchor="end">3</text>
<line x1="276.80" x2="280.60" y1="489.81" y2="489.81" stroke="#111" stroke-width="1"/>
<line x1="287.80" x2="292.40" y1="508.35" y2="508.35" stroke="#222" stroke-width="1"/>
<text x="285.50" y="511.25" font-size="8.2" text-anchor="end">4</text>
<line x1="276.80" x2="280.60" y1="508.55" y2="508.55" stroke="#111" stroke-width="1"/>
<line x1="297.00" x2="297.00" y1="522.60" y2="527.20" stroke="#222" stroke-width="1"/>
<text x="297.00" y="537.60" font-size="8.2" text-anchor="middle">1960</text>
<line x1="333.00" x2="333.00" y1="522.60" y2="527.20" stroke="#222" stroke-width="1"/>
<text x="333.00" y="537.60" font-size="8.2" text-anchor="middle">1970</text>
<line x1="369.00" x2="369.00" y1="522.60" y2="527.20" stroke="#222" stroke-width="1"/>
<text x="369.00" y="537.60" font-size="8.2" text-anchor="middle">1980</text>
<line x1="405.00" x2="405.00" y1="522.60" y2="527.20" stroke="#222" stroke-width="1"/>
<text x="405.00" y="537.60" font-size="8.2" text-anchor="middle">1990</text>
<line x1="441.00" x2="441.00" y1="522.60" y2="527.20" stroke="#222" stroke-width="1"/>
<text x="441.00" y="537.60" font-size="8.2" text-anchor="middle">2000</text>
<line x1="477.00" x2="477.00" y1="522.60" y2="527.20" stroke="#222" stroke-width="1"/>
<text x="477.00" y="537.60" font-size="8.2" text-anchor="middle">2010</text>
<line x1="513.00" x2="513.00" y1="522.60" y2="527.20" stroke="#222" stroke-width="1"/>
<text x="513.00" y="537.60" font-size="8.2" text-anchor="middle">2020</text>
<text transform="translate(270.90,456.80) rotate(-90)" font-size="8.3" text-anchor="middle">error [K]</text>
<text x="405.15" y="386.40" font-size="12.1" font-weight="bold" class="b" text-anchor="middle">MESCAN</text>
<rect x="160.45" y="560.25" width="82.80" height="131.60" fill="#cccccc"/>
<line x1="29.70" x2="255.20" y1="565.12" y2="565.12" stroke="#aaa" stroke-width="0.8" stroke-dasharray="1,1.45"/>
<line x1="29.70" x2="255.20" y1="583.87" y2="583.87" stroke="#aaa" stroke-width="0.8" stroke-dasharray="1,1.45"/>
<line x1="29.70" x2="255.20" y1="593.24" y2="593.24" stroke="#aaa" stroke-width="0.8" stroke-dasharray="1,1.45"/>
<line x1="29.70" x2="255.20" y1="597.93" y2="597.93" stroke="#aaa" stroke-width="0.8" stroke-dasharray="1,1.45"/>
<line x1="29.70" x2="255.20" y1="607.30" y2="607.30" stroke="#aaa" stroke-width="0.8" stroke-dasharray="1,1.45"/>
<line x1="29.70" x2="255.20" y1="611.99" y2="611.99" stroke="#aaa" stroke-width="0.8" stroke-dasharray="1,1.45"/>
<line x1="29.70" x2="255.20" y1="621.36" y2="621.36" stroke="#aaa" stroke-width="0.8" stroke-dasharray="1,1.45"/>
<line x1="29.70" x2="255.20" y1="640.11" y2="640.11" stroke="#aaa" stroke-width="0.8" stroke-dasharray="1,1.45"/>
<line x1="29.70" x2="255.20" y1="602.82" y2="602.82" stroke="#777" stroke-width="1.4"/>
<polyline points="160.60,614.00 160.90,598.61 161.20,600.78 161.50,592.64 161.80,595.37 162.10,603.46 162.40,601.07 162.70,602.31 163.00,590.95 163.30,606.39 163.60,605.84 163.90,605.29 164.20,606.62 164.50,607.00 164.80,603.58 165.10,603.62 165.40,597.39 165.70,607.71 166.00,600.35 166.30,608.65 166.60,604.45 166.90,592.69 167.20,599.54 167.50,603.13 167.80,610.81 168.10,599.24 168.40,600.76 168.70,596.93 169.00,593.05 169.30,591.09 169.60,599.56 169.90,610.97 170.20,596.11 170.50,603.02 170.80,605.75 171.10,606.66 171.40,598.51 171.70,610.59 172.00,601.46 172.30,604.71 172.60,601.95 172.90,608.06 173.20,602.50 173.50,612.00 173.80,597.85 174.10,603.19 174.40,606.05 174.70,589.90 175.00,603.06 175.30,601.43 175.60,600.26 175.90,600.79 176.20,610.85 176.50,603.32 176.80,605.46 177.10,610.64 177.40,599.44 177.70,604.07 178.00,598.48 178.30,599.40 178.60,601.63 178.90,600.05 179.20,589.97 179.50,596.58 179.80,597.94 180.10,597.39 180.40,593.05 180.70,597.71 181.00,599.41 181.30,596.81 181.60,599.87 181.90,598.26 182.20,596.64 182.50,597.49 182.80,594.42 183.10,597.16 183.40,608.18 183.70,593.56 184.00,604.72 184.30,599.25 184.60,587.81 184.90,595.58 185.20,599.88 185.50,612.95 185.80,599.47 186.10,608.36 186.40,610.19 186.70,599.07 187.00,606.37 187.30,604.17 187.60,603.66 187.90,603.39 188.20,606.27 188.50,603.12 188.80,601.52 189.10,605.32 189.40,602.91 189.70,607.19 190.00,611.56 190.30,602.44 190.60,600.49 190.90,589.90 191.20,606.96 191.50,597.92 191.80,602.07 192.10,606.23 192.40,601.49 192.70,605.41 193.00,602.46 193.30,602.26 193.60,603.21 193.90,607.71 194.20,602.87 194.50,601.74 194.80,604.40 195.10,606.68 195.40,601.25 195.70,594.51 196.00,599.37 196.30,604.16 196.60,606.43 196.90,594.31 197.20,597.24 197.50,603.84 197.80,597.74 198.10,605.80 198.40,606.60 198.70,603.66 199.00,607.57 199.30,603.53 199.60,601.90 199.90,607.09 200.20,614.00 200.50,605.91 200.80,607.65 201.10,599.60 201.40,603.65 201.70,597.67 202.00,603.65 202.30,601.85 202.60,605.66 202.90,600.60 203.20,606.81 203.50,595.14 203.80,598.93 204.10,594.37 204.40,599.05 204.70,598.06 205.00,593.47 205.30,599.28 205.60,595.67 205.90,591.54 206.20,599.12 206.50,601.01 206.80,605.36 207.10,602.92 207.40,596.44 207.70,588.86 208.00,602.66 208.30,602.27 208.60,611.46 208.90,606.19 209.20,605.44 209.50,603.80 209.80,610.93 210.10,605.85 210.40,602.52 210.70,615.05 211.00,612.93 211.30,602.29 211.60,606.54 211.90,610.92 212.20,607.62 212.50,604.81 212.80,601.43 213.10,602.67 213.40,600.92 213.70,604.30 214.00,595.96 214.30,611.63 214.60,604.84 214.90,605.59 215.20,605.20 215.50,603.34 215.80,611.49 216.10,603.84 216.40,608.49 216.70,604.50 217.00,598.83 217.30,603.27 217.60,603.39 217.90,593.51 218.20,590.95 218.50,599.67 218.80,598.77 219.10,604.37 219.40,601.44 219.70,602.30 220.00,605.73 220.30,610.85 220.60,599.58 220.90,611.27 221.20,602.96 221.50,601.36 221.80,602.57 222.10,603.61 222.40,604.53 222.70,602.61 223.00,603.10 223.30,605.40 223.60,602.67 223.90,608.75 224.20,604.58 224.50,606.66 224.80,605.39 225.10,609.89 225.40,608.00 225.70,603.06 226.00,610.05 226.30,603.15 226.60,606.22 226.90,607.32 227.20,603.43 227.50,597.24 227.80,604.86 228.10,603.98 228.40,606.34 228.70,606.80 229.00,601.75 229.30,604.07 229.60,592.00 229.90,602.68 230.20,599.28 230.50,603.53 230.80,591.53 231.10,604.22 231.40,611.32 231.70,608.76 232.00,601.73 232.30,602.31 232.60,597.95 232.90,601.79 233.20,595.22 233.50,598.76 233.80,604.56 234.10,597.20 234.40,607.63 234.70,600.17 235.00,598.47 235.30,605.35 235.60,580.48 235.90,605.18 236.20,596.07 236.50,603.10 236.80,601.38 237.10,600.13 237.40,613.87 237.70,594.37 238.00,604.15 238.30,609.88 238.60,598.99 238.90,619.24 239.20,604.16 239.50,605.83 239.80,604.38 240.10,607.25 240.40,602.92 240.70,605.43 241.00,603.79 241.30,603.31 241.60,605.15 241.90,603.68 242.20,601.43 242.50,603.97" fill="none" stroke="#ff0000" stroke-width="0.9" stroke-linejoin="miter" stroke-miterlimit="2"/><polyline points="161.50,601.67 161.80,602.01 162.10,602.27 162.40,602.59 162.70,602.37 163.00,602.71 163.30,602.94 163.60,603.29 163.90,604.03 164.20,603.93 164.50,604.50 164.80,604.64 165.10,603.61 165.40,603.09 165.70,602.84 166.00,603.11 166.30,602.60 166.60,602.18 166.90,601.74 167.20,601.58 167.50,601.12 167.80,600.63 168.10,601.18 168.40,600.28 168.70,600.04 169.00,600.84 169.30,601.10 169.60,600.96 169.90,601.06 170.20,601.29 170.50,601.62 170.80,602.02 171.10,602.51 171.40,603.32 171.70,604.21 172.00,603.54 172.30,603.86 172.60,603.95 172.90,603.59 173.20,603.64 173.50,603.77 173.80,603.11 174.10,603.05 174.40,602.59 174.70,602.67 175.00,602.52 175.30,603.03 175.60,602.28 175.90,602.69 176.20,602.44 176.50,601.93 176.80,601.86 177.10,601.59 177.40,600.81 177.70,600.52 178.00,600.29 178.30,600.24 178.60,599.73 178.90,599.19 179.20,598.43 179.50,598.18 179.80,597.82 180.10,597.69 180.40,597.40 180.70,597.23 181.00,596.95 181.30,597.45 181.60,598.20 181.90,597.94 182.20,598.36 182.50,598.49 182.80,598.60 183.10,598.22 183.40,598.24 183.70,598.43 184.00,598.77 184.30,599.72 184.60,600.71 184.90,601.18 185.20,601.93 185.50,601.87 185.80,602.70 186.10,602.86 186.40,603.57 186.70,603.94 187.00,604.09 187.30,604.23 187.60,604.17 187.90,604.53 188.20,604.64 188.50,604.12 188.80,604.19 189.10,604.55 189.40,604.69 189.70,604.29 190.00,604.15 190.30,604.07 190.60,603.89 190.90,604.06 191.20,603.99 191.50,604.05 191.80,603.89 192.10,603.26 192.40,603.35 192.70,603.47 193.00,603.00 193.30,603.02 193.60,603.27 193.90,602.87 194.20,602.52 194.50,602.77 194.80,602.93 195.10,602.51 195.40,602.51 195.70,602.46 196.00,602.24 196.30,602.37 196.60,602.63 196.90,602.55 197.20,602.59 197.50,602.72 197.80,603.18 198.10,603.69 198.40,603.61 198.70,603.64 199.00,604.54 199.30,604.32 199.60,604.13 199.90,603.96 200.20,603.69 200.50,603.27 200.80,603.28 201.10,602.76 201.40,602.89 201.70,602.99 202.00,602.37 202.30,601.73 202.60,601.11 202.90,600.29 203.20,599.64 203.50,599.21 203.80,599.35 204.10,598.82 204.40,598.84 204.70,598.70 205.00,599.10 205.30,598.94 205.60,598.46 205.90,598.95 206.20,599.48 206.50,599.69 206.80,600.50 207.10,601.26 207.40,601.59 207.70,602.11 208.00,603.50 208.30,604.09 208.60,604.35 208.90,604.92 209.20,605.69 209.50,606.23 209.80,606.44 210.10,607.19 210.40,607.78 210.70,607.68 211.00,606.96 211.30,606.59 211.60,606.25 211.90,605.71 212.20,605.01 212.50,605.52 212.80,605.04 213.10,604.57 213.40,604.74 213.70,604.55 214.00,604.59 214.30,604.38 214.60,604.64 214.90,605.17 215.20,604.86 215.50,604.91 215.80,604.77 216.10,604.55 216.40,603.72 216.70,603.34 217.00,602.88 217.30,602.78 217.60,602.60 217.90,601.95 218.20,601.95 218.50,601.18 218.80,600.72 219.10,601.30 219.40,601.40 219.70,601.43 220.00,602.11 220.30,602.48 220.60,602.86 220.90,603.15 221.20,603.11 221.50,603.38 221.80,603.43 222.10,603.64 222.40,604.06 222.70,604.45 223.00,604.10 223.30,604.54 223.60,605.00 223.90,605.09 224.20,605.54 224.50,605.50 224.80,605.79 225.10,606.14 225.40,606.14 225.70,606.51 226.00,606.47 226.30,606.66 226.60,606.74 226.90,606.55 227.20,605.81 227.50,605.37 227.80,604.83 228.10,604.24 228.40,603.91 228.70,603.67 229.00,602.61 229.30,602.55 229.60,602.75 229.90,602.43 230.20,602.11 230.50,601.67 230.80,601.07 231.10,601.20 231.40,600.76 231.70,600.95 232.00,601.13 232.30,601.03 232.60,601.30 232.90,601.83 233.20,601.47 233.50,601.07 233.80,600.96 234.10,601.10 234.40,600.64 234.70,600.85 235.00,600.85 235.30,601.32 235.60,602.39 235.90,601.89 236.20,602.42 236.50,602.66 236.80,602.68 237.10,603.08 237.40,603.12 237.70,603.53 238.00,603.62 238.30,604.25 238.60,604.20 238.90,604.42 239.20,604.63 239.50,603.98 239.80,604.66 240.10,604.66 240.40,604.47 240.70,604.82 241.00,604.97 241.30,605.02 241.60,604.89" fill="none" stroke="#000" stroke-width="1.15" stroke-linejoin="round" stroke-linecap="round"/>
<rect x="29.70" y="560.25" width="225.50" height="131.60" fill="none" stroke="#222" stroke-width="1.1"/>
<line x1="25.10" x2="29.70" y1="565.12" y2="565.12" stroke="#222" stroke-width="1"/>
<text x="22.80" y="568.02" font-size="8.2" text-anchor="end">2</text>
<line x1="25.10" x2="29.70" y1="583.87" y2="583.87" stroke="#222" stroke-width="1"/>
<text x="22.80" y="586.77" font-size="8.2" text-anchor="end">1</text>
<line x1="25.10" x2="29.70" y1="602.62" y2="602.62" stroke="#222" stroke-width="1"/>
<text x="22.80" y="605.52" font-size="8.2" text-anchor="end">0</text>
<line x1="25.10" x2="29.70" y1="621.36" y2="621.36" stroke="#222" stroke-width="1"/>
<text x="22.80" y="624.26" font-size="8.2" text-anchor="end">1</text>
<line x1="14.10" x2="17.90" y1="621.56" y2="621.56" stroke="#111" stroke-width="1"/>
<line x1="25.10" x2="29.70" y1="640.11" y2="640.11" stroke="#222" stroke-width="1"/>
<text x="22.80" y="643.01" font-size="8.2" text-anchor="end">2</text>
<line x1="14.10" x2="17.90" y1="640.31" y2="640.31" stroke="#111" stroke-width="1"/>
<line x1="25.10" x2="29.70" y1="658.86" y2="658.86" stroke="#222" stroke-width="1"/>
<text x="22.80" y="661.76" font-size="8.2" text-anchor="end">3</text>
<line x1="14.10" x2="17.90" y1="659.06" y2="659.06" stroke="#111" stroke-width="1"/>
<line x1="25.10" x2="29.70" y1="677.60" y2="677.60" stroke="#222" stroke-width="1"/>
<text x="22.80" y="680.50" font-size="8.2" text-anchor="end">4</text>
<line x1="14.10" x2="17.90" y1="677.80" y2="677.80" stroke="#111" stroke-width="1"/>
<line x1="34.75" x2="34.75" y1="691.85" y2="696.45" stroke="#222" stroke-width="1"/>
<text x="34.75" y="706.85" font-size="8.2" text-anchor="middle">1960</text>
<line x1="70.75" x2="70.75" y1="691.85" y2="696.45" stroke="#222" stroke-width="1"/>
<text x="70.75" y="706.85" font-size="8.2" text-anchor="middle">1970</text>
<line x1="106.75" x2="106.75" y1="691.85" y2="696.45" stroke="#222" stroke-width="1"/>
<text x="106.75" y="706.85" font-size="8.2" text-anchor="middle">1980</text>
<line x1="142.75" x2="142.75" y1="691.85" y2="696.45" stroke="#222" stroke-width="1"/>
<text x="142.75" y="706.85" font-size="8.2" text-anchor="middle">1990</text>
<line x1="178.75" x2="178.75" y1="691.85" y2="696.45" stroke="#222" stroke-width="1"/>
<text x="178.75" y="706.85" font-size="8.2" text-anchor="middle">2000</text>
<line x1="214.75" x2="214.75" y1="691.85" y2="696.45" stroke="#222" stroke-width="1"/>
<text x="214.75" y="706.85" font-size="8.2" text-anchor="middle">2010</text>
<line x1="250.75" x2="250.75" y1="691.85" y2="696.45" stroke="#222" stroke-width="1"/>
<text x="250.75" y="706.85" font-size="8.2" text-anchor="middle">2020</text>
<text transform="translate(8.20,626.05) rotate(-90)" font-size="8.3" text-anchor="middle">error [K]</text>
<text x="142.45" y="555.65" font-size="12.1" font-weight="bold" class="b" text-anchor="middle">REA6</text>
<rect x="423.15" y="560.25" width="82.80" height="131.60" fill="#cccccc"/>
<line x1="292.40" x2="517.90" y1="565.12" y2="565.12" stroke="#aaa" stroke-width="0.8" stroke-dasharray="1,1.45"/>
<line x1="292.40" x2="517.90" y1="583.87" y2="583.87" stroke="#aaa" stroke-width="0.8" stroke-dasharray="1,1.45"/>
<line x1="292.40" x2="517.90" y1="593.24" y2="593.24" stroke="#aaa" stroke-width="0.8" stroke-dasharray="1,1.45"/>
<line x1="292.40" x2="517.90" y1="597.93" y2="597.93" stroke="#aaa" stroke-width="0.8" stroke-dasharray="1,1.45"/>
<line x1="292.40" x2="517.90" y1="607.30" y2="607.30" stroke="#aaa" stroke-width="0.8" stroke-dasharray="1,1.45"/>
<line x1="292.40" x2="517.90" y1="611.99" y2="611.99" stroke="#aaa" stroke-width="0.8" stroke-dasharray="1,1.45"/>
<line x1="292.40" x2="517.90" y1="621.36" y2="621.36" stroke="#aaa" stroke-width="0.8" stroke-dasharray="1,1.45"/>
<line x1="292.40" x2="517.90" y1="640.11" y2="640.11" stroke="#aaa" stroke-width="0.8" stroke-dasharray="1,1.45"/>
<line x1="292.40" x2="517.90" y1="602.82" y2="602.82" stroke="#777" stroke-width="1.4"/>
<polyline points="423.30,598.03 423.60,592.43 423.90,602.66 424.20,606.42 424.50,606.87 424.80,610.85 425.10,611.31 425.40,609.60 425.70,611.01 426.00,600.44 426.30,602.94 426.60,599.27 426.90,600.09 427.20,603.67 427.50,603.43 427.80,602.15 428.10,605.40 428.40,606.92 428.70,606.35 429.00,608.99 429.30,612.79 429.60,604.68 429.90,612.95 430.20,608.17 430.50,603.01 430.80,607.33 431.10,605.61 431.40,606.57 431.70,601.22 432.00,604.31 432.30,612.14 432.60,604.43 432.90,602.52 433.20,596.76 433.50,603.86 433.80,603.07 434.10,621.33 434.40,601.39 434.70,601.75 435.00,607.82 435.30,600.81 435.60,601.48 435.90,597.56 436.20,608.49 436.50,599.52 436.80,602.52 437.10,590.95 437.40,596.05 437.70,595.98 438.00,600.11 438.30,602.12 438.60,595.75 438.90,592.74 439.20,604.02 439.50,603.46 439.80,605.66 440.10,600.82 440.40,596.16 440.70,607.11 441.00,599.76 441.30,606.66 441.60,599.21 441.90,600.13 442.20,597.50 442.50,596.51 442.80,598.94 443.10,598.84 443.40,598.28 443.70,595.68 444.00,598.29 444.30,597.07 444.60,587.81 444.90,602.79 445.20,598.58 445.50,599.14 445.80,598.86 446.10,601.87 446.40,600.64 446.70,604.44 447.00,602.47 447.30,609.60 447.60,602.02 447.90,603.50 448.20,621.96 448.50,603.93 448.80,598.41 449.10,598.57 449.40,602.48 449.70,599.80 450.00,604.99 450.30,600.40 450.60,602.77 450.90,600.60 451.20,603.17 451.50,601.62 451.80,597.24 452.10,606.54 452.40,594.50 452.70,602.41 453.00,602.53 453.30,605.34 453.60,607.89 453.90,598.92 454.20,602.01 454.50,600.33 454.80,605.98 455.10,603.33 455.40,602.74 455.70,603.63 456.00,603.19 456.30,602.72 456.60,599.62 456.90,607.17 457.20,608.24 457.50,606.32 457.80,596.68 458.10,614.00 458.40,611.60 458.70,608.61 459.00,599.75 459.30,602.81 459.60,598.69 459.90,601.55 460.20,599.46 460.50,604.56 460.80,598.91 461.10,602.65 461.40,605.02 461.70,597.02 462.00,603.50 462.30,597.24 462.60,597.52 462.90,600.78 463.20,595.89 463.50,598.88 463.80,601.41 464.10,603.77 464.40,599.59 464.70,598.09 465.00,605.62 465.30,599.87 465.60,600.61 465.90,602.26 466.20,604.65 466.50,596.19 466.80,598.31 467.10,601.75 467.40,595.49 467.70,602.18 468.00,604.69 468.30,603.39 468.60,600.14 468.90,605.15 469.20,601.51 469.50,598.53 469.80,616.09 470.10,603.35 470.40,602.20 470.70,599.59 471.00,602.14 471.30,599.23 471.60,604.36 471.90,599.46 472.20,600.74 472.50,603.05 472.80,592.00 473.10,600.49 473.40,605.04 473.70,603.15 474.00,606.97 474.30,603.26 474.60,611.91 474.90,596.38 475.20,603.52 475.50,607.56 475.80,600.01 476.10,603.03 476.40,601.71 476.70,612.43 477.00,608.76 477.30,611.65 477.60,602.44 477.90,601.69 478.20,612.38 478.50,600.96 478.80,606.20 479.10,605.07 479.40,608.26 479.70,605.38 480.00,604.77 480.30,594.09 480.60,606.01 480.90,606.29 481.20,606.72 481.50,610.15 481.80,603.54 482.10,605.86 482.40,603.83 482.70,595.57 483.00,605.30 483.30,602.47 483.60,605.72 483.90,601.56 484.20,603.00 484.50,614.00 484.80,603.90 485.10,607.63 485.40,604.85 485.70,610.78 486.00,613.42 486.30,607.38 486.60,603.79 486.90,603.84 487.20,605.30 487.50,601.08 487.80,607.81 488.10,605.47 488.40,602.90 488.70,600.10 489.00,602.29 489.30,603.57 489.60,600.86 489.90,610.74 490.20,606.42 490.50,601.78 490.80,615.05 491.10,601.85 491.40,597.32 491.70,599.27 492.00,600.82 492.30,596.59 492.60,600.93 492.90,595.91 493.20,604.20 493.50,595.76 493.80,589.90 494.10,602.12 494.40,600.18 494.70,604.06 495.00,598.94 495.30,598.28 495.60,599.97 495.90,604.46 496.20,596.57 496.50,600.12 496.80,604.01 497.10,606.15 497.40,603.55 497.70,602.14 498.00,614.00 498.30,603.66 498.60,606.09 498.90,599.77 499.20,597.69 499.50,603.92 499.80,594.37 500.10,603.91 500.40,600.83 500.70,605.96 501.00,604.32 501.30,606.48 501.60,604.43 501.90,615.05 502.20,608.92 502.50,605.58 502.80,607.29 503.10,602.91 503.40,600.97 503.70,607.75 504.00,599.70 504.30,608.27 504.60,600.35 504.90,597.82 505.20,581.52" fill="none" stroke="#ff0000" stroke-width="0.9" stroke-linejoin="miter" stroke-miterlimit="2"/><polyline points="424.20,603.74 424.50,603.74 424.80,603.51 425.10,603.38 425.40,603.77 425.70,604.49 426.00,604.49 426.30,604.48 426.60,604.54 426.90,604.61 427.20,604.55 427.50,604.85 427.80,604.57 428.10,604.84 428.40,605.09 428.70,605.26 429.00,605.66 429.30,605.75 429.60,605.92 429.90,605.86 430.20,605.78 430.50,606.11 430.80,606.00 431.10,605.61 431.40,604.65 431.70,604.63 432.00,604.49 432.30,604.05 432.60,603.88 432.90,603.48 433.20,603.56 433.50,603.16 433.80,603.14 434.10,602.70 434.40,602.44 434.70,602.11 435.00,602.08 435.30,602.21 435.60,601.70 435.90,601.24 436.20,601.08 436.50,601.09 436.80,600.70 437.10,599.74 437.40,599.91 437.70,600.00 438.00,600.47 438.30,599.96 438.60,599.73 438.90,599.98 439.20,599.98 439.50,600.13 439.80,600.32 440.10,600.31 440.40,600.01 440.70,599.99 441.00,600.31 441.30,599.94 441.60,599.57 441.90,598.90 442.20,598.69 442.50,598.66 442.80,597.91 443.10,597.94 443.40,597.73 443.70,597.49 444.00,597.25 444.30,597.82 444.60,598.33 444.90,598.88 445.20,599.28 445.50,600.09 445.80,600.55 446.10,600.90 446.40,601.75 446.70,602.21 447.00,602.14 447.30,602.38 447.60,602.86 447.90,603.23 448.20,603.77 448.50,604.14 448.80,604.35 449.10,603.91 449.40,603.23 449.70,602.98 450.00,602.55 450.30,602.15 450.60,601.46 450.90,601.62 451.20,601.76 451.50,601.82 451.80,602.18 452.10,601.83 452.40,602.04 452.70,601.97 453.00,602.38 453.30,602.44 453.60,602.55 453.90,602.82 454.20,602.63 454.50,603.16 454.80,603.02 455.10,603.35 455.40,603.59 455.70,603.56 456.00,603.51 456.30,603.73 456.60,604.33 456.90,604.42 457.20,604.13 457.50,604.09 457.80,603.74 458.10,603.61 458.40,603.39 458.70,603.67 459.00,603.12 459.30,602.74 459.60,602.62 459.90,602.59 460.20,602.37 460.50,601.79 460.80,601.13 461.10,601.21 461.40,600.80 461.70,600.81 462.00,600.81 462.30,601.07 462.60,600.76 462.90,600.70 463.20,600.87 463.50,600.53 463.80,600.74 464.10,600.64 464.40,600.77 464.70,601.19 465.00,601.07 465.30,601.45 465.60,601.26 465.90,601.32 466.20,601.39 466.50,601.63 466.80,601.76 467.10,601.74 467.40,601.84 467.70,601.72 468.00,601.36 468.30,601.28 468.60,601.16 468.90,601.25 469.20,601.28 469.50,601.53 469.80,601.67 470.10,601.36 470.40,601.21 470.70,601.40 471.00,601.29 471.30,601.24 471.60,601.64 471.90,602.06 472.20,602.29 472.50,602.35 472.80,603.11 473.10,602.77 473.40,603.06 473.70,603.28 474.00,603.34 474.30,603.50 474.60,603.43 474.90,604.01 475.20,604.30 475.50,604.72 475.80,604.69 476.10,604.38 476.40,604.96 476.70,604.30 477.00,604.92 477.30,605.03 477.60,605.09 477.90,605.43 478.20,605.55 478.50,605.45 478.80,605.07 479.10,605.17 479.40,604.88 479.70,605.37 480.00,605.51 480.30,605.14 480.60,605.35 480.90,604.73 481.20,604.79 481.50,604.41 481.80,604.41 482.10,604.19 482.40,604.38 482.70,604.24 483.00,604.09 483.30,604.15 483.60,603.82 483.90,604.27 484.20,604.74 484.50,604.98 484.80,605.50 485.10,605.43 485.40,605.63 485.70,605.31 486.00,605.66 486.30,605.78 486.60,605.68 486.90,605.42 487.20,605.07 487.50,604.98 487.80,604.35 488.10,604.19 488.40,604.14 488.70,604.04 489.00,604.22 489.30,604.06 489.60,603.90 489.90,603.24 490.20,602.82 490.50,602.32 490.80,602.27 491.10,601.79 491.40,601.75 491.70,601.38 492.00,600.66 492.30,600.31 492.60,600.08 492.90,599.80 493.20,599.43 493.50,599.26 493.80,599.04 494.10,599.51 494.40,599.72 494.70,599.85 495.00,600.50 495.30,600.73 495.60,601.30 495.90,601.49 496.20,601.28 496.50,601.56 496.80,601.76 497.10,601.85 497.40,601.82 497.70,602.07 498.00,601.47 498.30,601.94 498.60,602.00 498.90,602.13 499.20,602.02 499.50,602.20 499.80,602.33 500.10,602.81 500.40,603.24 500.70,603.32 501.00,603.91 501.30,604.41 501.60,604.47 501.90,605.57 502.20,605.65 502.50,606.50 502.80,605.99 503.10,605.11 503.40,604.08 503.70,603.44 504.00,602.74 504.30,601.80" fill="none" stroke="#000" stroke-width="1.15" stroke-linejoin="round" stroke-linecap="round"/>
<rect x="292.40" y="560.25" width="225.50" height="131.60" fill="none" stroke="#222" stroke-width="1.1"/>
<line x1="287.80" x2="292.40" y1="565.12" y2="565.12" stroke="#222" stroke-width="1"/>
<text x="285.50" y="568.02" font-size="8.2" text-anchor="end">2</text>
<line x1="287.80" x2="292.40" y1="583.87" y2="583.87" stroke="#222" stroke-width="1"/>
<text x="285.50" y="586.77" font-size="8.2" text-anchor="end">1</text>
<line x1="287.80" x2="292.40" y1="602.62" y2="602.62" stroke="#222" stroke-width="1"/>
<text x="285.50" y="605.52" font-size="8.2" text-anchor="end">0</text>
<line x1="287.80" x2="292.40" y1="621.36" y2="621.36" stroke="#222" stroke-width="1"/>
<text x="285.50" y="624.26" font-size="8.2" text-anchor="end">1</text>
<line x1="276.80" x2="280.60" y1="621.56" y2="621.56" stroke="#111" stroke-width="1"/>
<line x1="287.80" x2="292.40" y1="640.11" y2="640.11" stroke="#222" stroke-width="1"/>
<text x="285.50" y="643.01" font-size="8.2" text-anchor="end">2</text>
<line x1="276.80" x2="280.60" y1="640.31" y2="640.31" stroke="#111" stroke-width="1"/>
<line x1="287.80" x2="292.40" y1="658.86" y2="658.86" stroke="#222" stroke-width="1"/>
<text x="285.50" y="661.76" font-size="8.2" text-anchor="end">3</text>
<line x1="276.80" x2="280.60" y1="659.06" y2="659.06" stroke="#111" stroke-width="1"/>
<line x1="287.80" x2="292.40" y1="677.60" y2="677.60" stroke="#222" stroke-width="1"/>
<text x="285.50" y="680.50" font-size="8.2" text-anchor="end">4</text>
<line x1="276.80" x2="280.60" y1="677.80" y2="677.80" stroke="#111" stroke-width="1"/>
<line x1="297.00" x2="297.00" y1="691.85" y2="696.45" stroke="#222" stroke-width="1"/>
<text x="297.00" y="706.85" font-size="8.2" text-anchor="middle">1960</text>
<line x1="333.00" x2="333.00" y1="691.85" y2="696.45" stroke="#222" stroke-width="1"/>
<text x="333.00" y="706.85" font-size="8.2" text-anchor="middle">1970</text>
<line x1="369.00" x2="369.00" y1="691.85" y2="696.45" stroke="#222" stroke-width="1"/>
<text x="369.00" y="706.85" font-size="8.2" text-anchor="middle">1980</text>
<line x1="405.00" x2="405.00" y1="691.85" y2="696.45" stroke="#222" stroke-width="1"/>
<text x="405.00" y="706.85" font-size="8.2" text-anchor="middle">1990</text>
<line x1="441.00" x2="441.00" y1="691.85" y2="696.45" stroke="#222" stroke-width="1"/>
<text x="441.00" y="706.85" font-size="8.2" text-anchor="middle">2000</text>
<line x1="477.00" x2="477.00" y1="691.85" y2="696.45" stroke="#222" stroke-width="1"/>
<text x="477.00" y="706.85" font-size="8.2" text-anchor="middle">2010</text>
<line x1="513.00" x2="513.00" y1="691.85" y2="696.45" stroke="#222" stroke-width="1"/>
<text x="513.00" y="706.85" font-size="8.2" text-anchor="middle">2020</text>
<text transform="translate(270.90,626.05) rotate(-90)" font-size="8.3" text-anchor="middle">error [K]</text>
<text x="405.15" y="555.65" font-size="12.1" font-weight="bold" class="b" text-anchor="middle">REA6</text>
<rect x="160.45" y="729.50" width="82.80" height="131.60" fill="#cccccc"/>
<line x1="29.70" x2="255.20" y1="734.37" y2="734.37" stroke="#aaa" stroke-width="0.8" stroke-dasharray="1,1.45"/>
<line x1="29.70" x2="255.20" y1="753.12" y2="753.12" stroke="#aaa" stroke-width="0.8" stroke-dasharray="1,1.45"/>
<line x1="29.70" x2="255.20" y1="762.49" y2="762.49" stroke="#aaa" stroke-width="0.8" stroke-dasharray="1,1.45"/>
<line x1="29.70" x2="255.20" y1="767.18" y2="767.18" stroke="#aaa" stroke-width="0.8" stroke-dasharray="1,1.45"/>
<line x1="29.70" x2="255.20" y1="776.55" y2="776.55" stroke="#aaa" stroke-width="0.8" stroke-dasharray="1,1.45"/>
<line x1="29.70" x2="255.20" y1="781.24" y2="781.24" stroke="#aaa" stroke-width="0.8" stroke-dasharray="1,1.45"/>
<line x1="29.70" x2="255.20" y1="790.61" y2="790.61" stroke="#aaa" stroke-width="0.8" stroke-dasharray="1,1.45"/>
<line x1="29.70" x2="255.20" y1="809.36" y2="809.36" stroke="#aaa" stroke-width="0.8" stroke-dasharray="1,1.45"/>
<line x1="29.70" x2="255.20" y1="772.07" y2="772.07" stroke="#777" stroke-width="1.4"/>
<polyline points="39.28,766.56 39.58,767.72 39.88,770.76 40.18,764.24 40.48,766.41 40.78,764.20 41.08,769.07 41.38,760.95 41.68,769.85 41.98,769.92 42.28,763.67 42.58,765.96 42.88,768.65 43.18,768.38 43.48,765.08 43.78,764.51 44.08,768.23 44.38,767.41 44.68,760.95 44.98,764.48 45.28,767.65 45.58,765.48 45.88,766.71 46.18,767.65 46.48,765.84 46.78,764.17 47.08,771.00 47.38,767.05 47.68,767.82 47.98,768.35 48.28,768.87 48.58,767.20 48.88,768.96 49.18,767.37 49.48,766.98 49.78,767.60 50.08,770.24 50.38,762.63 50.68,764.07 50.98,767.34 51.28,769.83 51.58,765.40 51.88,773.52 52.18,769.36 52.48,769.53 52.78,771.34 53.08,766.37 53.38,769.32 53.68,766.01 53.98,765.95 54.28,767.64 54.58,771.80 54.88,766.13 55.18,762.00 55.48,769.31 55.78,765.82 56.08,769.16 56.38,769.97 56.68,768.95 56.98,768.92 57.28,765.06 57.58,767.41 57.88,769.14 58.18,765.51 58.48,766.61 58.78,767.24 59.08,766.70 59.38,768.04 59.68,766.25 59.98,766.69 60.28,763.94 60.58,771.99 60.88,765.04 61.18,771.78 61.48,762.00 61.78,770.76 62.08,766.91 62.38,763.87 62.68,767.15 62.98,766.85 63.28,766.67 63.58,767.09 63.88,766.89 64.18,766.00 64.48,767.58 64.78,764.86 65.08,769.58 65.38,766.76 65.68,767.11 65.98,761.43 66.28,764.14 66.58,761.28 66.88,765.15 67.18,766.98 67.48,762.48 67.78,773.52 68.08,763.98 68.38,767.95 68.68,760.95 68.98,765.66 69.28,766.39 69.58,767.80 69.88,762.25 70.18,768.89 70.48,768.84 70.78,772.26 71.08,768.07 71.38,769.92 71.68,768.13 71.98,761.72 72.28,767.60 72.58,768.27 72.88,769.65 73.18,764.60 73.48,767.77 73.78,767.05 74.08,768.91 74.38,766.47 74.68,762.22 74.98,768.89 75.28,769.81 75.58,760.19 75.88,769.60 76.18,765.20 76.48,767.87 76.78,768.19 77.08,765.94 77.38,764.81 77.68,761.85 77.98,762.68 78.28,762.00 78.58,761.79 78.88,766.68 79.18,766.47 79.48,762.04 79.78,766.68 80.08,760.96 80.38,765.00 80.68,765.92 80.98,770.45 81.28,766.76 81.58,767.28 81.88,763.84 82.18,767.42 82.48,762.00 82.78,768.89 83.08,766.63 83.38,764.09 83.68,766.85 83.98,765.38 84.28,768.09 84.58,766.89 84.88,772.82 85.18,766.95 85.48,764.20 85.78,766.31 86.08,766.45 86.38,769.70 86.68,766.23 86.98,767.89 87.28,767.63 87.58,766.12 87.88,764.71 88.18,770.18 88.48,765.52 88.78,766.18 89.08,766.19 89.38,765.68 89.68,764.09 89.98,766.76 90.28,769.13 90.58,772.48 90.88,769.49 91.18,770.09 91.48,773.36 91.78,770.21 92.08,768.33 92.38,767.49 92.68,766.88 92.98,762.40 93.28,768.97 93.58,772.09 93.88,765.21 94.18,770.99 94.48,769.76 94.78,762.16 95.08,769.57 95.38,766.92 95.68,768.71 95.98,769.34 96.28,766.92 96.58,765.81 96.88,768.25 97.18,768.10 97.48,767.61 97.78,768.13 98.08,767.38 98.38,771.50 98.68,764.67 98.98,770.50 99.28,763.11 99.58,770.21 99.88,763.26 100.18,770.64 100.48,772.05 100.78,769.28 101.08,768.40 101.38,769.73 101.68,766.48 101.98,769.93 102.28,768.96 102.58,770.19 102.88,770.69 103.18,768.60 103.48,774.13 103.78,766.90 104.08,767.76 104.38,767.90 104.68,769.89 104.98,770.28 105.28,770.50 105.58,768.54 105.88,775.33 106.18,773.01 106.48,771.00 106.78,769.94 107.08,776.91 107.38,766.30 107.68,771.23 107.98,773.77 108.28,772.08 108.58,770.97 108.88,772.61 109.18,768.95 109.48,776.66 109.78,775.37 110.08,771.41 110.38,770.51 110.68,771.20 110.98,771.54 111.28,776.48 111.58,771.56 111.88,771.92 112.18,773.91 112.48,773.10 112.78,778.05 113.08,772.67 113.38,769.63 113.68,772.27 113.98,776.84 114.28,772.08 114.58,772.15 114.88,768.83 115.18,773.55 115.48,766.06 115.78,768.89 116.08,770.69 116.38,769.87 116.68,768.40 116.98,768.02 117.28,771.20 117.58,772.60 117.88,772.39 118.18,768.12 118.48,766.50 118.78,775.14 119.08,772.62 119.38,772.86 119.68,766.71 119.98,767.59 120.28,772.23 120.58,771.34 120.88,772.80 121.18,771.49 121.48,775.71 121.78,771.46 122.08,772.87 122.38,770.41 122.68,776.92 122.98,773.47 123.28,772.02 123.58,771.14 123.88,771.02 124.18,776.66 124.48,774.36 124.78,769.28 125.08,770.27 125.38,770.52 125.68,770.83 125.98,770.85 126.28,771.36 126.58,775.15 126.88,771.29 127.18,771.42 127.48,771.62 127.78,773.76 128.08,771.37 128.38,771.85 128.68,771.58 128.98,775.28 129.28,771.19 129.58,776.22 129.88,773.65 130.18,774.17 130.48,771.85 130.78,772.29 131.08,770.53 131.38,771.37 131.68,771.85 131.98,772.66 132.28,773.59 132.58,776.66 132.88,771.83 133.18,771.27 133.48,773.71 133.78,772.28 134.08,770.49 134.38,771.79 134.68,768.02 134.98,769.89 135.28,771.05 135.58,772.47 135.88,769.18 136.18,769.78 136.48,770.13 136.78,768.39 137.08,771.87 137.38,769.97 137.68,770.50 137.98,769.67 138.28,772.36 138.58,771.43 138.88,769.26 139.18,767.79 139.48,768.71 139.78,769.88 140.08,770.32 140.38,766.70 140.68,769.91 140.98,774.08 141.28,770.16 141.58,772.21 141.88,768.67 142.18,770.22 142.48,767.46 142.78,769.35 143.08,770.22 143.38,772.66 143.68,768.36 143.98,769.29 144.28,769.44 144.58,770.69 144.88,768.77 145.18,771.82 145.48,769.50 145.78,768.67 146.08,770.84 146.38,769.72 146.68,769.77 146.98,769.96 147.28,771.78 147.58,769.58 147.88,769.84 148.18,770.56 148.48,770.79 148.78,770.22 149.08,769.65 149.38,768.99 149.68,770.02 149.98,770.72 150.28,770.91 150.58,768.03 150.88,767.73 151.18,769.60 151.48,770.02 151.78,768.12 152.08,769.28 152.38,767.34 152.68,771.74 152.98,770.20 153.28,769.38 153.58,774.38 153.88,773.04 154.18,769.66 154.48,769.03 154.78,771.50 155.08,769.94 155.38,770.43 155.68,768.65 155.98,770.59 156.28,770.76 156.58,770.99 156.88,768.64 157.18,769.24 157.48,766.54 157.78,771.44 158.08,770.31 158.38,770.77 158.68,769.87 158.98,770.09 159.28,771.19 159.58,771.31 159.88,774.99 160.18,769.73 160.48,771.19 160.78,773.25 161.08,767.63 161.38,770.92 161.68,770.24 161.98,771.86 162.28,772.91 162.58,770.33 162.88,769.93 163.18,771.08 163.48,771.68 163.78,771.63 164.08,770.64 164.38,772.06 164.68,769.63 164.98,772.18 165.28,770.58 165.58,766.32 165.88,769.71 166.18,771.22 166.48,773.61 166.78,769.58 167.08,770.42 167.38,769.93 167.68,774.30 167.98,771.14 168.28,770.29 168.58,770.11 168.88,768.52 169.18,770.88 169.48,770.38 169.78,770.83 170.08,770.12 170.38,774.11 170.68,770.41 170.98,768.92 171.28,768.88 171.58,768.52 171.88,767.32 172.18,773.81 172.48,769.30 172.78,770.42 173.08,768.58 173.38,772.57 173.68,768.04 173.98,772.33 174.28,768.97 174.58,767.47 174.88,769.23 175.18,765.27 175.48,769.52 175.78,771.23 176.08,765.48 176.38,770.93 176.68,772.85 176.98,770.41 177.28,769.82 177.58,771.94 177.88,771.17 178.18,768.11 178.48,773.41 178.78,770.96 179.08,769.01 179.38,768.75 179.68,769.02 179.98,770.71 180.28,769.14 180.58,771.25 180.88,770.84 181.18,771.09 181.48,769.34 181.78,770.39 182.08,770.89 182.38,770.56 182.68,770.76 182.98,773.14 183.28,772.08 183.58,770.84 183.88,766.93 184.18,771.21 184.48,771.87 184.78,771.25 185.08,771.51 185.38,771.80 185.68,771.36 185.98,772.57 186.28,772.22 186.58,771.78 186.88,770.40 187.18,770.51 187.48,771.50 187.78,773.39 188.08,771.66 188.38,770.87 188.68,770.03 188.98,774.26 189.28,771.20 189.58,772.13 189.88,770.80 190.18,772.46 190.48,771.93 190.78,772.09 191.08,772.45 191.38,770.45 191.68,772.35 191.98,771.09 192.28,773.39 192.58,772.80 192.88,769.17 193.18,771.10 193.48,771.61 193.78,770.86 194.08,771.28 194.38,770.35 194.68,769.84 194.98,769.94 195.28,771.31 195.58,770.60 195.88,770.58 196.18,773.83 196.48,773.65 196.78,772.95 197.08,773.06 197.38,769.93 197.68,773.66 197.98,772.54 198.28,772.02 198.58,770.29 198.88,768.90 199.18,772.07 199.48,769.02 199.78,771.74 200.08,772.24 200.38,772.28 200.68,773.47 200.98,772.40 201.28,773.26 201.58,771.31 201.88,771.67 202.18,771.24 202.48,772.72 202.78,772.30 203.08,772.45 203.38,772.90 203.68,772.14 203.98,772.45 204.28,771.82 204.58,771.53 204.88,773.62 205.18,772.41 205.48,771.49 205.78,774.02 206.08,769.17 206.38,772.96 206.68,769.64 206.98,772.47 207.28,772.61 207.58,769.83 207.88,774.01 208.18,772.06 208.48,772.96 208.78,769.49 209.08,773.62 209.38,777.34 209.68,772.89 209.98,773.15 210.28,774.16 210.58,772.91 210.88,775.96 211.18,773.72 211.48,770.68 211.78,772.87 212.08,773.58 212.38,772.00 212.68,775.38 212.98,772.47 213.28,776.11 213.58,771.67 213.88,772.99 214.18,773.34 214.48,774.55 214.78,776.52 215.08,773.00 215.38,771.89 215.68,771.72 215.98,776.00 216.28,774.45 216.58,773.48 216.88,775.22 217.18,771.11 217.48,771.63 217.78,769.51 218.08,772.16 218.38,772.48 218.68,769.71 218.98,773.15 219.28,771.18 219.58,771.23 219.88,772.97 220.18,773.15 220.48,772.92 220.78,772.68 221.08,769.43 221.38,772.41 221.68,770.36 221.98,770.34 222.28,771.93 222.58,772.01 222.88,772.19 223.18,772.55 223.48,770.45 223.78,770.56 224.08,773.78 224.38,771.79 224.68,771.91 224.98,770.93 225.28,769.45 225.58,769.78 225.88,769.80 226.18,774.52 226.48,772.80 226.78,771.31 227.08,772.95 227.38,770.05 227.68,772.57 227.98,770.79 228.28,771.20 228.58,771.62 228.88,772.13 229.18,772.50 229.48,772.14 229.78,772.56 230.08,772.48 230.38,772.31 230.68,771.59 230.98,775.25 231.28,776.28 231.58,770.95 231.88,774.00 232.18,775.41 232.48,771.51 232.78,774.07 233.08,775.39 233.38,773.07 233.68,773.60 233.98,773.86 234.28,771.63 234.58,771.13 234.88,770.37 235.18,771.38 235.48,774.43 235.78,772.04 236.08,773.84 236.38,769.80 236.68,771.92 236.98,774.07 237.28,773.53 237.58,769.45 237.88,773.48 238.18,774.33 238.48,775.22 238.78,774.39 239.08,769.74 239.38,772.81 239.68,775.84 239.98,771.67 240.28,774.05 240.58,774.91 240.88,774.20 241.18,775.34 241.48,775.18 241.78,774.66" fill="none" stroke="#8c8c8c" stroke-width="0.9" stroke-linejoin="miter" stroke-miterlimit="2"/><polyline points="40.18,767.56 40.48,767.25 40.78,767.14 41.08,767.21 41.38,767.31 41.68,767.13 41.98,766.73 42.28,766.95 42.58,766.99 42.88,767.22 43.18,766.95 43.48,766.97 43.78,766.71 44.08,766.52 44.38,766.77 44.68,766.76 44.98,766.48 45.28,766.63 45.58,766.74 45.88,766.91 46.18,766.88 46.48,766.92 46.78,766.85 47.08,767.21 47.38,767.27 47.68,767.43 47.98,767.54 48.28,767.75 48.58,767.59 48.88,767.61 49.18,767.42 49.48,767.64 49.78,767.54 50.08,767.82 50.38,767.94 50.68,768.18 50.98,768.41 51.28,768.26 51.58,768.33 51.88,768.17 52.18,767.86 52.48,768.13 52.78,768.58 53.08,768.49 53.38,768.65 53.68,768.88 53.98,768.49 54.28,768.47 54.58,768.49 54.88,768.34 55.18,768.49 55.48,768.23 55.78,768.30 56.08,768.49 56.38,768.35 56.68,768.02 56.98,768.08 57.28,767.70 57.58,767.61 57.88,767.62 58.18,767.46 58.48,767.08 58.78,767.26 59.08,767.02 59.38,767.43 59.68,767.38 59.98,767.47 60.28,767.56 60.58,767.38 60.88,767.37 61.18,767.38 61.48,767.30 61.78,767.35 62.08,767.37 62.38,767.51 62.68,767.22 62.98,767.18 63.28,767.01 63.58,767.00 63.88,766.75 64.18,766.40 64.48,766.40 64.78,766.02 65.08,765.89 65.38,765.88 65.68,765.54 65.98,765.19 66.28,764.99 66.58,764.92 66.88,765.36 67.18,765.22 67.48,765.28 67.78,765.40 68.08,765.51 68.38,765.85 68.68,766.35 68.98,766.82 69.28,766.93 69.58,767.45 69.88,767.89 70.18,767.85 70.48,767.94 70.78,767.91 71.08,768.08 71.38,767.84 71.68,767.73 71.98,767.94 72.28,767.87 72.58,767.67 72.88,767.02 73.18,767.04 73.48,766.99 73.78,766.46 74.08,766.89 74.38,766.67 74.68,766.58 74.98,766.40 75.28,766.51 75.58,766.38 75.88,766.10 76.18,765.74 76.48,765.77 76.78,765.75 77.08,765.62 77.38,765.41 77.68,765.52 77.98,765.34 78.28,765.07 78.58,764.88 78.88,764.73 79.18,764.99 79.48,765.13 79.78,765.48 80.08,765.58 80.38,765.65 80.68,765.94 80.98,766.09 81.28,766.11 81.58,766.24 81.88,766.27 82.18,766.55 82.48,766.76 82.78,766.84 83.08,767.01 83.38,767.04 83.68,766.84 83.98,766.98 84.28,766.91 84.58,767.11 84.88,766.94 85.18,767.01 85.48,767.23 85.78,767.19 86.08,767.14 86.38,767.26 86.68,767.17 86.98,766.74 87.28,766.67 87.58,766.73 87.88,766.63 88.18,766.69 88.48,766.69 88.78,767.10 89.08,767.23 89.38,767.40 89.68,767.86 89.98,768.21 90.28,768.12 90.58,768.26 90.88,768.32 91.18,768.12 91.48,768.35 91.78,768.87 92.08,768.77 92.38,768.88 92.68,768.70 92.98,768.25 93.28,768.22 93.58,767.82 93.88,767.74 94.18,767.81 94.48,767.77 94.78,767.71 95.08,768.07 95.38,768.01 95.68,767.73 95.98,767.89 96.28,767.70 96.58,767.84 96.88,768.02 97.18,768.10 97.48,767.88 97.78,767.99 98.08,767.63 98.38,767.88 98.68,768.28 98.98,768.36 99.28,768.40 99.58,768.55 99.88,768.48 100.18,768.66 100.48,768.50 100.78,768.84 101.08,768.85 101.38,769.19 101.68,769.44 101.98,769.67 102.28,769.50 102.58,769.26 102.88,769.30 103.18,769.42 103.48,769.46 103.78,769.58 104.08,769.91 104.38,770.14 104.68,770.24 104.98,770.23 105.28,770.78 105.58,770.33 105.88,770.62 106.18,771.02 106.48,771.30 106.78,771.38 107.08,771.54 107.38,771.46 107.68,771.89 107.98,771.90 108.28,771.81 108.58,771.79 108.88,771.91 109.18,771.64 109.48,772.33 109.78,772.43 110.08,772.41 110.38,772.62 110.68,772.84 110.98,773.09 111.28,773.24 111.58,772.83 111.88,772.59 112.18,772.89 112.48,772.96 112.78,773.01 113.08,772.83 113.38,772.64 113.68,772.29 113.98,772.09 114.28,771.88 114.58,771.67 114.88,771.06 115.18,770.76 115.48,770.85 115.78,770.86 116.08,770.57 116.38,770.31 116.68,769.94 116.98,770.29 117.28,770.20 117.58,770.57 117.88,770.38 118.18,770.21 118.48,770.40 118.78,770.63 119.08,770.96 119.38,771.01 119.68,771.22 119.98,771.18 120.28,771.48 120.58,771.74 120.88,771.87 121.18,771.95 121.48,771.93 121.78,772.24 122.08,772.49 122.38,772.45 122.68,772.60 122.98,772.36 123.28,772.26 123.58,771.92 123.88,771.87 124.18,771.74 124.48,771.79 124.78,771.67 125.08,771.52 125.38,771.46 125.68,771.46 125.98,771.59 126.28,771.52 126.58,771.39 126.88,771.58 127.18,771.93 127.48,772.01 127.78,772.37 128.08,772.57 128.38,772.76 128.68,772.57 128.98,772.65 129.28,772.63 129.58,772.66 129.88,772.59 130.18,772.74 130.48,772.91 130.78,772.98 131.08,772.70 131.38,772.64 131.68,772.44 131.98,772.32 132.28,772.06 132.58,772.03 132.88,771.75 133.18,771.70 133.48,771.66 133.78,771.68 134.08,771.45 134.38,771.20 134.68,770.99 134.98,770.76 135.28,770.78 135.58,770.53 135.88,770.40 136.18,770.33 136.48,770.35 136.78,770.54 137.08,770.49 137.38,770.27 137.68,770.02 137.98,770.04 138.28,770.06 138.58,769.82 138.88,769.87 139.18,769.97 139.48,769.92 139.78,769.97 140.08,769.87 140.38,769.80 140.68,769.60 140.98,769.65 141.28,769.83 141.58,770.10 141.88,770.02 142.18,769.97 142.48,770.15 142.78,770.21 143.08,769.89 143.38,770.00 143.68,769.85 143.98,769.86 144.28,769.91 144.58,770.05 144.88,770.09 145.18,770.09 145.48,770.05 145.78,770.15 146.08,770.21 146.38,770.31 146.68,770.35 146.98,770.45 147.28,770.28 147.58,770.22 147.88,770.28 148.18,770.26 148.48,770.31 148.78,770.20 149.08,770.05 149.38,769.91 149.68,769.94 149.98,769.82 150.28,769.74 150.58,769.52 150.88,769.61 151.18,769.64 151.48,769.65 151.78,769.92 152.08,770.05 152.38,769.96 152.68,770.01 152.98,770.22 153.28,770.22 153.58,770.22 153.88,770.25 154.18,770.36 154.48,770.59 154.78,770.57 155.08,770.48 155.38,770.49 155.68,770.01 155.98,769.92 156.28,769.97 156.58,770.08 156.88,769.99 157.18,770.00 157.48,770.05 157.78,770.22 158.08,770.50 158.38,770.44 158.68,770.46 158.98,770.75 159.28,770.66 159.58,770.95 159.88,770.89 160.18,771.01 160.48,771.16 160.78,771.18 161.08,771.15 161.38,771.13 161.68,771.14 161.98,770.92 162.28,770.97 162.58,771.02 162.88,770.79 163.18,771.07 163.48,771.04 163.78,770.80 164.08,770.66 164.38,770.55 164.68,770.75 164.98,770.72 165.28,770.68 165.58,770.57 165.88,770.73 166.18,770.76 166.48,770.65 166.78,770.68 167.08,770.46 167.38,770.49 167.68,770.72 167.98,770.77 168.28,770.68 168.58,770.70 168.88,770.74 169.18,770.63 169.48,770.56 169.78,770.19 170.08,769.95 170.38,770.15 170.68,770.09 170.98,770.20 171.28,770.05 171.58,770.17 171.88,769.99 172.18,770.12 172.48,769.79 172.78,769.59 173.08,769.59 173.38,769.33 173.68,769.36 173.98,769.55 174.28,768.98 174.58,769.14 174.88,769.34 175.18,769.50 175.48,769.36 175.78,769.63 176.08,769.58 176.38,769.54 176.68,769.92 176.98,770.04 177.28,770.29 177.58,770.26 177.88,770.13 178.18,770.47 178.48,770.37 178.78,770.29 179.08,770.33 179.38,770.42 179.68,770.28 179.98,770.25 180.28,770.44 180.58,770.29 180.88,770.31 181.18,770.58 181.48,770.78 181.78,770.89 182.08,770.65 182.38,770.78 182.68,770.82 182.98,770.85 183.28,770.88 183.58,771.04 183.88,771.10 184.18,771.21 184.48,771.32 184.78,771.39 185.08,771.22 185.38,771.13 185.68,771.18 185.98,771.58 186.28,771.62 186.58,771.56 186.88,771.49 187.18,771.67 187.48,771.64 187.78,771.70 188.08,771.60 188.38,771.61 188.68,771.62 188.98,771.73 189.28,771.85 189.58,771.79 189.88,771.73 190.18,771.70 190.48,771.86 190.78,772.03 191.08,771.72 191.38,771.72 191.68,771.69 191.98,771.70 192.28,771.63 192.58,771.54 192.88,771.40 193.18,771.26 193.48,771.32 193.78,771.22 194.08,771.20 194.38,771.25 194.68,771.32 194.98,771.56 195.28,771.65 195.58,771.53 195.88,771.69 196.18,771.75 196.48,771.84 196.78,771.86 197.08,771.79 197.38,771.83 197.68,771.73 197.98,771.79 198.28,771.67 198.58,771.56 198.88,771.57 199.18,771.49 199.48,771.67 199.78,771.57 200.08,771.55 200.38,771.54 200.68,771.72 200.98,771.95 201.28,771.99 201.58,772.24 201.88,772.28 202.18,772.30 202.48,772.29 202.78,772.18 203.08,772.27 203.38,772.23 203.68,772.26 203.98,772.42 204.28,772.30 204.58,772.32 204.88,772.16 205.18,772.17 205.48,772.16 205.78,772.02 206.08,772.13 206.38,772.15 206.68,772.25 206.98,772.01 207.28,772.09 207.58,772.47 207.88,772.42 208.18,772.69 208.48,772.78 208.78,772.98 209.08,773.18 209.38,773.24 209.68,773.28 209.98,773.21 210.28,773.29 210.58,773.23 210.88,773.60 211.18,773.53 211.48,773.45 211.78,773.38 212.08,773.39 212.38,773.35 212.68,773.47 212.98,773.53 213.28,773.48 213.58,773.52 213.88,773.41 214.18,773.53 214.48,773.65 214.78,773.51 215.08,773.67 215.38,773.34 215.68,773.33 215.98,773.10 216.28,773.00 216.58,772.85 216.88,772.40 217.18,772.38 217.48,772.29 217.78,772.24 218.08,772.08 218.38,772.02 218.68,772.00 218.98,771.86 219.28,771.76 219.58,771.82 219.88,771.87 220.18,771.76 220.48,771.72 220.78,771.86 221.08,771.80 221.38,771.89 221.68,771.84 221.98,771.69 222.28,771.73 222.58,771.66 222.88,771.61 223.18,771.71 223.48,771.53 223.78,771.50 224.08,771.48 224.38,771.65 224.68,771.70 224.98,771.62 225.28,771.63 225.58,771.60 225.88,771.71 226.18,771.52 226.48,771.47 226.78,771.45 227.08,771.52 227.38,771.70 227.68,771.83 227.98,771.98 228.28,771.83 228.58,771.77 228.88,771.74 229.18,771.85 229.48,772.29 229.78,772.24 230.08,772.47 230.38,772.77 230.68,772.79 230.98,772.93 231.28,773.12 231.58,773.19 231.88,773.27 232.18,773.37 232.48,773.34 232.78,773.33 233.08,773.04 233.38,772.76 233.68,772.99 233.98,772.88 234.28,772.80 234.58,772.71 234.88,772.59 235.18,772.53 235.48,772.57 235.78,772.33 236.08,772.32 236.38,772.50 236.68,772.77 236.98,773.04 237.28,772.96 237.58,772.88 237.88,773.14 238.18,773.03 238.48,773.30 238.78,773.48 239.08,773.49 239.38,773.60 239.68,773.95 239.98,774.03 240.28,774.03 240.58,773.97 240.88,773.95" fill="none" stroke="#000" stroke-width="1.15" stroke-linejoin="round" stroke-linecap="round"/>
<rect x="29.70" y="729.50" width="225.50" height="131.60" fill="none" stroke="#222" stroke-width="1.1"/>
<line x1="25.10" x2="29.70" y1="734.37" y2="734.37" stroke="#222" stroke-width="1"/>
<text x="22.80" y="737.27" font-size="8.2" text-anchor="end">2</text>
<line x1="25.10" x2="29.70" y1="753.12" y2="753.12" stroke="#222" stroke-width="1"/>
<text x="22.80" y="756.02" font-size="8.2" text-anchor="end">1</text>
<line x1="25.10" x2="29.70" y1="771.87" y2="771.87" stroke="#222" stroke-width="1"/>
<text x="22.80" y="774.77" font-size="8.2" text-anchor="end">0</text>
<line x1="25.10" x2="29.70" y1="790.61" y2="790.61" stroke="#222" stroke-width="1"/>
<text x="22.80" y="793.51" font-size="8.2" text-anchor="end">1</text>
<line x1="14.10" x2="17.90" y1="790.81" y2="790.81" stroke="#111" stroke-width="1"/>
<line x1="25.10" x2="29.70" y1="809.36" y2="809.36" stroke="#222" stroke-width="1"/>
<text x="22.80" y="812.26" font-size="8.2" text-anchor="end">2</text>
<line x1="14.10" x2="17.90" y1="809.56" y2="809.56" stroke="#111" stroke-width="1"/>
<line x1="25.10" x2="29.70" y1="828.11" y2="828.11" stroke="#222" stroke-width="1"/>
<text x="22.80" y="831.01" font-size="8.2" text-anchor="end">3</text>
<line x1="14.10" x2="17.90" y1="828.31" y2="828.31" stroke="#111" stroke-width="1"/>
<line x1="25.10" x2="29.70" y1="846.85" y2="846.85" stroke="#222" stroke-width="1"/>
<text x="22.80" y="849.75" font-size="8.2" text-anchor="end">4</text>
<line x1="14.10" x2="17.90" y1="847.05" y2="847.05" stroke="#111" stroke-width="1"/>
<line x1="34.75" x2="34.75" y1="861.10" y2="865.70" stroke="#222" stroke-width="1"/>
<text x="34.75" y="876.10" font-size="8.2" text-anchor="middle">1960</text>
<line x1="70.75" x2="70.75" y1="861.10" y2="865.70" stroke="#222" stroke-width="1"/>
<text x="70.75" y="876.10" font-size="8.2" text-anchor="middle">1970</text>
<line x1="106.75" x2="106.75" y1="861.10" y2="865.70" stroke="#222" stroke-width="1"/>
<text x="106.75" y="876.10" font-size="8.2" text-anchor="middle">1980</text>
<line x1="142.75" x2="142.75" y1="861.10" y2="865.70" stroke="#222" stroke-width="1"/>
<text x="142.75" y="876.10" font-size="8.2" text-anchor="middle">1990</text>
<line x1="178.75" x2="178.75" y1="861.10" y2="865.70" stroke="#222" stroke-width="1"/>
<text x="178.75" y="876.10" font-size="8.2" text-anchor="middle">2000</text>
<line x1="214.75" x2="214.75" y1="861.10" y2="865.70" stroke="#222" stroke-width="1"/>
<text x="214.75" y="876.10" font-size="8.2" text-anchor="middle">2010</text>
<line x1="250.75" x2="250.75" y1="861.10" y2="865.70" stroke="#222" stroke-width="1"/>
<text x="250.75" y="876.10" font-size="8.2" text-anchor="middle">2020</text>
<text transform="translate(8.20,795.30) rotate(-90)" font-size="8.3" text-anchor="middle">error [K]</text>
<text x="142.45" y="724.90" font-size="12.1" font-weight="bold" class="b" text-anchor="middle">E−OBS</text>
<rect x="423.15" y="729.50" width="82.80" height="131.60" fill="#cccccc"/>
<line x1="292.40" x2="517.90" y1="734.37" y2="734.37" stroke="#aaa" stroke-width="0.8" stroke-dasharray="1,1.45"/>
<line x1="292.40" x2="517.90" y1="753.12" y2="753.12" stroke="#aaa" stroke-width="0.8" stroke-dasharray="1,1.45"/>
<line x1="292.40" x2="517.90" y1="762.49" y2="762.49" stroke="#aaa" stroke-width="0.8" stroke-dasharray="1,1.45"/>
<line x1="292.40" x2="517.90" y1="767.18" y2="767.18" stroke="#aaa" stroke-width="0.8" stroke-dasharray="1,1.45"/>
<line x1="292.40" x2="517.90" y1="776.55" y2="776.55" stroke="#aaa" stroke-width="0.8" stroke-dasharray="1,1.45"/>
<line x1="292.40" x2="517.90" y1="781.24" y2="781.24" stroke="#aaa" stroke-width="0.8" stroke-dasharray="1,1.45"/>
<line x1="292.40" x2="517.90" y1="790.61" y2="790.61" stroke="#aaa" stroke-width="0.8" stroke-dasharray="1,1.45"/>
<line x1="292.40" x2="517.90" y1="809.36" y2="809.36" stroke="#aaa" stroke-width="0.8" stroke-dasharray="1,1.45"/>
<line x1="292.40" x2="517.90" y1="772.07" y2="772.07" stroke="#777" stroke-width="1.4"/>
<polyline points="301.98,765.93 302.28,764.70 302.58,765.20 302.88,763.71 303.18,761.12 303.48,758.49 303.78,765.98 304.08,763.44 304.38,764.48 304.68,761.12 304.98,758.33 305.28,766.90 305.58,769.23 305.88,766.99 306.18,763.15 306.48,766.64 306.78,763.82 307.08,763.38 307.38,762.64 307.68,757.81 307.98,762.37 308.28,758.17 308.58,764.39 308.88,764.49 309.18,761.84 309.48,764.60 309.78,762.93 310.08,761.75 310.38,758.31 310.68,764.11 310.98,765.03 311.28,770.02 311.58,763.44 311.88,769.36 312.18,764.71 312.48,772.69 312.78,764.07 313.08,764.95 313.38,766.55 313.68,769.75 313.98,760.81 314.28,764.83 314.58,769.01 314.88,771.13 315.18,766.67 315.48,767.69 315.78,765.20 316.08,766.67 316.38,761.29 316.68,768.18 316.98,766.95 317.28,766.41 317.58,764.30 317.88,766.08 318.18,764.51 318.48,761.17 318.78,769.60 319.08,766.01 319.38,765.54 319.68,761.24 319.98,760.53 320.28,761.83 320.58,765.98 320.88,766.24 321.18,764.44 321.48,764.84 321.78,759.04 322.08,768.68 322.38,764.83 322.68,765.32 322.98,764.78 323.28,764.72 323.58,760.79 323.88,762.27 324.18,761.65 324.48,763.92 324.78,767.90 325.08,766.60 325.38,767.82 325.68,765.95 325.98,765.76 326.28,764.09 326.58,766.34 326.88,762.69 327.18,764.78 327.48,763.46 327.78,763.16 328.08,766.76 328.38,760.88 328.68,764.69 328.98,765.95 329.28,765.73 329.58,766.35 329.88,766.91 330.18,767.00 330.48,767.24 330.78,767.30 331.08,762.45 331.38,768.52 331.68,760.51 331.98,768.18 332.28,769.94 332.58,768.55 332.88,768.68 333.18,763.32 333.48,772.46 333.78,763.71 334.08,772.28 334.38,766.72 334.68,763.00 334.98,766.55 335.28,765.67 335.58,765.74 335.88,766.54 336.18,764.05 336.48,765.17 336.78,765.51 337.08,769.46 337.38,766.12 337.68,765.20 337.98,767.69 338.28,765.90 338.58,762.63 338.88,765.66 339.18,765.12 339.48,766.59 339.78,765.57 340.08,770.44 340.38,758.95 340.68,766.11 340.98,767.22 341.28,763.46 341.58,763.66 341.88,767.37 342.18,764.45 342.48,765.01 342.78,764.27 343.08,764.40 343.38,772.47 343.68,765.38 343.98,765.20 344.28,764.01 344.58,765.03 344.88,760.77 345.18,765.05 345.48,764.06 345.78,760.55 346.08,766.81 346.38,763.74 346.68,765.42 346.98,764.95 347.28,764.93 347.58,766.06 347.88,770.30 348.18,763.60 348.48,757.81 348.78,764.10 349.08,763.68 349.38,761.62 349.68,762.92 349.98,761.82 350.28,764.09 350.58,762.89 350.88,761.90 351.18,762.70 351.48,763.45 351.78,764.73 352.08,763.93 352.38,760.80 352.68,763.49 352.98,765.04 353.28,757.97 353.58,766.82 353.88,768.09 354.18,762.29 354.48,765.39 354.78,762.39 355.08,767.37 355.38,766.93 355.68,767.08 355.98,765.69 356.28,767.15 356.58,764.69 356.88,765.94 357.18,761.92 357.48,761.09 357.78,766.78 358.08,766.94 358.38,766.05 358.68,764.60 358.98,767.75 359.28,764.88 359.58,765.90 359.88,763.24 360.18,759.90 360.48,767.57 360.78,766.94 361.08,761.65 361.38,765.16 361.68,766.95 361.98,759.59 362.28,772.15 362.58,764.27 362.88,767.24 363.18,772.14 363.48,762.27 363.78,767.09 364.08,766.95 364.38,766.11 364.68,771.72 364.98,764.96 365.28,766.81 365.58,767.52 365.88,767.06 366.18,765.45 366.48,768.07 366.78,770.25 367.08,767.68 367.38,770.08 367.68,771.16 367.98,765.34 368.28,765.64 368.58,764.25 368.88,765.63 369.18,767.41 369.48,769.34 369.78,766.68 370.08,770.13 370.38,769.73 370.68,769.98 370.98,769.82 371.28,769.70 371.58,769.69 371.88,765.81 372.18,769.24 372.48,763.52 372.78,768.83 373.08,769.28 373.38,768.80 373.68,773.52 373.98,769.62 374.28,770.43 374.58,769.31 374.88,768.40 375.18,771.37 375.48,767.40 375.78,769.65 376.08,771.34 376.38,767.82 376.68,769.51 376.98,767.67 377.28,773.89 377.58,769.40 377.88,766.11 378.18,764.88 378.48,768.70 378.78,766.79 379.08,765.88 379.38,766.63 379.68,770.28 379.98,767.79 380.28,771.58 380.58,768.06 380.88,772.31 381.18,769.80 381.48,765.00 381.78,767.94 382.08,768.47 382.38,764.94 382.68,766.33 382.98,765.62 383.28,767.15 383.58,761.93 383.88,767.68 384.18,768.21 384.48,770.62 384.78,768.23 385.08,767.40 385.38,765.24 385.68,770.34 385.98,768.22 386.28,767.90 386.58,766.47 386.88,768.72 387.18,769.99 387.48,768.58 387.78,770.87 388.08,774.58 388.38,770.31 388.68,769.05 388.98,768.77 389.28,767.44 389.58,769.35 389.88,769.07 390.18,768.70 390.48,769.86 390.78,770.21 391.08,767.20 391.38,769.47 391.68,769.38 391.98,769.16 392.28,762.73 392.58,770.93 392.88,768.62 393.18,769.21 393.48,768.02 393.78,771.25 394.08,769.59 394.38,769.53 394.68,769.83 394.98,775.76 395.28,767.67 395.58,768.65 395.88,766.25 396.18,767.65 396.48,767.68 396.78,766.97 397.08,771.79 397.38,775.48 397.68,770.52 397.98,774.38 398.28,768.54 398.58,765.79 398.88,767.64 399.18,769.17 399.48,769.78 399.78,768.44 400.08,766.81 400.38,770.08 400.68,767.31 400.98,769.74 401.28,768.52 401.58,763.33 401.88,767.76 402.18,765.75 402.48,771.74 402.78,773.12 403.08,768.17 403.38,769.41 403.68,764.16 403.98,768.60 404.28,768.18 404.58,768.88 404.88,774.34 405.18,768.44 405.48,766.08 405.78,767.90 406.08,765.41 406.38,765.90 406.68,768.60 406.98,761.71 407.28,767.17 407.58,767.43 407.88,766.03 408.18,773.02 408.48,763.04 408.78,764.55 409.08,766.74 409.38,766.02 409.68,764.50 409.98,768.09 410.28,766.79 410.58,769.45 410.88,765.31 411.18,766.89 411.48,769.97 411.78,765.98 412.08,769.78 412.38,766.84 412.68,767.88 412.98,771.41 413.28,763.04 413.58,774.71 413.88,769.37 414.18,771.23 414.48,774.56 414.78,766.48 415.08,767.76 415.38,768.39 415.68,770.14 415.98,769.27 416.28,769.01 416.58,763.21 416.88,768.99 417.18,767.67 417.48,770.20 417.78,766.16 418.08,774.08 418.38,767.58 418.68,768.91 418.98,769.02 419.28,767.40 419.58,768.07 419.88,768.97 420.18,768.05 420.48,764.52 420.78,770.71 421.08,769.87 421.38,764.94 421.68,769.37 421.98,768.60 422.28,770.55 422.58,764.46 422.88,766.74 423.18,766.54 423.48,768.61 423.78,767.19 424.08,770.19 424.38,771.70 424.68,769.13 424.98,766.08 425.28,770.93 425.58,769.07 425.88,769.21 426.18,768.80 426.48,770.84 426.78,774.55 427.08,767.67 427.38,770.83 427.68,769.57 427.98,771.74 428.28,770.36 428.58,769.13 428.88,773.29 429.18,769.84 429.48,769.98 429.78,773.57 430.08,770.10 430.38,768.18 430.68,769.49 430.98,768.56 431.28,769.89 431.58,768.94 431.88,767.22 432.18,771.39 432.48,770.94 432.78,768.53 433.08,770.56 433.38,768.45 433.68,769.08 433.98,773.76 434.28,768.38 434.58,768.74 434.88,767.41 435.18,765.98 435.48,769.74 435.78,765.56 436.08,766.31 436.38,765.36 436.68,769.16 436.98,763.75 437.28,767.85 437.58,769.78 437.88,772.85 438.18,768.00 438.48,767.39 438.78,766.91 439.08,765.98 439.38,764.27 439.68,762.54 439.98,764.58 440.28,769.95 440.58,768.81 440.88,770.33 441.18,766.08 441.48,766.15 441.78,768.85 442.08,771.00 442.38,767.42 442.68,769.52 442.98,767.30 443.28,771.92 443.58,765.64 443.88,769.44 444.18,769.63 444.48,771.06 444.78,770.52 445.08,773.41 445.38,769.63 445.68,769.41 445.98,770.96 446.28,771.11 446.58,774.06 446.88,771.23 447.18,775.51 447.48,771.88 447.78,771.65 448.08,771.12 448.38,772.52 448.68,776.60 448.98,771.79 449.28,774.79 449.58,771.16 449.88,775.28 450.18,766.90 450.48,769.12 450.78,771.20 451.08,773.62 451.38,771.39 451.68,773.81 451.98,770.01 452.28,772.42 452.58,774.89 452.88,771.14 453.18,769.73 453.48,776.89 453.78,772.66 454.08,773.19 454.38,775.78 454.68,771.81 454.98,771.72 455.28,772.09 455.58,771.28 455.88,771.85 456.18,767.17 456.48,769.56 456.78,769.93 457.08,770.20 457.38,771.06 457.68,771.77 457.98,765.57 458.28,774.40 458.58,767.24 458.88,769.84 459.18,769.89 459.48,775.30 459.78,771.84 460.08,770.66 460.38,771.30 460.68,772.17 460.98,766.72 461.28,771.26 461.58,773.53 461.88,771.48 462.18,775.77 462.48,776.63 462.78,771.60 463.08,770.09 463.38,772.50 463.68,771.11 463.98,775.61 464.28,772.07 464.58,775.05 464.88,771.07 465.18,772.79 465.48,775.56 465.78,774.99 466.08,776.05 466.38,772.85 466.68,768.04 466.98,773.51 467.28,777.06 467.58,773.83 467.88,774.41 468.18,772.51 468.48,772.22 468.78,774.02 469.08,775.31 469.38,775.42 469.68,775.93 469.98,773.36 470.28,772.85 470.58,769.40 470.88,774.10 471.18,777.23 471.48,771.77 471.78,770.87 472.08,773.43 472.38,772.78 472.68,772.31 472.98,769.14 473.28,774.14 473.58,776.49 473.88,775.01 474.18,773.41 474.48,772.09 474.78,767.88 475.08,773.04 475.38,771.70 475.68,769.90 475.98,773.98 476.28,774.25 476.58,775.87 476.88,772.56 477.18,771.50 477.48,767.61 477.78,772.66 478.08,773.93 478.38,773.16 478.68,775.97 478.98,773.60 479.28,777.36 479.58,768.05 479.88,774.29 480.18,772.88 480.48,771.20 480.78,772.81 481.08,774.63 481.38,773.60 481.68,772.54 481.98,770.27 482.28,772.42 482.58,772.31 482.88,770.69 483.18,774.48 483.48,781.14 483.78,772.90 484.08,777.19 484.38,773.36 484.68,773.23 484.98,773.71 485.28,773.91 485.58,772.81 485.88,773.30 486.18,774.72 486.48,772.66 486.78,776.43 487.08,776.09 487.38,774.83 487.68,773.12 487.98,772.22 488.28,775.71 488.58,771.41 488.88,773.94 489.18,773.98 489.48,772.79 489.78,776.12 490.08,773.85 490.38,776.01 490.68,775.52 490.98,772.62 491.28,776.19 491.58,772.72 491.88,771.76 492.18,773.68 492.48,770.44 492.78,773.07 493.08,774.06 493.38,775.28 493.68,774.13 493.98,774.08 494.28,774.75 494.58,774.25 494.88,774.84 495.18,773.87 495.48,773.42 495.78,774.42 496.08,772.39 496.38,769.45 496.68,773.52 496.98,771.36 497.28,775.67 497.58,776.08 497.88,770.16 498.18,781.14 498.48,776.58 498.78,774.59 499.08,774.50 499.38,770.99 499.68,774.28 499.98,772.55 500.28,773.24 500.58,773.58 500.88,775.24 501.18,774.01 501.48,779.51 501.78,781.14 502.08,772.55 502.38,777.78 502.68,777.10 502.98,774.47 503.28,774.94 503.58,773.16 503.88,775.12 504.18,775.48 504.48,779.43" fill="none" stroke="#8c8c8c" stroke-width="0.9" stroke-linejoin="miter" stroke-miterlimit="2"/><polyline points="302.88,763.68 303.18,763.31 303.48,763.57 303.78,763.94 304.08,764.01 304.38,763.93 304.68,764.04 304.98,764.08 305.28,764.25 305.58,764.55 305.88,764.71 306.18,764.59 306.48,764.15 306.78,764.30 307.08,764.63 307.38,764.25 307.68,763.88 307.98,763.52 308.28,763.31 308.58,762.64 308.88,762.69 309.18,762.98 309.48,763.59 309.78,763.33 310.08,763.87 310.38,764.38 310.68,764.99 310.98,765.07 311.28,765.39 311.58,765.66 311.88,766.22 312.18,766.04 312.48,766.34 312.78,766.56 313.08,766.87 313.38,766.62 313.68,766.86 313.98,766.59 314.28,766.71 314.58,766.00 314.88,766.24 315.18,766.36 315.48,766.34 315.78,766.01 316.08,766.32 316.38,766.29 316.68,765.79 316.98,765.68 317.28,765.62 317.58,765.48 317.88,765.22 318.18,764.83 318.48,764.85 318.78,764.70 319.08,764.63 319.38,764.48 319.68,764.48 319.98,764.00 320.28,764.23 320.58,764.49 320.88,764.26 321.18,764.21 321.48,764.18 321.78,764.17 322.08,764.29 322.38,764.28 322.68,764.16 322.98,764.27 323.28,764.41 323.58,764.60 323.88,765.03 324.18,764.86 324.48,764.82 324.78,764.89 325.08,764.76 325.38,764.77 325.68,764.94 325.98,765.00 326.28,765.33 326.58,765.14 326.88,764.95 327.18,764.92 327.48,764.79 327.78,764.82 328.08,764.89 328.38,765.07 328.68,765.13 328.98,765.43 329.28,765.30 329.58,765.63 329.88,765.47 330.18,765.57 330.48,766.14 330.78,766.39 331.08,766.56 331.38,766.43 331.68,766.82 331.98,766.64 332.28,766.99 332.58,766.98 332.88,766.73 333.18,766.96 333.48,766.77 333.78,767.09 334.08,766.98 334.38,766.61 334.68,766.40 334.98,766.21 335.28,766.58 335.58,766.20 335.88,766.30 336.18,766.04 336.48,766.00 336.78,766.01 337.08,765.96 337.38,765.88 337.68,765.90 337.98,765.81 338.28,766.17 338.58,765.77 338.88,765.79 339.18,765.63 339.48,765.46 339.78,765.35 340.08,765.33 340.38,765.24 340.68,765.40 340.98,765.33 341.28,765.27 341.58,764.94 341.88,764.88 342.18,764.50 342.48,764.77 342.78,764.64 343.08,764.17 343.38,764.18 343.68,764.10 343.98,763.55 344.28,763.55 344.58,763.58 344.88,763.78 345.18,763.93 345.48,764.19 345.78,764.32 346.08,764.73 346.38,764.81 346.68,764.91 346.98,765.29 347.28,765.40 347.58,765.30 347.88,765.18 348.18,764.61 348.48,764.37 348.78,763.95 349.08,763.50 349.38,763.11 349.68,762.86 349.98,762.73 350.28,762.92 350.58,762.85 350.88,762.93 351.18,763.09 351.48,762.92 351.78,763.18 352.08,763.60 352.38,763.53 352.68,763.72 352.98,763.79 353.28,764.12 353.58,764.37 353.88,764.55 354.18,764.66 354.48,765.06 354.78,765.15 355.08,765.22 355.38,765.48 355.68,765.14 355.98,765.08 356.28,765.39 356.58,765.46 356.88,765.63 357.18,765.70 357.48,765.63 357.78,765.61 358.08,765.47 358.38,765.67 358.68,765.81 358.98,765.85 359.28,765.82 359.58,766.06 359.88,766.07 360.18,765.62 360.48,765.99 360.78,765.95 361.08,765.90 361.38,766.31 361.68,766.05 361.98,766.24 362.28,766.01 362.58,766.00 362.88,766.36 363.18,766.63 363.48,766.78 363.78,766.86 364.08,767.36 364.38,766.98 364.68,767.24 364.98,767.47 365.28,767.25 365.58,767.80 365.88,768.12 366.18,768.10 366.48,768.08 366.78,767.57 367.08,767.57 367.38,767.58 367.68,767.67 367.98,767.63 368.28,767.91 368.58,768.02 368.88,768.00 369.18,768.12 369.48,768.08 369.78,767.97 370.08,767.97 370.38,768.16 370.68,768.12 370.98,768.37 371.28,768.54 371.58,768.54 371.88,768.39 372.18,768.40 372.48,768.48 372.78,768.49 373.08,768.45 373.38,768.62 373.68,768.54 373.98,768.72 374.28,768.80 374.58,769.02 374.88,769.03 375.18,768.91 375.48,769.21 375.78,769.57 376.08,769.37 376.38,769.04 376.68,769.02 376.98,768.90 377.28,768.51 377.58,768.42 377.88,768.42 378.18,768.16 378.48,768.37 378.78,768.25 379.08,768.51 379.38,768.23 379.68,767.90 379.98,767.95 380.28,768.09 380.58,767.75 380.88,767.61 381.18,767.62 381.48,767.78 381.78,767.36 382.08,767.44 382.38,767.31 382.68,767.52 382.98,767.30 383.28,767.18 383.58,767.24 383.88,767.43 384.18,767.47 384.48,767.71 384.78,767.80 385.08,768.07 385.38,768.24 385.68,768.60 385.98,768.75 386.28,769.11 386.58,769.07 386.88,769.11 387.18,769.19 387.48,769.33 387.78,769.27 388.08,769.32 388.38,769.37 388.68,769.58 388.98,769.67 389.28,769.50 389.58,769.55 389.88,769.46 390.18,769.13 390.48,768.66 390.78,768.77 391.08,768.77 391.38,768.87 391.68,768.79 391.98,768.93 392.28,768.99 392.58,768.97 392.88,768.96 393.18,769.50 393.48,769.40 393.78,769.34 394.08,769.14 394.38,769.43 394.68,769.22 394.98,769.10 395.28,769.25 395.58,769.70 395.88,769.65 396.18,769.94 396.48,769.87 396.78,769.61 397.08,769.11 397.38,769.19 397.68,769.26 397.98,769.38 398.28,769.32 398.58,769.47 398.88,769.48 399.18,769.35 399.48,768.92 399.78,768.47 400.08,768.06 400.38,767.87 400.68,768.23 400.98,768.55 401.28,768.48 401.58,768.45 401.88,768.17 402.18,768.28 402.48,768.15 402.78,768.24 403.08,768.52 403.38,768.52 403.68,768.69 403.98,768.72 404.28,768.72 404.58,768.38 404.88,768.04 405.18,767.77 405.48,767.58 405.78,767.74 406.08,767.54 406.38,767.79 406.68,767.37 406.98,766.68 407.28,766.47 407.58,766.33 407.88,765.97 408.18,766.17 408.48,766.40 408.78,766.59 409.08,766.75 409.38,766.83 409.68,767.06 409.98,767.11 410.28,766.96 410.58,767.24 410.88,767.49 411.18,767.85 411.48,767.75 411.78,768.47 412.08,768.67 412.38,769.07 412.68,769.44 412.98,769.41 413.28,769.39 413.58,769.23 413.88,769.44 414.18,769.37 414.48,769.49 414.78,769.20 415.08,769.04 415.38,769.32 415.68,769.04 415.98,768.83 416.28,769.00 416.58,768.57 416.88,768.72 417.18,768.79 417.48,768.72 417.78,768.58 418.08,768.56 418.38,768.49 418.68,768.56 418.98,768.66 419.28,768.79 419.58,768.46 419.88,768.65 420.18,768.30 420.48,768.48 420.78,768.20 421.08,768.05 421.38,767.98 421.68,767.99 421.98,767.85 422.28,767.95 422.58,768.35 422.88,768.21 423.18,768.04 423.48,768.45 423.78,768.48 424.08,768.55 424.38,768.47 424.68,768.88 424.98,769.38 425.28,769.46 425.58,769.61 425.88,769.78 426.18,769.90 426.48,769.85 426.78,769.89 427.08,770.38 427.38,770.37 427.68,770.40 427.98,770.63 428.28,770.67 428.58,770.48 428.88,770.15 429.18,770.19 429.48,770.13 429.78,770.08 430.08,769.80 430.38,769.86 430.68,769.97 430.98,769.68 431.28,769.73 431.58,769.65 431.88,769.39 432.18,769.60 432.48,769.57 432.78,769.49 433.08,769.39 433.38,769.12 433.68,769.15 433.98,769.03 434.28,768.69 434.58,768.33 434.88,768.35 435.18,767.91 435.48,767.85 435.78,767.86 436.08,767.77 436.38,767.71 436.68,767.61 436.98,767.59 437.28,767.60 437.58,767.27 437.88,767.09 438.18,766.98 438.48,767.26 438.78,767.24 439.08,767.63 439.38,767.52 439.68,767.27 439.98,766.97 440.28,767.09 440.58,767.00 440.88,767.05 441.18,767.04 441.48,767.69 441.78,768.04 442.08,768.48 442.38,768.58 442.68,768.81 442.98,768.91 443.28,769.44 443.58,769.76 443.88,769.90 444.18,770.02 444.48,770.39 444.78,770.67 445.08,770.85 445.38,771.03 445.68,771.38 445.98,771.50 446.28,771.59 446.58,771.69 446.88,772.08 447.18,771.99 447.48,772.33 447.78,772.46 448.08,772.75 448.38,772.52 448.68,772.25 448.98,772.29 449.28,772.19 449.58,772.13 449.88,772.24 450.18,772.16 450.48,772.14 450.78,772.03 451.08,771.98 451.38,771.67 451.68,772.02 451.98,771.87 452.28,772.26 452.58,772.68 452.88,772.74 453.18,772.65 453.48,772.72 453.78,772.58 454.08,772.64 454.38,772.27 454.68,771.90 454.98,771.79 455.28,771.79 455.58,771.41 455.88,771.33 456.18,770.85 456.48,770.74 456.78,770.44 457.08,770.31 457.38,770.15 457.68,770.38 457.98,770.34 458.28,770.49 458.58,770.52 458.88,770.57 459.18,770.24 459.48,770.17 459.78,770.43 460.08,770.91 460.38,771.11 460.68,771.77 460.98,771.95 461.28,772.02 461.58,771.89 461.88,771.88 462.18,772.22 462.48,772.32 462.78,772.56 463.08,772.90 463.38,773.08 463.68,773.31 463.98,773.63 464.28,773.59 464.58,773.30 464.88,773.03 465.18,773.20 465.48,773.46 465.78,773.61 466.08,773.54 466.38,773.57 466.68,773.39 466.98,773.57 467.28,773.73 467.58,773.72 467.88,773.78 468.18,773.61 468.48,773.61 468.78,773.69 469.08,773.73 469.38,773.74 469.68,773.61 469.98,773.40 470.28,773.45 470.58,773.49 470.88,773.38 471.18,773.00 471.48,772.92 471.78,772.96 472.08,773.07 472.38,773.11 472.68,773.28 472.98,772.91 473.28,772.65 473.58,772.63 473.88,772.56 474.18,772.58 474.48,772.66 474.78,772.87 475.08,773.07 475.38,772.90 475.68,772.35 475.98,772.20 476.28,772.22 476.58,772.26 476.88,772.73 477.18,772.73 477.48,773.04 477.78,772.91 478.08,772.98 478.38,772.94 478.68,772.69 478.98,772.74 479.28,772.96 479.58,773.35 479.88,773.35 480.18,773.14 480.48,773.11 480.78,772.91 481.08,772.76 481.38,772.62 481.68,772.89 481.98,772.86 482.28,773.18 482.58,773.26 482.88,773.24 483.18,773.15 483.48,773.14 483.78,773.13 484.08,773.30 484.38,773.43 484.68,773.44 484.98,773.79 485.28,773.87 485.58,774.05 485.88,774.04 486.18,773.70 486.48,773.81 486.78,773.66 487.08,773.69 487.38,773.73 487.68,773.76 487.98,773.97 488.28,773.93 488.58,774.16 488.88,774.11 489.18,773.91 489.48,774.00 489.78,773.98 490.08,773.96 490.38,773.85 490.68,773.80 490.98,773.76 491.28,773.78 491.58,773.94 491.88,773.82 492.18,773.84 492.48,773.76 492.78,773.69 493.08,773.83 493.38,773.69 493.68,773.74 493.98,773.91 494.28,773.84 494.58,773.79 494.88,773.82 495.18,773.67 495.48,773.71 495.78,773.84 496.08,773.61 496.38,773.52 496.68,773.66 496.98,773.64 497.28,773.67 497.58,773.52 497.88,773.51 498.18,773.52 498.48,773.75 498.78,773.75 499.08,773.99 499.38,773.88 499.68,774.09 499.98,774.12 500.28,774.05 500.58,774.11 500.88,774.29 501.18,774.31 501.48,774.57 501.78,774.52 502.08,774.69 502.38,774.84 502.68,775.21 502.98,775.24 503.28,775.36 503.58,775.07" fill="none" stroke="#000" stroke-width="1.15" stroke-linejoin="round" stroke-linecap="round"/>
<rect x="292.40" y="729.50" width="225.50" height="131.60" fill="none" stroke="#222" stroke-width="1.1"/>
<line x1="287.80" x2="292.40" y1="734.37" y2="734.37" stroke="#222" stroke-width="1"/>
<text x="285.50" y="737.27" font-size="8.2" text-anchor="end">2</text>
<line x1="287.80" x2="292.40" y1="753.12" y2="753.12" stroke="#222" stroke-width="1"/>
<text x="285.50" y="756.02" font-size="8.2" text-anchor="end">1</text>
<line x1="287.80" x2="292.40" y1="771.87" y2="771.87" stroke="#222" stroke-width="1"/>
<text x="285.50" y="774.77" font-size="8.2" text-anchor="end">0</text>
<line x1="287.80" x2="292.40" y1="790.61" y2="790.61" stroke="#222" stroke-width="1"/>
<text x="285.50" y="793.51" font-size="8.2" text-anchor="end">1</text>
<line x1="276.80" x2="280.60" y1="790.81" y2="790.81" stroke="#111" stroke-width="1"/>
<line x1="287.80" x2="292.40" y1="809.36" y2="809.36" stroke="#222" stroke-width="1"/>
<text x="285.50" y="812.26" font-size="8.2" text-anchor="end">2</text>
<line x1="276.80" x2="280.60" y1="809.56" y2="809.56" stroke="#111" stroke-width="1"/>
<line x1="287.80" x2="292.40" y1="828.11" y2="828.11" stroke="#222" stroke-width="1"/>
<text x="285.50" y="831.01" font-size="8.2" text-anchor="end">3</text>
<line x1="276.80" x2="280.60" y1="828.31" y2="828.31" stroke="#111" stroke-width="1"/>
<line x1="287.80" x2="292.40" y1="846.85" y2="846.85" stroke="#222" stroke-width="1"/>
<text x="285.50" y="849.75" font-size="8.2" text-anchor="end">4</text>
<line x1="276.80" x2="280.60" y1="847.05" y2="847.05" stroke="#111" stroke-width="1"/>
<line x1="297.00" x2="297.00" y1="861.10" y2="865.70" stroke="#222" stroke-width="1"/>
<text x="297.00" y="876.10" font-size="8.2" text-anchor="middle">1960</text>
<line x1="333.00" x2="333.00" y1="861.10" y2="865.70" stroke="#222" stroke-width="1"/>
<text x="333.00" y="876.10" font-size="8.2" text-anchor="middle">1970</text>
<line x1="369.00" x2="369.00" y1="861.10" y2="865.70" stroke="#222" stroke-width="1"/>
<text x="369.00" y="876.10" font-size="8.2" text-anchor="middle">1980</text>
<line x1="405.00" x2="405.00" y1="861.10" y2="865.70" stroke="#222" stroke-width="1"/>
<text x="405.00" y="876.10" font-size="8.2" text-anchor="middle">1990</text>
<line x1="441.00" x2="441.00" y1="861.10" y2="865.70" stroke="#222" stroke-width="1"/>
<text x="441.00" y="876.10" font-size="8.2" text-anchor="middle">2000</text>
<line x1="477.00" x2="477.00" y1="861.10" y2="865.70" stroke="#222" stroke-width="1"/>
<text x="477.00" y="876.10" font-size="8.2" text-anchor="middle">2010</text>
<line x1="513.00" x2="513.00" y1="861.10" y2="865.70" stroke="#222" stroke-width="1"/>
<text x="513.00" y="876.10" font-size="8.2" text-anchor="middle">2020</text>
<text transform="translate(270.90,795.30) rotate(-90)" font-size="8.3" text-anchor="middle">error [K]</text>
<text x="405.15" y="724.90" font-size="12.1" font-weight="bold" class="b" text-anchor="middle">E−OBS</text>
</svg></body></html>
